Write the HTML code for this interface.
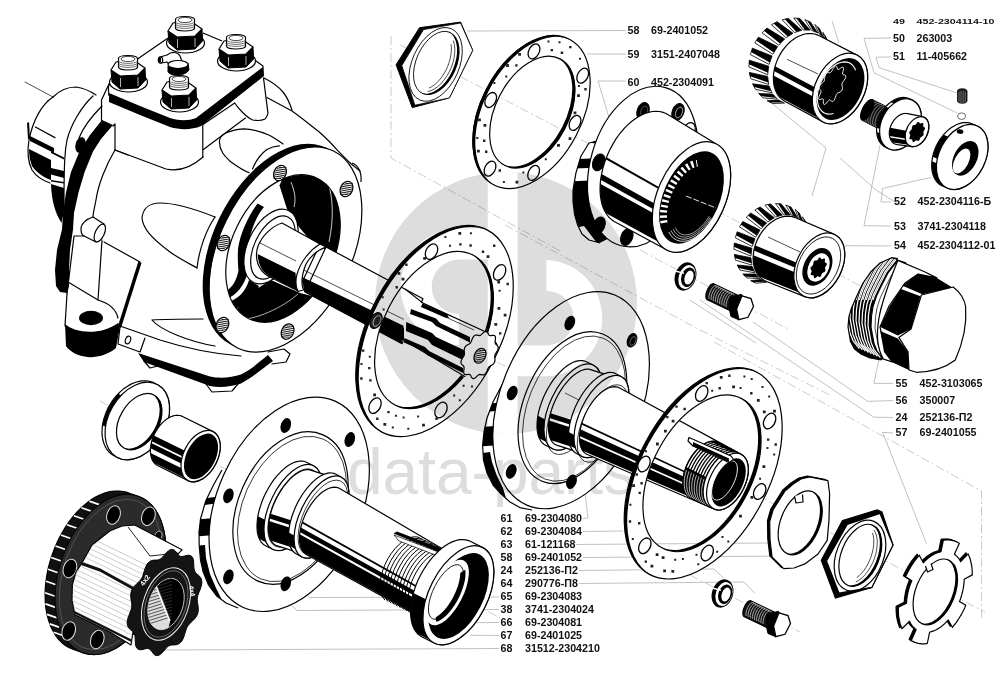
<!DOCTYPE html>
<html><head><meta charset="utf-8"><title>parts</title>
<style>
html,body{margin:0;padding:0;background:#fff;}
svg{display:block}
.lb text{font-family:"Liberation Sans",sans-serif;font-weight:bold;font-size:10.7px;fill:#111}
.k{fill:#000} .w{fill:#fff}
.o{fill:#fff;stroke:#000;stroke-width:1.2}
.l{fill:none;stroke:#000;stroke-width:1.2}
.t{fill:none;stroke:#000;stroke-width:0.7}
.g{fill:none;stroke:#999;stroke-width:0.6}
.d{fill:none;stroke:#aaa;stroke-width:0.6;stroke-dasharray:9 3 2 3}
</style></head>
<body>
<svg width="1007" height="682" viewBox="0 0 1007 682">
<rect width="1007" height="682" fill="#fff"/>
<g id="lines" fill="none"><path class="d" d="M400.0,45.0 L960.0,338.0"/><path class="d" d="M497.0,362.0 L985.0,612.0"/><path class="d" d="M100.0,401.0 L500.0,618.0"/><path class="d" d="M640.0,250.0 L790.0,330.0"/><path class="d" d="M690.0,575.0 L800.0,632.0"/><path class="d" d="M391.0,36.0 L391.0,158.0 L560.0,251.0"/><path class="d" d="M981.5,618.0 L981.5,491.0 L714.0,342.0"/><path class="d" d="M505.0,225.0 L700.0,330.0 L830.0,395.0"/><path class="g" d="M467.0,31.0 L626.0,30.5"/><path class="g" d="M587.0,54.0 L626.0,54.0"/><path class="g" d="M626.0,81.0 L598.0,81.0 L609.0,117.5"/><path class="g" d="M832.0,21.0 L839.0,43.0"/><path class="g" d="M891.0,38.0 L864.0,38.4 L874.0,72.7 L957.0,113.0"/><path class="g" d="M891.0,57.0 L876.0,57.2 L879.0,67.7 L956.6,92.8"/><path class="g" d="M891.0,202.0 L881.0,202.0 L882.6,188.5 L931.5,177.3"/><path class="g" d="M891.0,226.0 L864.0,225.7 L880.0,145.0"/><path class="g" d="M891.0,246.0 L842.5,245.7"/><path class="g" d="M893.0,383.4 L873.9,383.4 L878.9,359.6"/><path class="g" d="M893.0,400.5 L867.6,401.4 L753.0,322.0"/><path class="g" d="M893.0,417.5 L873.9,417.2 L700.0,300.0"/><path class="g" d="M893.0,433.0 L882.6,432.3 L926.5,543.6"/><path class="g" d="M583.0,518.5 L588.0,518.0 L584.0,485.0"/><path class="g" d="M583.0,531.5 L623.0,531.0"/><path class="g" d="M576.0,544.5 L770.0,543.0"/><path class="g" d="M583.0,557.5 L793.0,556.0"/><path class="g" d="M579.0,570.5 L714.0,569.0 L724.0,578.5"/><path class="g" d="M579.0,583.5 L744.0,582.0 L755.0,593.5"/><path class="g" d="M499.0,597.0 L309.5,597.5 L262.0,551.0"/><path class="g" d="M499.0,609.5 L297.0,610.5 L255.0,572.0"/><path class="g" d="M499.0,622.5 L442.0,622.8 L428.0,609.0"/><path class="g" d="M499.0,635.5 L470.0,635.3"/><path class="g" d="M160.0,650.0 L499.0,648.5"/><path class="g" d="M756.0,90.0 L826.0,148.0 L812.0,196.0"/><path class="g" d="M840.0,158.0 L876.0,190.0 L900.0,205.0"/><path class="g" d="M756.0,343.0 L690.0,300.0"/></g>
<g id="housing" stroke-linejoin="round" stroke-linecap="round">
<!-- input flange (left cylinder) -->
<path class="t" d="M25,82 L53,97"/>
<path class="l" d="M53,97 C42,104 33,120 29,140 C27,152 28,162 32,170 C36,176 44,181 50,183"/>
<path class="l" d="M53,97 C60,90 68,87 76,87 C84,88 90,91 96,95"/>
<path class="l" d="M93,96 C82,106 71,124 67,140 C65,150 64,160 64,206"/>
<path class="l" d="M102,106 C92,116 83,128 79,138"/>
<path class="k" d="M27,123 L29,122 L30,139 L28,139Z"/>
<path class="l" d="M35.4,127 L55,137.6"/>
<path class="k" d="M30,136 L54,148 L54,153 L30,141Z"/>
<path class="k" d="M29,149 L51,160 L51,180 C44,178 36,172 32,166 C30,161 29,155 29,149Z"/>
<path class="k" d="M51,151 L64,157.5 L64,159.5 L51,153Z M51,168 L64,171 L64,178 L51,174.5Z M51,180 L64,182 L64,183.5 L51,181.5Z"/>
<path class="k" d="M51,184 L64,188 L64,210 C63,216 62,220 61.5,223 C55,213 51.5,200 51,184Z"/>
<!-- collar thick band -->
<path class="k" d="M102,120 L90,135 L79.5,151.5 L71,172 L66,192.6 L63,213 L62,229.5 L57,250 L55,270 L56,286 L60,292 L67,293 L69,286 L69,270 L70,250 L73,229.5 L74,213 L78.5,192.6 L84.6,172 L93,151.5 L101,139 L113,125Z"/>
<ellipse class="k" cx="80.5" cy="145" rx="5" ry="8" transform="rotate(15 80.5 145)"/>
<!-- box body under cover -->
<path class="l" d="M101.5,100 L101.5,121 M109,84 L101.5,100 M115,124 L115,150 L128,155 M113,126 L115,124"/>
<path class="l" d="M115,150 L166,169 C180,172 193,166 203,157"/>
<path class="l" d="M115,150 C106,165 98,185 96,200 C94,210 93,214 93,217"/>
<!-- boss -->
<path class="l" d="M93,217 C86,219 81,224 81,229 C81,233 82,235 84,236 L96,242 M93,217 L104,224"/>
<ellipse class="l" cx="99.8" cy="233" rx="4.5" ry="9.5" transform="rotate(25 99.8 233)"/>
<!-- bracket -->
<path class="l" d="M84,236 L74,236 M104,242 L140,262 M102,240 L98,300 M74,236 L67,294"/>
<path class="k" d="M138.5,261 L141.5,263 L121,328 L118,326Z"/>
<path class="l" d="M68,282 L98,300 C108,303 116,309 118,318"/>
<path class="l" d="M67,294 L65,326"/>
<ellipse class="k" cx="91" cy="318" rx="12" ry="7.2"/>
<path class="k" d="M65,324 C75,333 100,336 118,323 L120,326 L116,348 C108,355 95,358 88,357 C78,356 70,352 66,346Z"/>
<!-- oval recess -->
<path class="l" d="M142,218 C143,208 150,203 160,203 C175,203 190,207 215,217 M142,218 C143,228 150,237 170,252 C180,259 190,264 197,268"/>
<path class="l" d="M215,217 C206,230 199,250 197,268"/>
<!-- bottom edge of housing -->
<path class="l" d="M120,326 L160,340 C185,348 215,354 241,356"/>
<path class="l" d="M120,327 L118,344 L140,352 L145,338"/>
<ellipse class="l" cx="128" cy="340" rx="2.5" ry="4" transform="rotate(20 128 340)"/>
<path class="l" d="M152,320 C165,319 185,319 203,319 M152,320 C160,330 190,342 215,346"/>
<path class="k" d="M138,353 L210,376.5 C222,379 232,377 241,374.5 C252,369 260,361 268,355 L273,361 C262,369 250,379 241,383.5 C230,387 220,388 210,386 L144,362Z"/>
<path class="l" d="M144,361 L150,368 L158,366 M206,384 L212,392 L232,391 L238,384"/>
<path class="l" d="M268,352 L284,349 L290,354 L286,362 L272,364"/>
<!-- neck / box right side lines -->
<path class="l" d="M202.8,124 L202.8,157 M203,124.4 L234.7,103 C238,108 246,117 252.6,120 C258,121 263,120 265,119 C268,116 268,112 267.8,111.8 L263.5,78"/>
<path class="l" d="M203.4,149.4 L245.4,118"/>
<path class="l" d="M219.5,140.4 C220,135 228,130 243.6,128.8 C255,129 262,132 268.7,135 C275,138 280,142 283,144 M219.5,140.4 C219,150 224,156 231,162 C238,167 244,171 249,172.6"/>
<path class="l" d="M252.6,169 C256,160 262,153 266.9,149.4 C271,147 276,146 279.4,145.8"/>
<path class="l" d="M264,78 C272,82 278,86 283,92 C288,98 290,104 292,110"/>
<path class="l" d="M266.9,97.5 L292,111 C302,118 310,125 318.7,131.5 C326,138 332,144 336.6,149.4 C342,155 348,161 351,163.7 L360,171"/>
</g>

<g id="cover" stroke-linejoin="round"><path class="l" d="M109,96 C108,88 108,84 112,80 L139,58 L168,38 M203,33 L222,41 M252,58 L263,66 L263,76"/><path class="k" d="M109,93 L140,106 L170,118 C180,121 188,121 196,118 L263,67 L264,76 L201,126 C192,130 180,130 170,127 L140,115 L109,102Z"/><g transform="translate(185,37)"><ellipse class="o" cx="0.5" cy="6" rx="19" ry="10"/><path class="k" d="M-17,-6 L-16,6 L-8,13 L10,12 L17.6,4 L17,-8 L10,-1 L-8,0Z" stroke="#000" stroke-width="1"/><path class="o" d="M-17,-6 L-12,-14 L4,-17 L17,-8 L10,-1 L-8,0Z"/><path class="o" d="M-9.5,-9 L-9.5,-17.5 C-9.5,-21.5 9.5,-21.5 9.5,-17.5 L9.5,-9 C9.5,-5 -9.5,-5 -9.5,-9Z"/><ellipse class="l" cx="0" cy="-17" rx="7" ry="2.6" style="stroke-width:.7"/><path class="l" style="stroke-width:.7;stroke:#333" d="M-9.5,-14.5 C-6,-12 6,-12 9.5,-14.5 M-9.5,-12.5 C-6,-10 6,-10 9.5,-12.5 M-9.5,-10.5 C-6,-8 6,-8 9.5,-10.5"/><path d="M-7.5,2 L-7.5,11 M10,1 L10,10" stroke="#fff" stroke-width="0.7" fill="none"/></g><g transform="translate(236,55)"><ellipse class="o" cx="0.5" cy="6" rx="19" ry="10"/><path class="k" d="M-17,-6 L-16,6 L-8,13 L10,12 L17.6,4 L17,-8 L10,-1 L-8,0Z" stroke="#000" stroke-width="1"/><path class="o" d="M-17,-6 L-12,-14 L4,-17 L17,-8 L10,-1 L-8,0Z"/><path class="o" d="M-9.5,-9 L-9.5,-17.5 C-9.5,-21.5 9.5,-21.5 9.5,-17.5 L9.5,-9 C9.5,-5 -9.5,-5 -9.5,-9Z"/><ellipse class="l" cx="0" cy="-17" rx="7" ry="2.6" style="stroke-width:.7"/><path class="l" style="stroke-width:.7;stroke:#333" d="M-9.5,-14.5 C-6,-12 6,-12 9.5,-14.5 M-9.5,-12.5 C-6,-10 6,-10 9.5,-12.5 M-9.5,-10.5 C-6,-8 6,-8 9.5,-10.5"/><path d="M-7.5,2 L-7.5,11 M10,1 L10,10" stroke="#fff" stroke-width="0.7" fill="none"/></g><g transform="translate(128,76)"><ellipse class="o" cx="0.5" cy="6" rx="19" ry="10"/><path class="k" d="M-17,-6 L-16,6 L-8,13 L10,12 L17.6,4 L17,-8 L10,-1 L-8,0Z" stroke="#000" stroke-width="1"/><path class="o" d="M-17,-6 L-12,-14 L4,-17 L17,-8 L10,-1 L-8,0Z"/><path class="o" d="M-9.5,-9 L-9.5,-17.5 C-9.5,-21.5 9.5,-21.5 9.5,-17.5 L9.5,-9 C9.5,-5 -9.5,-5 -9.5,-9Z"/><ellipse class="l" cx="0" cy="-17" rx="7" ry="2.6" style="stroke-width:.7"/><path class="l" style="stroke-width:.7;stroke:#333" d="M-9.5,-14.5 C-6,-12 6,-12 9.5,-14.5 M-9.5,-12.5 C-6,-10 6,-10 9.5,-12.5 M-9.5,-10.5 C-6,-8 6,-8 9.5,-10.5"/><path d="M-7.5,2 L-7.5,11 M10,1 L10,10" stroke="#fff" stroke-width="0.7" fill="none"/></g><path class="o" d="M160,57 L167,55 C172,51 178,52 180,56 L183,64 L170,66 L167,62 L161,63Z"/><ellipse class="o" cx="160.5" cy="60" rx="2.2" ry="3.2"/><path class="k" d="M159,58 L161,57.5 L161,62.5 L159,62Z"/><path class="k" d="M168,66 C172,69 184,68 188,63 L189,70 C185,76 172,77 168,72Z" stroke="#000"/><ellipse class="o" cx="178" cy="64.5" rx="10" ry="4"/><g transform="translate(179,96)"><ellipse class="o" cx="0.5" cy="6" rx="19" ry="10"/><path class="k" d="M-17,-6 L-16,6 L-8,13 L10,12 L17.6,4 L17,-8 L10,-1 L-8,0Z" stroke="#000" stroke-width="1"/><path class="o" d="M-17,-6 L-12,-14 L4,-17 L17,-8 L10,-1 L-8,0Z"/><path class="o" d="M-9.5,-9 L-9.5,-17.5 C-9.5,-21.5 9.5,-21.5 9.5,-17.5 L9.5,-9 C9.5,-5 -9.5,-5 -9.5,-9Z"/><ellipse class="l" cx="0" cy="-17" rx="7" ry="2.6" style="stroke-width:.7"/><path class="l" style="stroke-width:.7;stroke:#333" d="M-9.5,-14.5 C-6,-12 6,-12 9.5,-14.5 M-9.5,-12.5 C-6,-10 6,-10 9.5,-12.5 M-9.5,-10.5 C-6,-8 6,-8 9.5,-10.5"/><path d="M-7.5,2 L-7.5,11 M10,1 L10,10" stroke="#fff" stroke-width="0.7" fill="none"/></g></g>
<g id="oflange" stroke-linejoin="round"><ellipse class="k" cx="279" cy="246.3" rx="66" ry="109.5" transform="rotate(26 279 246.3)" /><ellipse class="o" cx="285.5" cy="249.5" rx="66" ry="109.5" transform="rotate(26 285.5 249.5)" /><path class="l" d="M352,163 C358,165 362,172 361,182"/><clipPath id="borec"><path d="M248.81,318.61 A51,78 26 1 0 317.19,178.39 A51,78 26 1 0 248.81,318.61Z"/></clipPath><ellipse class="o" cx="283" cy="248.5" rx="51" ry="78" transform="rotate(26 283 248.5)" /><g clip-path="url(#borec)"><path class="k" d="M279.5,185.6 L287,209 L299,227 L310,240 L345,262 L370,230 L340,160 L290,160Z"/><path class="k" d="M257.6,203.5 C248,216 240,234 238,249 C237.5,258 238,266 238.5,270 C237,280 232,288 226,291 L226,299 C236,296 246,284 248,270 C248,262 248,256 249.5,240 C252,226 258,214 264,207Z"/><path class="k" d="M249,280 C246,291 238,300 227,302 L229,310 C243,308 255,298 259,286Z"/><path class="k" d="M271,280 L300,293 L312,296 L290,335 L240,335 L231,314 L249,298 L258,288Z"/><path d="M236,320 C256,320 282,308 298,294" stroke="#fff" stroke-width="0.7" fill="none"/><path d="M328,182 C333,198 334,218 329,242" stroke="#fff" stroke-width="0.8" fill="none"/><path d="M291,182 C295,192 296,200 294,207" stroke="#fff" stroke-width="0.8" fill="none"/></g><ellipse class="o" cx="271" cy="246.5" rx="23" ry="40" transform="rotate(26 271 246.5)" /><ellipse class="o" cx="273" cy="247.5" rx="18.5" ry="34" transform="rotate(26 273 247.5)" /><ellipse class="o" cx="280" cy="173" rx="6" ry="8" transform="rotate(26 280 173)" /><g transform="rotate(26 280 173)"><path d="M276.4,168.5 L283.6,165.5 M275.3,170.5 L284.7,167.5 M274.8,172.5 L285.2,169.5 M274.6,174.5 L285.4,171.5 M274.8,176.5 L285.2,173.5 M275.3,178.5 L284.7,175.5 M276.4,180.5 L283.6,177.5 " stroke="#000" stroke-width="0.8" fill="none"/></g><ellipse class="o" cx="346.5" cy="189" rx="6" ry="8" transform="rotate(26 346.5 189)" /><g transform="rotate(26 346.5 189)"><path d="M342.9,184.5 L350.1,181.5 M341.8,186.5 L351.2,183.5 M341.3,188.5 L351.7,185.5 M341.1,190.5 L351.9,187.5 M341.3,192.5 L351.7,189.5 M341.8,194.5 L351.2,191.5 M342.9,196.5 L350.1,193.5 " stroke="#000" stroke-width="0.8" fill="none"/></g><ellipse class="o" cx="223.5" cy="243" rx="6" ry="8" transform="rotate(26 223.5 243)" /><g transform="rotate(26 223.5 243)"><path d="M219.9,238.5 L227.1,235.5 M218.8,240.5 L228.2,237.5 M218.3,242.5 L228.7,239.5 M218.1,244.5 L228.9,241.5 M218.3,246.5 L228.7,243.5 M218.8,248.5 L228.2,245.5 M219.9,250.5 L227.1,247.5 " stroke="#000" stroke-width="0.8" fill="none"/></g><ellipse class="o" cx="222.4" cy="325" rx="6" ry="8" transform="rotate(26 222.4 325)" /><g transform="rotate(26 222.4 325)"><path d="M218.8,320.5 L226.0,317.5 M217.7,322.5 L227.1,319.5 M217.2,324.5 L227.6,321.5 M217.0,326.5 L227.8,323.5 M217.2,328.5 L227.6,325.5 M217.7,330.5 L227.1,327.5 M218.8,332.5 L226.0,329.5 " stroke="#000" stroke-width="0.8" fill="none"/></g><ellipse class="o" cx="287.6" cy="331.6" rx="6" ry="8" transform="rotate(26 287.6 331.6)" /><g transform="rotate(26 287.6 331.6)"><path d="M284.0,327.1 L291.2,324.1 M282.9,329.1 L292.3,326.1 M282.4,331.1 L292.8,328.1 M282.2,333.1 L293.0,330.1 M282.4,335.1 L292.8,332.1 M282.9,337.1 L292.3,334.1 M284.0,339.1 L291.2,336.1 " stroke="#000" stroke-width="0.8" fill="none"/></g></g>
<g id="shaft" stroke-linejoin="round"><path class="o" d="M282,223 L320,244 L298,291 L268,276 C258,270 254,258 258,246 C262,236 272,226 282,223Z"/><path class="k" d="M257.6,254 L295.5,272.7 L297,290.5 L271,277 C264,274 258,266 257.6,254Z"/><path class="t" d="M260,243 L296,261"/><path class="o" d="M326,247 L423,298.7 L402,343.7 L305,292Z"/><path class="k" d="M302,277 L404,326 L402,343.7 L304,291.5Z"/><path class="t" d="M302.7,269.5 L404,319.5"/><path class="o" d="M320,244 C310,250 300,262 296.5,276 C295.5,282 296,288 298,291.5 L303.5,290 C301,284 302,274 306,264 C311,255 318,250 326,247Z"/></g>
<g id="ring2"><path fill="#fff" fill-rule="evenodd" d="M381.86,432.12 A66,114 27.5 1 0 487.14,229.88 A66,114 27.5 1 0 381.86,432.12Z M394.98,404.95 A50.5,84.5 27.5 1 0 473.02,255.05 A50.5,84.5 27.5 1 0 394.98,404.95Z"/><clipPath id="c5d0b3"><path clip-rule="evenodd" d="M-100,-100 H1200 V900 H-100Z M384.86,433.62 A66,114 27.5 1 0 490.14,231.38 A66,114 27.5 1 0 384.86,433.62Z"/></clipPath><path d="M381.86,432.12 A66,114 27.5 1 0 487.14,229.88 A66,114 27.5 1 0 381.86,432.12Z" fill="#000" clip-path="url(#c5d0b3)"/><clipPath id="c5d0b4"><path clip-rule="evenodd" d="M-100,-100 H1200 V900 H-100Z M391.98,403.45 A50.5,84.5 27.5 1 0 470.02,253.55 A50.5,84.5 27.5 1 0 391.98,403.45Z"/></clipPath><path d="M394.98,404.95 A50.5,84.5 27.5 1 0 473.02,255.05 A50.5,84.5 27.5 1 0 394.98,404.95Z" fill="#000" clip-path="url(#c5d0b4)"/><ellipse class="l" cx="434.5" cy="331" rx="66" ry="114" transform="rotate(27.5 434.5 331)" /><ellipse class="l" cx="434" cy="330" rx="50.5" ry="84.5" transform="rotate(27.5 434 330)" /><ellipse class="o" cx="431.5" cy="251.6" rx="5.5" ry="8.3" transform="rotate(27.5 431.5 251.6)" style="stroke-width:1.3"/><ellipse class="o" cx="499.6" cy="272.4" rx="5.5" ry="8.3" transform="rotate(27.5 499.6 272.4)" style="stroke-width:1.3"/><ellipse class="o" cx="491.0" cy="349.2" rx="5.5" ry="8.3" transform="rotate(27.5 491.0 349.2)" style="stroke-width:1.3"/><ellipse class="o" cx="441.0" cy="410" rx="5.5" ry="8.3" transform="rotate(27.5 441.0 410)" style="stroke-width:1.3"/><ellipse class="o" cx="375.0" cy="405.6" rx="5.5" ry="8.3" transform="rotate(27.5 375.0 405.6)" style="stroke-width:1.3"/><ellipse class="o" cx="376.0" cy="320.5" rx="5.5" ry="8.3" transform="rotate(27.5 376.0 320.5)" style="fill:#222"/><ellipse class="l" cx="377.0" cy="321.0" rx="3.3" ry="5.800000000000001" transform="rotate(27.5 377.0 321.0)" style="stroke:#ddd;stroke-width:.7"/><path d="M481.5,356.1h2.8v2.8h-2.8Z M481.7,368.9h2.8v2.8h-2.8Z M472.6,371.3h2.4v2.4h-2.4Z M471.0,385.4h2.0v2.0h-2.0Z M462.6,384.7h2.0v2.0h-2.0Z M458.8,399.3h2.0v2.0h-2.0Z M453.2,394.5h2.0v2.0h-2.0Z M435.3,417.6h2.4v2.4h-2.4Z M422.1,423.7h2.8v2.8h-2.8Z M417.1,415.4h2.0v2.0h-2.0Z M407.3,427.8h2.0v2.0h-2.0Z M402.6,416.4h2.0v2.0h-2.0Z M391.8,426.6h2.0v2.0h-2.0Z M394.9,414.7h2.0v2.0h-2.0Z M383.4,422.9h2.8v2.8h-2.8Z M387.3,410.9h2.4v2.4h-2.4Z M376.1,417.6h2.4v2.4h-2.4Z M373.2,393.4h2.8v2.8h-2.8Z M369.2,379.2h2.4v2.4h-2.4Z M360.2,377.3h2.4v2.4h-2.4Z M368.1,366.9h2.4v2.4h-2.4Z M360.5,362.9h2.0v2.0h-2.0Z M368.8,355.8h2.0v2.0h-2.0Z M362.0,349.4h2.4v2.4h-2.4Z M382.6,308.5h2.0v2.0h-2.0Z M381.7,296.2h2.0v2.0h-2.0Z M395.5,286.1h2.4v2.4h-2.4Z M397.5,271.9h2.8v2.8h-2.8Z M401.6,277.7h2.8v2.8h-2.8Z M405.2,263.5h2.4v2.4h-2.4Z M423.2,257.0h2.8v2.8h-2.8Z M444.4,235.9h2.0v2.0h-2.0Z M449.0,244.8h2.0v2.0h-2.0Z M458.4,231.9h2.8v2.8h-2.8Z M459.2,243.2h2.4v2.4h-2.4Z M469.9,232.3h2.0v2.0h-2.0Z M469.4,244.3h2.4v2.4h-2.4Z M481.8,250.6h2.4v2.4h-2.4Z M493.0,244.6h2.4v2.4h-2.4Z M486.6,255.2h2.8v2.8h-2.8Z M497.3,280.6h2.8v2.8h-2.8Z M506.5,282.8h2.4v2.4h-2.4Z M498.6,289.8h2.0v2.0h-2.0Z M497.5,307.0h2.8v2.8h-2.8Z M503.7,313.7h2.8v2.8h-2.8Z M494.4,323.0h2.8v2.8h-2.8Z M499.0,332.2h2.4v2.4h-2.4Z M490.2,337.9h2.0v2.0h-2.0Z " fill="#222"/></g>
<g id="spline" stroke-linejoin="round"><path class="o" d="M421,303 L488,333 L466,378 L403,341 L405,289Z" style="stroke:none"/><path class="l" d="M405,289 L423.4,303.4 L488.2,333 M404.3,340.6 L465.3,376.8"/><path class="k" d="M384,318 L404,328 L404,341 L384,331Z"/><path class="k" d="M422.4,303.5 L447,314 L449,318 L445,317.5 L421,307Z"/><path class="k" d="M411,309 L436,318.5 L440,323 L470,337 L470,342.5 L436,326 L432,322 L410,314Z"/><path class="k" d="M406.2,322 L432,333 L436,337 L466,351 L466,361.5 L432,345 L428,340 L406,331Z"/><path class="k" d="M404.3,338 L425,347 L429,351 L463,368 L463,373 L427,355 L423,351 L404,342.5Z"/><path class="t" d="M428,309 L474,330 M420,329 L430,334 M436,345 L464,359"/><path class="o" d="M494.4,362.5 L493.6,363.6 L492.7,364.5 L491.6,365.2 L490.5,365.8 L489.5,366.5 L488.7,367.2 L488.1,368.2 L487.6,369.4 L487.1,370.8 L486.5,372.1 L485.7,373.4 L484.8,374.3 L483.9,374.8 L482.8,374.9 L481.8,374.8 L480.9,374.6 L480.0,374.4 L479.1,374.6 L478.3,375.1 L477.3,375.9 L476.4,376.9 L475.3,377.8 L474.3,378.4 L473.3,378.6 L472.5,378.4 L471.8,377.7 L471.2,376.8 L470.8,375.8 L470.3,375.0 L469.7,374.5 L468.9,374.3 L468.0,374.4 L466.9,374.6 L465.8,374.7 L464.9,374.5 L464.2,374.0 L463.8,373.1 L463.7,371.8 L463.8,370.5 L464.0,369.1 L464.1,367.9 L464.0,366.9 L463.6,366.1 L463.0,365.5 L462.3,364.8 L461.6,364.1 L461.1,363.2 L460.9,362.1 L461.2,360.8 L461.7,359.5 L462.5,358.2 L463.2,357.0 L463.9,355.9 L464.3,354.8 L464.5,353.7 L464.4,352.6 L464.3,351.3 L464.2,350.0 L464.4,348.7 L464.8,347.5 L465.6,346.4 L466.5,345.5 L467.6,344.8 L468.7,344.2 L469.7,343.5 L470.5,342.8 L471.1,341.8 L471.6,340.6 L472.1,339.2 L472.7,337.9 L473.5,336.6 L474.4,335.7 L475.3,335.2 L476.4,335.1 L477.4,335.2 L478.3,335.4 L479.2,335.6 L480.1,335.4 L480.9,334.9 L481.9,334.1 L482.8,333.1 L483.9,332.2 L484.9,331.6 L485.9,331.4 L486.7,331.6 L487.4,332.3 L488.0,333.2 L488.4,334.2 L488.9,335.0 L489.5,335.5 L490.3,335.7 L491.2,335.6 L492.3,335.4 L493.4,335.3 L494.3,335.5 L495.0,336.0 L495.4,336.9 L495.5,338.2 L495.4,339.5 L495.2,340.9 L495.1,342.1 L495.2,343.1 L495.6,343.9 L496.2,344.5 L496.9,345.2 L497.6,345.9 L498.1,346.8 L498.3,347.9 L498.0,349.2 L497.5,350.5 L496.7,351.8 L496.0,353.0 L495.3,354.1 L494.9,355.2 L494.7,356.3 L494.8,357.4 L494.9,358.7 L495.0,360.0 L494.8,361.3Z"/><ellipse class="o" cx="480" cy="355.8" rx="5.5" ry="7.8" transform="rotate(27 480 355.8)" /><g transform="rotate(27 480 355.8)"><path d="M476.8,351.3 L483.2,348.3 M475.8,353.3 L484.2,350.3 M475.2,355.3 L484.8,352.3 M475.1,357.3 L484.9,354.3 M475.2,359.3 L484.8,356.3 M475.8,361.3 L484.2,358.3 M476.8,363.3 L483.2,360.3 " stroke="#000" stroke-width="0.8" fill="none"/></g></g>
<g id="race" stroke-linejoin="round"><clipPath id="hb46f1"><path d="M102.0,431.7 L102.2,428.5 L102.5,425.2 L103.1,421.8 L104.0,418.4 L105.1,415.1 L106.4,411.7 L107.9,408.4 L109.6,405.2 L111.5,402.2 L113.6,399.2 L115.8,396.4 L118.2,393.8 L120.7,391.4 L123.3,389.1 L126.0,387.2 L128.8,385.4 L131.6,383.9 L134.4,382.7 L137.2,381.8 L140.0,381.2 L142.7,380.8 L145.4,380.8 L148.0,381.0 L150.5,381.6 L152.9,382.4 L155.1,383.5 L158.1,385.0 L160.2,386.4 L162.1,388.0 L163.8,389.9 L165.3,392.0 L166.6,394.4 L167.7,396.9 L168.5,399.7 L169.1,402.6 L169.5,405.6 L169.6,408.8 L169.4,412.0 L169.1,415.3 L168.5,418.7 L167.6,422.1 L166.5,425.4 L165.2,428.8 L163.7,432.1 L162.0,435.2 L160.1,438.3 L158.0,441.3 L155.8,444.1 L153.4,446.7 L150.9,449.1 L148.3,451.4 L145.6,453.3 L142.8,455.1 L140.0,456.6 L137.2,457.8 L134.4,458.7 L131.6,459.3 L128.9,459.7 L126.2,459.7 L123.6,459.5 L121.1,458.9 L118.7,458.1 L116.5,457.0 L113.5,455.5 L111.4,454.1 L109.5,452.5 L107.8,450.6 L106.3,448.5 L105.0,446.1 L104.0,443.6 L103.1,440.8 L102.5,437.9 L102.1,434.9Z"/></clipPath><path d="M102.0,431.7 L102.2,428.5 L102.5,425.2 L103.1,421.8 L104.0,418.4 L105.1,415.1 L106.4,411.7 L107.9,408.4 L109.6,405.2 L111.5,402.2 L113.6,399.2 L115.8,396.4 L118.2,393.8 L120.7,391.4 L123.3,389.1 L126.0,387.2 L128.8,385.4 L131.6,383.9 L134.4,382.7 L137.2,381.8 L140.0,381.2 L142.7,380.8 L145.4,380.8 L148.0,381.0 L150.5,381.6 L152.9,382.4 L155.1,383.5 L158.1,385.0 L160.2,386.4 L162.1,388.0 L163.8,389.9 L165.3,392.0 L166.6,394.4 L167.7,396.9 L168.5,399.7 L169.1,402.6 L169.5,405.6 L169.6,408.8 L169.4,412.0 L169.1,415.3 L168.5,418.7 L167.6,422.1 L166.5,425.4 L165.2,428.8 L163.7,432.1 L162.0,435.2 L160.1,438.3 L158.0,441.3 L155.8,444.1 L153.4,446.7 L150.9,449.1 L148.3,451.4 L145.6,453.3 L142.8,455.1 L140.0,456.6 L137.2,457.8 L134.4,458.7 L131.6,459.3 L128.9,459.7 L126.2,459.7 L123.6,459.5 L121.1,458.9 L118.7,458.1 L116.5,457.0 L113.5,455.5 L111.4,454.1 L109.5,452.5 L107.8,450.6 L106.3,448.5 L105.0,446.1 L104.0,443.6 L103.1,440.8 L102.5,437.9 L102.1,434.9Z" fill="#fff"/><g clip-path="url(#hb46f1)"><path class="k" d="M102.5,425.2 L103.1,421.8 L104.0,418.4 L105.1,415.1 L106.4,411.7 L107.9,408.4 L109.6,405.2 L111.5,402.2 L113.6,399.2 L115.8,396.4 L118.2,393.8 L121.2,395.3 L118.8,397.9 L116.6,400.7 L114.5,403.7 L112.6,406.8 L110.9,409.9 L109.4,413.2 L108.1,416.6 L107.0,419.9 L106.1,423.3 L105.5,426.7Z"/></g><path class="l" d="M102.0,431.7 L102.2,428.5 L102.5,425.2 L103.1,421.8 L104.0,418.4 L105.1,415.1 L106.4,411.7 L107.9,408.4 L109.6,405.2 L111.5,402.2 L113.6,399.2 L115.8,396.4 L118.2,393.8 L120.7,391.4 L123.3,389.1 L126.0,387.2 L128.8,385.4 L131.6,383.9 L134.4,382.7 L137.2,381.8 L140.0,381.2 L142.7,380.8 L145.4,380.8 L148.0,381.0 L150.5,381.6 L152.9,382.4 L155.1,383.5 L158.1,385.0 L160.2,386.4 L162.1,388.0 L163.8,389.9 L165.3,392.0 L166.6,394.4 L167.7,396.9 L168.5,399.7 L169.1,402.6 L169.5,405.6 L169.6,408.8 L169.4,412.0 L169.1,415.3 L168.5,418.7 L167.6,422.1 L166.5,425.4 L165.2,428.8 L163.7,432.1 L162.0,435.2 L160.1,438.3 L158.0,441.3 L155.8,444.1 L153.4,446.7 L150.9,449.1 L148.3,451.4 L145.6,453.3 L142.8,455.1 L140.0,456.6 L137.2,457.8 L134.4,458.7 L131.6,459.3 L128.9,459.7 L126.2,459.7 L123.6,459.5 L121.1,458.9 L118.7,458.1 L116.5,457.0 L113.5,455.5 L111.4,454.1 L109.5,452.5 L107.8,450.6 L106.3,448.5 L105.0,446.1 L104.0,443.6 L103.1,440.8 L102.5,437.9 L102.1,434.9Z"/><ellipse class="o" cx="137.3" cy="421" rx="28.5" ry="41.6" transform="rotate(30 137.3 421)" /><clipPath id="cb46f1"><path clip-rule="evenodd" d="M-100,-100 H1200 V900 H-100Z M121.35,446.81 A19.5,30.5 30 1 0 151.85,393.99 A19.5,30.5 30 1 0 121.35,446.81Z"/></clipPath><path d="M123.95,448.01 A19.5,30.5 30 1 0 154.45,395.19 A19.5,30.5 30 1 0 123.95,448.01Z" fill="#000" clip-path="url(#cb46f1)"/><ellipse class="l" cx="139.2" cy="421.6" rx="19.5" ry="30.5" transform="rotate(30 139.2 421.6)" /></g><g id="bush" stroke-linejoin="round"><clipPath id="hb46f2"><path d="M150.4,450.8 L150.4,448.7 L150.6,446.6 L151.0,444.4 L151.5,442.1 L152.1,439.9 L152.9,437.6 L153.8,435.4 L154.8,433.3 L156.0,431.2 L157.2,429.1 L158.6,427.2 L160.0,425.4 L161.6,423.6 L163.1,422.1 L164.8,420.6 L166.4,419.3 L168.1,418.2 L169.8,417.3 L171.5,416.5 L173.2,415.9 L174.9,415.5 L176.6,415.3 L178.1,415.3 L179.7,415.5 L181.1,415.9 L182.5,416.5 L213.1,431.6 L214.4,432.4 L215.5,433.3 L216.6,434.4 L217.5,435.7 L218.3,437.1 L219.0,438.7 L219.5,440.5 L219.9,442.3 L220.1,444.2 L220.2,446.3 L220.2,448.4 L220.0,450.5 L219.6,452.7 L219.1,455.0 L218.5,457.2 L217.7,459.4 L216.8,461.6 L215.8,463.8 L214.6,465.9 L213.3,468.0 L212.0,469.9 L210.6,471.7 L209.1,473.4 L207.5,475.0 L205.8,476.5 L204.2,477.8 L202.5,478.9 L200.8,479.8 L199.1,480.6 L197.4,481.2 L195.7,481.6 L194.1,481.8 L192.5,481.8 L190.9,481.6 L189.5,481.2 L188.1,480.6 L157.5,465.5 L156.2,464.7 L155.1,463.8 L154.0,462.7 L153.1,461.4 L152.3,459.9 L151.6,458.4 L151.1,456.6 L150.7,454.8 L150.5,452.9Z"/></clipPath><path d="M150.4,450.8 L150.4,448.7 L150.6,446.6 L151.0,444.4 L151.5,442.1 L152.1,439.9 L152.9,437.6 L153.8,435.4 L154.8,433.3 L156.0,431.2 L157.2,429.1 L158.6,427.2 L160.0,425.4 L161.6,423.6 L163.1,422.1 L164.8,420.6 L166.4,419.3 L168.1,418.2 L169.8,417.3 L171.5,416.5 L173.2,415.9 L174.9,415.5 L176.6,415.3 L178.1,415.3 L179.7,415.5 L181.1,415.9 L182.5,416.5 L213.1,431.6 L214.4,432.4 L215.5,433.3 L216.6,434.4 L217.5,435.7 L218.3,437.1 L219.0,438.7 L219.5,440.5 L219.9,442.3 L220.1,444.2 L220.2,446.3 L220.2,448.4 L220.0,450.5 L219.6,452.7 L219.1,455.0 L218.5,457.2 L217.7,459.4 L216.8,461.6 L215.8,463.8 L214.6,465.9 L213.3,468.0 L212.0,469.9 L210.6,471.7 L209.1,473.4 L207.5,475.0 L205.8,476.5 L204.2,477.8 L202.5,478.9 L200.8,479.8 L199.1,480.6 L197.4,481.2 L195.7,481.6 L194.1,481.8 L192.5,481.8 L190.9,481.6 L189.5,481.2 L188.1,480.6 L157.5,465.5 L156.2,464.7 L155.1,463.8 L154.0,462.7 L153.1,461.4 L152.3,459.9 L151.6,458.4 L151.1,456.6 L150.7,454.8 L150.5,452.9Z" fill="#fff"/><g clip-path="url(#hb46f2)"><path class="k" d="M154.2,462.9 L153.6,462.2 L153.1,461.3 L152.5,460.5 L152.1,459.5 L151.7,458.5 L151.3,457.5 L151.0,456.4 L150.8,455.3 L150.6,454.1 L150.5,452.9 L181.1,468.0 L181.2,469.2 L181.4,470.4 L181.6,471.5 L181.9,472.6 L182.3,473.6 L182.7,474.6 L183.1,475.6 L183.7,476.4 L184.2,477.3 L184.8,478.0Z"/><path class="k" d="M150.5,448.3 L150.6,447.0 L150.8,445.8 L151.0,444.5 L151.2,443.2 L151.6,441.9 L151.9,440.6 L152.3,439.3 L152.8,438.0 L153.3,436.7 L153.8,435.4 L184.4,450.5 L183.9,451.8 L183.4,453.1 L182.9,454.4 L182.5,455.7 L182.2,457.0 L181.8,458.3 L181.6,459.6 L181.4,460.9 L181.2,462.1 L181.1,463.4Z"/><path class="w" d="M151.3,443.0 L151.3,442.8 L151.4,442.7 L151.4,442.5 L151.5,442.3 L151.5,442.1 L151.5,441.9 L151.6,441.8 L151.6,441.6 L151.7,441.4 L151.7,441.2 L182.3,456.3 L182.3,456.5 L182.2,456.7 L182.2,456.9 L182.1,457.0 L182.1,457.2 L182.1,457.4 L182.0,457.6 L182.0,457.8 L181.9,457.9 L181.9,458.1Z"/></g><path class="l" d="M150.4,450.8 L150.4,448.7 L150.6,446.6 L151.0,444.4 L151.5,442.1 L152.1,439.9 L152.9,437.6 L153.8,435.4 L154.8,433.3 L156.0,431.2 L157.2,429.1 L158.6,427.2 L160.0,425.4 L161.6,423.6 L163.1,422.1 L164.8,420.6 L166.4,419.3 L168.1,418.2 L169.8,417.3 L171.5,416.5 L173.2,415.9 L174.9,415.5 L176.6,415.3 L178.1,415.3 L179.7,415.5 L181.1,415.9 L182.5,416.5 L213.1,431.6 L214.4,432.4 L215.5,433.3 L216.6,434.4 L217.5,435.7 L218.3,437.1 L219.0,438.7 L219.5,440.5 L219.9,442.3 L220.1,444.2 L220.2,446.3 L220.2,448.4 L220.0,450.5 L219.6,452.7 L219.1,455.0 L218.5,457.2 L217.7,459.4 L216.8,461.6 L215.8,463.8 L214.6,465.9 L213.3,468.0 L212.0,469.9 L210.6,471.7 L209.1,473.4 L207.5,475.0 L205.8,476.5 L204.2,477.8 L202.5,478.9 L200.8,479.8 L199.1,480.6 L197.4,481.2 L195.7,481.6 L194.1,481.8 L192.5,481.8 L190.9,481.6 L189.5,481.2 L188.1,480.6 L157.5,465.5 L156.2,464.7 L155.1,463.8 L154.0,462.7 L153.1,461.4 L152.3,459.9 L151.6,458.4 L151.1,456.6 L150.7,454.8 L150.5,452.9Z"/><ellipse class="o" cx="200.6" cy="456.1" rx="17" ry="27.5" transform="rotate(27 200.6 456.1)" /><ellipse class="k" cx="201" cy="456.4" rx="14.5" ry="24.5" transform="rotate(27 201 456.4)" /></g>
<g id="p65" stroke-linejoin="round"><clipPath id="rim65"><path d="M222.0,470.0 L214.0,484.0 L205.8,500.7 L200.5,519.0 L199.0,532.0 L199.2,545.5 L200.5,560.0 L203.2,572.0 L208.5,585.0 L216.4,595.7 L226.0,603.0 L238.0,608.0 L256.0,604.0 L236.0,575.0 L228.0,535.0 L238.0,480.0Z"/></clipPath><g clip-path="url(#rim65)"><path class="w" d="M222.0,470.0 L214.0,484.0 L205.8,500.7 L200.5,519.0 L199.0,532.0 L199.2,545.5 L200.5,560.0 L203.2,572.0 L208.5,585.0 L216.4,595.7 L226.0,603.0 L238.0,608.0 L256.0,604.0 L236.0,575.0 L228.0,535.0 L238.0,480.0Z"/><path class="k" d="M190,500 L240,494 L240,500 L190,507Z M190,520 L240,516 L240,533 L190,537Z"/><path class="k" d="M199.2,545.5 L200.5,560.0 L203.2,572.0 L208.5,585.0 L216.4,595.7 L222.0,600.0 L216.0,588.0 L210.0,574.0 L206.0,558.0 L205.0,545.0Z"/></g><path class="l" d="M222.0,470.0 L214.0,484.0 L205.8,500.7 L200.5,519.0 L199.0,532.0 L199.2,545.5 L200.5,560.0 L203.2,572.0 L208.5,585.0 L216.4,595.7 L226.0,603.0 L238.0,608.0"/><ellipse class="o" cx="289.2" cy="504.3" rx="71.8" ry="112.9" transform="rotate(24 289.2 504.3)" /><ellipse class="l" cx="290.5" cy="508" rx="52" ry="80" transform="rotate(24 290.5 508)" /><ellipse class="t" cx="292" cy="509" rx="49" ry="76.5" transform="rotate(24 292 509)" /><ellipse class="k" cx="285.8" cy="425.5" rx="5" ry="7.6" transform="rotate(19 285.8 425.5)" /><ellipse class="k" cx="349.8" cy="439.5" rx="5" ry="7.6" transform="rotate(19 349.8 439.5)" /><ellipse class="k" cx="228.4" cy="495.8" rx="5" ry="7.6" transform="rotate(19 228.4 495.8)" /><ellipse class="k" cx="228.4" cy="576.8" rx="5" ry="7.6" transform="rotate(19 228.4 576.8)" /><ellipse class="k" cx="285.8" cy="583.8" rx="5" ry="7.6" transform="rotate(19 285.8 583.8)" /><clipPath id="h0ae51"><path d="M257.0,526.4 L257.1,523.1 L257.4,519.7 L257.9,516.2 L258.6,512.5 L259.6,508.8 L260.8,505.1 L262.1,501.3 L263.6,497.6 L265.3,493.9 L267.2,490.3 L269.2,486.8 L271.3,483.4 L273.6,480.2 L275.9,477.2 L278.3,474.4 L280.8,471.8 L283.3,469.4 L285.8,467.3 L288.3,465.5 L290.8,464.0 L293.3,462.8 L295.7,461.9 L298.1,461.3 L300.3,461.0 L302.5,461.1 L304.5,461.5 L306.4,462.2 L313.4,465.7 L315.1,466.7 L316.7,468.1 L318.0,469.7 L319.2,471.7 L320.2,473.9 L321.0,476.4 L321.6,479.1 L321.9,482.0 L322.0,485.1 L321.9,488.4 L321.6,491.8 L321.1,495.3 L320.4,499.0 L319.4,502.7 L318.2,506.4 L316.9,510.2 L315.4,513.9 L313.7,517.6 L311.8,521.2 L309.8,524.7 L307.7,528.1 L305.4,531.3 L303.1,534.3 L300.7,537.1 L298.2,539.7 L295.7,542.1 L293.2,544.2 L290.7,546.0 L288.2,547.5 L285.7,548.7 L283.3,549.6 L280.9,550.2 L278.7,550.5 L276.5,550.4 L274.5,550.0 L272.6,549.3 L265.6,545.8 L263.9,544.8 L262.3,543.4 L261.0,541.8 L259.8,539.8 L258.8,537.6 L258.0,535.1 L257.4,532.5 L257.1,529.5Z"/></clipPath><path d="M257.0,526.4 L257.1,523.1 L257.4,519.7 L257.9,516.2 L258.6,512.5 L259.6,508.8 L260.8,505.1 L262.1,501.3 L263.6,497.6 L265.3,493.9 L267.2,490.3 L269.2,486.8 L271.3,483.4 L273.6,480.2 L275.9,477.2 L278.3,474.4 L280.8,471.8 L283.3,469.4 L285.8,467.3 L288.3,465.5 L290.8,464.0 L293.3,462.8 L295.7,461.9 L298.1,461.3 L300.3,461.0 L302.5,461.1 L304.5,461.5 L306.4,462.2 L313.4,465.7 L315.1,466.7 L316.7,468.1 L318.0,469.7 L319.2,471.7 L320.2,473.9 L321.0,476.4 L321.6,479.1 L321.9,482.0 L322.0,485.1 L321.9,488.4 L321.6,491.8 L321.1,495.3 L320.4,499.0 L319.4,502.7 L318.2,506.4 L316.9,510.2 L315.4,513.9 L313.7,517.6 L311.8,521.2 L309.8,524.7 L307.7,528.1 L305.4,531.3 L303.1,534.3 L300.7,537.1 L298.2,539.7 L295.7,542.1 L293.2,544.2 L290.7,546.0 L288.2,547.5 L285.7,548.7 L283.3,549.6 L280.9,550.2 L278.7,550.5 L276.5,550.4 L274.5,550.0 L272.6,549.3 L265.6,545.8 L263.9,544.8 L262.3,543.4 L261.0,541.8 L259.8,539.8 L258.8,537.6 L258.0,535.1 L257.4,532.5 L257.1,529.5Z" fill="#fff"/><g clip-path="url(#h0ae51)"><path class="k" d="M259.4,539.0 L258.7,537.2 L258.1,535.4 L257.6,533.3 L257.3,531.2 L257.1,528.9 L257.0,526.6 L257.0,524.1 L257.2,521.5 L257.5,518.9 L257.9,516.2 L264.9,519.7 L264.5,522.4 L264.2,525.0 L264.0,527.6 L264.0,530.1 L264.1,532.4 L264.3,534.7 L264.6,536.8 L265.1,538.9 L265.7,540.7 L266.4,542.5Z"/></g><path class="l" d="M257.0,526.4 L257.1,523.1 L257.4,519.7 L257.9,516.2 L258.6,512.5 L259.6,508.8 L260.8,505.1 L262.1,501.3 L263.6,497.6 L265.3,493.9 L267.2,490.3 L269.2,486.8 L271.3,483.4 L273.6,480.2 L275.9,477.2 L278.3,474.4 L280.8,471.8 L283.3,469.4 L285.8,467.3 L288.3,465.5 L290.8,464.0 L293.3,462.8 L295.7,461.9 L298.1,461.3 L300.3,461.0 L302.5,461.1 L304.5,461.5 L306.4,462.2 L313.4,465.7 L315.1,466.7 L316.7,468.1 L318.0,469.7 L319.2,471.7 L320.2,473.9 L321.0,476.4 L321.6,479.1 L321.9,482.0 L322.0,485.1 L321.9,488.4 L321.6,491.8 L321.1,495.3 L320.4,499.0 L319.4,502.7 L318.2,506.4 L316.9,510.2 L315.4,513.9 L313.7,517.6 L311.8,521.2 L309.8,524.7 L307.7,528.1 L305.4,531.3 L303.1,534.3 L300.7,537.1 L298.2,539.7 L295.7,542.1 L293.2,544.2 L290.7,546.0 L288.2,547.5 L285.7,548.7 L283.3,549.6 L280.9,550.2 L278.7,550.5 L276.5,550.4 L274.5,550.0 L272.6,549.3 L265.6,545.8 L263.9,544.8 L262.3,543.4 L261.0,541.8 L259.8,539.8 L258.8,537.6 L258.0,535.1 L257.4,532.5 L257.1,529.5Z"/><ellipse class="o" cx="293" cy="507.5" rx="23" ry="46.5" transform="rotate(26 293 507.5)" /><ellipse class="t" cx="294" cy="508.0" rx="20.5" ry="42.5" transform="rotate(26 294 508.0)" /><clipPath id="h0ae52"><path d="M268.4,528.2 L268.5,525.3 L268.8,522.2 L269.3,519.1 L270.0,515.8 L270.9,512.5 L271.9,509.2 L273.1,505.8 L274.5,502.5 L276.0,499.2 L277.7,496.0 L279.5,492.9 L281.4,489.9 L283.3,487.0 L285.4,484.3 L287.5,481.8 L289.7,479.4 L291.9,477.3 L294.1,475.4 L296.4,473.8 L298.6,472.4 L300.8,471.3 L302.9,470.5 L304.9,469.9 L306.9,469.7 L308.8,469.7 L310.6,470.1 L332.6,477.1 L334.2,477.7 L335.7,478.6 L337.0,479.8 L338.2,481.2 L339.2,482.9 L340.1,484.9 L340.7,487.1 L341.2,489.5 L341.5,492.1 L341.6,494.8 L341.5,497.7 L341.2,500.8 L340.7,503.9 L340.0,507.2 L339.1,510.5 L338.1,513.8 L336.9,517.2 L335.5,520.5 L334.0,523.8 L332.3,527.0 L330.5,530.1 L328.6,533.1 L326.7,536.0 L324.6,538.7 L322.5,541.2 L320.3,543.6 L318.1,545.7 L315.9,547.6 L313.6,549.2 L311.4,550.6 L309.2,551.7 L307.1,552.5 L305.1,553.0 L303.1,553.3 L301.2,553.3 L299.4,552.9 L277.4,545.9 L275.8,545.3 L274.3,544.4 L273.0,543.2 L271.8,541.8 L270.8,540.0 L269.9,538.1 L269.3,535.9 L268.8,533.5 L268.5,530.9Z"/></clipPath><path d="M268.4,528.2 L268.5,525.3 L268.8,522.2 L269.3,519.1 L270.0,515.8 L270.9,512.5 L271.9,509.2 L273.1,505.8 L274.5,502.5 L276.0,499.2 L277.7,496.0 L279.5,492.9 L281.4,489.9 L283.3,487.0 L285.4,484.3 L287.5,481.8 L289.7,479.4 L291.9,477.3 L294.1,475.4 L296.4,473.8 L298.6,472.4 L300.8,471.3 L302.9,470.5 L304.9,469.9 L306.9,469.7 L308.8,469.7 L310.6,470.1 L332.6,477.1 L334.2,477.7 L335.7,478.6 L337.0,479.8 L338.2,481.2 L339.2,482.9 L340.1,484.9 L340.7,487.1 L341.2,489.5 L341.5,492.1 L341.6,494.8 L341.5,497.7 L341.2,500.8 L340.7,503.9 L340.0,507.2 L339.1,510.5 L338.1,513.8 L336.9,517.2 L335.5,520.5 L334.0,523.8 L332.3,527.0 L330.5,530.1 L328.6,533.1 L326.7,536.0 L324.6,538.7 L322.5,541.2 L320.3,543.6 L318.1,545.7 L315.9,547.6 L313.6,549.2 L311.4,550.6 L309.2,551.7 L307.1,552.5 L305.1,553.0 L303.1,553.3 L301.2,553.3 L299.4,552.9 L277.4,545.9 L275.8,545.3 L274.3,544.4 L273.0,543.2 L271.8,541.8 L270.8,540.0 L269.9,538.1 L269.3,535.9 L268.8,533.5 L268.5,530.9Z" fill="#fff"/><g clip-path="url(#h0ae52)"><path class="k" d="M271.1,540.8 L270.2,538.9 L269.5,536.8 L269.0,534.5 L268.6,532.0 L268.4,529.3 L268.5,526.4 L268.7,523.4 L269.1,520.3 L269.7,517.1 L270.5,513.8 L292.5,520.8 L291.7,524.1 L291.1,527.3 L290.7,530.4 L290.5,533.4 L290.4,536.3 L290.6,539.0 L291.0,541.5 L291.5,543.8 L292.2,545.9 L293.1,547.8Z"/><path class="w" d="M269.0,521.0 L269.1,520.7 L269.1,520.5 L269.1,520.2 L269.2,520.0 L269.2,519.7 L269.3,519.4 L269.3,519.2 L269.4,518.9 L269.4,518.7 L269.5,518.4 L291.5,525.4 L291.4,525.7 L291.4,525.9 L291.3,526.2 L291.3,526.4 L291.2,526.7 L291.2,527.0 L291.1,527.2 L291.1,527.5 L291.1,527.7 L291.0,528.0Z"/></g><path class="l" d="M268.4,528.2 L268.5,525.3 L268.8,522.2 L269.3,519.1 L270.0,515.8 L270.9,512.5 L271.9,509.2 L273.1,505.8 L274.5,502.5 L276.0,499.2 L277.7,496.0 L279.5,492.9 L281.4,489.9 L283.3,487.0 L285.4,484.3 L287.5,481.8 L289.7,479.4 L291.9,477.3 L294.1,475.4 L296.4,473.8 L298.6,472.4 L300.8,471.3 L302.9,470.5 L304.9,469.9 L306.9,469.7 L308.8,469.7 L310.6,470.1 L332.6,477.1 L334.2,477.7 L335.7,478.6 L337.0,479.8 L338.2,481.2 L339.2,482.9 L340.1,484.9 L340.7,487.1 L341.2,489.5 L341.5,492.1 L341.6,494.8 L341.5,497.7 L341.2,500.8 L340.7,503.9 L340.0,507.2 L339.1,510.5 L338.1,513.8 L336.9,517.2 L335.5,520.5 L334.0,523.8 L332.3,527.0 L330.5,530.1 L328.6,533.1 L326.7,536.0 L324.6,538.7 L322.5,541.2 L320.3,543.6 L318.1,545.7 L315.9,547.6 L313.6,549.2 L311.4,550.6 L309.2,551.7 L307.1,552.5 L305.1,553.0 L303.1,553.3 L301.2,553.3 L299.4,552.9 L277.4,545.9 L275.8,545.3 L274.3,544.4 L273.0,543.2 L271.8,541.8 L270.8,540.0 L269.9,538.1 L269.3,535.9 L268.8,533.5 L268.5,530.9Z"/><clipPath id="h0ae53"><path d="M288.5,535.6 L288.7,532.5 L289.0,529.2 L289.5,525.8 L290.2,522.4 L291.2,518.8 L292.3,515.2 L293.6,511.7 L295.1,508.1 L296.7,504.6 L298.4,501.1 L300.4,497.8 L302.4,494.5 L304.5,491.5 L306.7,488.6 L309.0,485.8 L311.4,483.3 L313.7,481.1 L316.1,479.1 L318.5,477.3 L320.9,475.8 L323.2,474.6 L325.5,473.8 L327.7,473.2 L329.8,472.9 L331.9,473.0 L333.8,473.3 L335.5,474.0 L341.0,477.0 L342.6,478.0 L344.1,479.2 L345.3,480.8 L346.4,482.6 L347.4,484.7 L348.1,487.1 L348.6,489.6 L348.9,492.4 L349.0,495.4 L348.8,498.5 L348.5,501.8 L348.0,505.2 L347.3,508.6 L346.3,512.2 L345.2,515.8 L343.9,519.3 L342.4,522.9 L340.8,526.4 L339.1,529.9 L337.1,533.2 L335.1,536.5 L333.0,539.5 L330.8,542.5 L328.5,545.2 L326.1,547.7 L323.8,549.9 L321.4,552.0 L319.0,553.7 L316.6,555.2 L314.3,556.4 L312.0,557.2 L309.8,557.8 L307.7,558.1 L305.6,558.0 L303.8,557.7 L302.0,557.0 L296.5,554.0 L294.9,553.0 L293.4,551.8 L292.2,550.2 L291.1,548.4 L290.1,546.3 L289.4,543.9 L288.9,541.4 L288.6,538.6Z"/></clipPath><path d="M288.5,535.6 L288.7,532.5 L289.0,529.2 L289.5,525.8 L290.2,522.4 L291.2,518.8 L292.3,515.2 L293.6,511.7 L295.1,508.1 L296.7,504.6 L298.4,501.1 L300.4,497.8 L302.4,494.5 L304.5,491.5 L306.7,488.6 L309.0,485.8 L311.4,483.3 L313.7,481.1 L316.1,479.1 L318.5,477.3 L320.9,475.8 L323.2,474.6 L325.5,473.8 L327.7,473.2 L329.8,472.9 L331.9,473.0 L333.8,473.3 L335.5,474.0 L341.0,477.0 L342.6,478.0 L344.1,479.2 L345.3,480.8 L346.4,482.6 L347.4,484.7 L348.1,487.1 L348.6,489.6 L348.9,492.4 L349.0,495.4 L348.8,498.5 L348.5,501.8 L348.0,505.2 L347.3,508.6 L346.3,512.2 L345.2,515.8 L343.9,519.3 L342.4,522.9 L340.8,526.4 L339.1,529.9 L337.1,533.2 L335.1,536.5 L333.0,539.5 L330.8,542.5 L328.5,545.2 L326.1,547.7 L323.8,549.9 L321.4,552.0 L319.0,553.7 L316.6,555.2 L314.3,556.4 L312.0,557.2 L309.8,557.8 L307.7,558.1 L305.6,558.0 L303.8,557.7 L302.0,557.0 L296.5,554.0 L294.9,553.0 L293.4,551.8 L292.2,550.2 L291.1,548.4 L290.1,546.3 L289.4,543.9 L288.9,541.4 L288.6,538.6Z" fill="#fff"/><g clip-path="url(#h0ae53)"><path class="k" d="M290.2,546.3 L289.8,545.1 L289.4,543.9 L289.2,542.7 L288.9,541.4 L288.8,540.0 L288.6,538.6 L288.6,537.1 L288.5,535.6 L288.6,534.1 L288.7,532.5 L294.2,535.5 L294.1,537.1 L294.0,538.6 L294.1,540.1 L294.1,541.6 L294.3,543.0 L294.4,544.4 L294.7,545.7 L294.9,546.9 L295.3,548.1 L295.7,549.3Z"/></g><path class="l" d="M288.5,535.6 L288.7,532.5 L289.0,529.2 L289.5,525.8 L290.2,522.4 L291.2,518.8 L292.3,515.2 L293.6,511.7 L295.1,508.1 L296.7,504.6 L298.4,501.1 L300.4,497.8 L302.4,494.5 L304.5,491.5 L306.7,488.6 L309.0,485.8 L311.4,483.3 L313.7,481.1 L316.1,479.1 L318.5,477.3 L320.9,475.8 L323.2,474.6 L325.5,473.8 L327.7,473.2 L329.8,472.9 L331.9,473.0 L333.8,473.3 L335.5,474.0 L341.0,477.0 L342.6,478.0 L344.1,479.2 L345.3,480.8 L346.4,482.6 L347.4,484.7 L348.1,487.1 L348.6,489.6 L348.9,492.4 L349.0,495.4 L348.8,498.5 L348.5,501.8 L348.0,505.2 L347.3,508.6 L346.3,512.2 L345.2,515.8 L343.9,519.3 L342.4,522.9 L340.8,526.4 L339.1,529.9 L337.1,533.2 L335.1,536.5 L333.0,539.5 L330.8,542.5 L328.5,545.2 L326.1,547.7 L323.8,549.9 L321.4,552.0 L319.0,553.7 L316.6,555.2 L314.3,556.4 L312.0,557.2 L309.8,557.8 L307.7,558.1 L305.6,558.0 L303.8,557.7 L302.0,557.0 L296.5,554.0 L294.9,553.0 L293.4,551.8 L292.2,550.2 L291.1,548.4 L290.1,546.3 L289.4,543.9 L288.9,541.4 L288.6,538.6Z"/><ellipse class="o" cx="321.5" cy="517.0" rx="21.5" ry="44.5" transform="rotate(26 321.5 517.0)" /><ellipse class="t" cx="323" cy="517.5" rx="19.5" ry="40.5" transform="rotate(26 323 517.5)" /><clipPath id="h0ae54"><path d="M299.5,539.1 L299.5,536.5 L299.7,533.8 L300.1,530.9 L300.7,528.0 L301.4,525.0 L302.3,522.1 L303.4,519.1 L304.6,516.1 L305.9,513.2 L307.4,510.3 L309.0,507.5 L310.7,504.9 L312.5,502.3 L314.4,499.9 L316.3,497.7 L318.3,495.6 L320.3,493.7 L322.4,492.1 L324.4,490.7 L326.5,489.5 L328.5,488.5 L330.5,487.8 L332.4,487.4 L334.2,487.2 L336.0,487.3 L337.7,487.6 L339.2,488.2 L455.9,556.8 L457.3,557.7 L458.6,558.8 L459.7,560.1 L460.7,561.6 L461.6,563.4 L462.2,565.3 L462.7,567.4 L463.1,569.7 L463.2,572.0 L463.2,574.6 L463.0,577.2 L462.6,579.9 L462.1,582.6 L461.3,585.4 L460.5,588.3 L459.4,591.1 L458.2,593.9 L456.9,596.6 L455.5,599.3 L453.9,601.9 L452.2,604.4 L450.5,606.8 L448.6,609.0 L446.7,611.1 L444.8,613.0 L442.8,614.6 L440.7,616.1 L438.7,617.4 L436.7,618.5 L434.7,619.3 L432.8,619.9 L430.9,620.2 L429.0,620.4 L427.3,620.2 L425.6,619.8 L424.1,619.2 L306.8,554.8 L305.4,553.9 L304.1,552.8 L302.9,551.5 L301.9,549.9 L301.1,548.1 L300.4,546.1 L299.9,544.0 L299.6,541.6Z"/></clipPath><path d="M299.5,539.1 L299.5,536.5 L299.7,533.8 L300.1,530.9 L300.7,528.0 L301.4,525.0 L302.3,522.1 L303.4,519.1 L304.6,516.1 L305.9,513.2 L307.4,510.3 L309.0,507.5 L310.7,504.9 L312.5,502.3 L314.4,499.9 L316.3,497.7 L318.3,495.6 L320.3,493.7 L322.4,492.1 L324.4,490.7 L326.5,489.5 L328.5,488.5 L330.5,487.8 L332.4,487.4 L334.2,487.2 L336.0,487.3 L337.7,487.6 L339.2,488.2 L455.9,556.8 L457.3,557.7 L458.6,558.8 L459.7,560.1 L460.7,561.6 L461.6,563.4 L462.2,565.3 L462.7,567.4 L463.1,569.7 L463.2,572.0 L463.2,574.6 L463.0,577.2 L462.6,579.9 L462.1,582.6 L461.3,585.4 L460.5,588.3 L459.4,591.1 L458.2,593.9 L456.9,596.6 L455.5,599.3 L453.9,601.9 L452.2,604.4 L450.5,606.8 L448.6,609.0 L446.7,611.1 L444.8,613.0 L442.8,614.6 L440.7,616.1 L438.7,617.4 L436.7,618.5 L434.7,619.3 L432.8,619.9 L430.9,620.2 L429.0,620.4 L427.3,620.2 L425.6,619.8 L424.1,619.2 L306.8,554.8 L305.4,553.9 L304.1,552.8 L302.9,551.5 L301.9,549.9 L301.1,548.1 L300.4,546.1 L299.9,544.0 L299.6,541.6Z" fill="#fff"/><g clip-path="url(#h0ae54)"><path class="k" d="M304.1,552.8 L302.8,551.3 L301.7,549.5 L300.8,547.4 L300.2,545.1 L299.7,542.6 L299.5,539.8 L299.5,536.9 L299.7,533.9 L300.1,530.7 L300.8,527.4 L418.1,592.8 L417.4,595.9 L417.0,598.9 L416.8,601.8 L416.8,604.6 L417.1,607.3 L417.5,609.7 L418.2,611.9 L419.1,614.0 L420.1,615.7 L421.4,617.2Z"/><path class="k" d="M301.9,523.3 L302.0,523.1 L302.0,522.9 L302.1,522.7 L302.2,522.5 L302.2,522.4 L302.3,522.2 L302.3,522.0 L302.4,521.8 L302.4,521.6 L302.5,521.5 L419.7,587.2 L419.7,587.3 L419.6,587.5 L419.6,587.7 L419.5,587.9 L419.4,588.0 L419.4,588.2 L419.3,588.4 L419.3,588.5 L419.2,588.7 L419.2,588.9Z"/><path class="w" d="M299.7,534.3 L299.7,534.1 L299.7,533.9 L299.7,533.6 L299.7,533.4 L299.8,533.2 L299.8,533.0 L299.8,532.7 L299.9,532.5 L299.9,532.3 L299.9,532.1 L417.2,597.2 L417.2,597.4 L417.2,597.6 L417.1,597.9 L417.1,598.1 L417.1,598.3 L417.1,598.5 L417.0,598.7 L417.0,598.9 L417.0,599.1 L417.0,599.4Z"/></g><path class="l" d="M299.5,539.1 L299.5,536.5 L299.7,533.8 L300.1,530.9 L300.7,528.0 L301.4,525.0 L302.3,522.1 L303.4,519.1 L304.6,516.1 L305.9,513.2 L307.4,510.3 L309.0,507.5 L310.7,504.9 L312.5,502.3 L314.4,499.9 L316.3,497.7 L318.3,495.6 L320.3,493.7 L322.4,492.1 L324.4,490.7 L326.5,489.5 L328.5,488.5 L330.5,487.8 L332.4,487.4 L334.2,487.2 L336.0,487.3 L337.7,487.6 L339.2,488.2 L455.9,556.8 L457.3,557.7 L458.6,558.8 L459.7,560.1 L460.7,561.6 L461.6,563.4 L462.2,565.3 L462.7,567.4 L463.1,569.7 L463.2,572.0 L463.2,574.6 L463.0,577.2 L462.6,579.9 L462.1,582.6 L461.3,585.4 L460.5,588.3 L459.4,591.1 L458.2,593.9 L456.9,596.6 L455.5,599.3 L453.9,601.9 L452.2,604.4 L450.5,606.8 L448.6,609.0 L446.7,611.1 L444.8,613.0 L442.8,614.6 L440.7,616.1 L438.7,617.4 L436.7,618.5 L434.7,619.3 L432.8,619.9 L430.9,620.2 L429.0,620.4 L427.3,620.2 L425.6,619.8 L424.1,619.2 L306.8,554.8 L305.4,553.9 L304.1,552.8 L302.9,551.5 L301.9,549.9 L301.1,548.1 L300.4,546.1 L299.9,544.0 L299.6,541.6Z"/><path d="M384.9,600.1 L382.6,596.9 L381.0,592.9 L380.2,588.2 L380.2,582.8 L381.0,577.0 L382.6,570.9 L384.9,564.8 L387.8,558.9 L391.3,553.4 L395.2,548.4 L399.3,544.2 L403.7,540.8 L408.0,538.4 L412.3,537.0 L416.2,536.8 L419.7,537.6 M388.0,601.6 L385.7,598.5 L384.2,594.5 L383.4,589.7 L383.4,584.3 L384.2,578.5 L385.7,572.5 L388.0,566.4 L390.9,560.5 L394.4,555.0 L398.3,550.0 L402.5,545.7 L406.8,542.3 L411.2,539.9 L415.4,538.6 L419.3,538.3 L422.8,539.2 M391.1,603.2 L388.8,600.1 L387.3,596.0 L386.5,591.3 L386.5,585.9 L387.3,580.1 L388.8,574.0 L391.1,567.9 L394.0,562.0 L397.5,556.5 L401.4,551.5 L405.6,547.3 L409.9,543.9 L414.3,541.5 L418.5,540.1 L422.4,539.9 L425.9,540.7 M394.2,604.7 L391.9,601.6 L390.4,597.6 L389.6,592.8 L389.6,587.4 L390.4,581.6 L391.9,575.6 L394.2,569.5 L397.1,563.6 L400.6,558.1 L404.5,553.1 L408.7,548.8 L413.0,545.4 L417.4,543.0 L421.6,541.7 L425.5,541.4 L429.1,542.3 M397.3,606.3 L395.1,603.2 L393.5,599.2 L392.7,594.4 L392.7,589.0 L393.5,583.2 L395.1,577.1 L397.3,571.1 L400.3,565.2 L403.7,559.6 L407.6,554.6 L411.8,550.4 L416.1,547.0 L420.5,544.6 L424.7,543.2 L428.6,543.0 L432.2,543.9 M400.4,607.8 L398.2,604.7 L396.6,600.7 L395.8,595.9 L395.8,590.5 L396.6,584.7 L398.2,578.7 L400.4,572.6 L403.4,566.7 L406.8,561.2 L410.7,556.2 L414.9,551.9 L419.2,548.6 L423.6,546.1 L427.8,544.8 L431.8,544.5 L435.3,545.4 M403.6,609.4 L401.3,606.3 L399.7,602.3 L398.9,597.5 L398.9,592.1 L399.7,586.3 L401.3,580.2 L403.6,574.2 L406.5,568.3 L409.9,562.7 L413.8,557.8 L418.0,553.5 L422.4,550.1 L426.7,547.7 L430.9,546.3 L434.9,546.1 L438.4,547.0 M406.7,610.9 L404.4,607.8 L402.8,603.8 L402.0,599.0 L402.0,593.7 L402.8,587.8 L404.4,581.8 L406.7,575.7 L409.6,569.8 L413.0,564.3 L416.9,559.3 L421.1,555.1 L425.5,551.7 L429.8,549.3 L434.0,547.9 L438.0,547.7 L441.5,548.5 M409.8,612.5 L407.5,609.4 L405.9,605.4 L405.1,600.6 L405.1,595.2 L405.9,589.4 L407.5,583.4 L409.8,577.3 L412.7,571.4 L416.2,565.8 L420.0,560.9 L424.2,556.6 L428.6,553.2 L432.9,550.8 L437.1,549.5 L441.1,549.2 L444.6,550.1 M412.9,614.1 L410.6,610.9 L409.0,606.9 L408.2,602.2 L408.2,596.8 L409.0,591.0 L410.6,584.9 L412.9,578.8 L415.8,572.9 L419.3,567.4 L423.2,562.4 L427.3,558.2 L431.7,554.8 L436.0,552.4 L440.3,551.0 L444.2,550.8 L447.7,551.6 " stroke="#000" stroke-width="1.0" fill="none"/><path class="k" d="M393.6,533.6 L397,531.5 L441,548.5 L439.7,552.5Z"/><path class="o" d="M394,535 L439.7,552.5 L438,556 L399,541Z" style="stroke-width:.7"/><clipPath id="h0ae55"><path d="M410.6,613.4 L410.6,609.6 L410.9,605.6 L411.5,601.4 L412.3,597.2 L413.4,592.9 L414.8,588.6 L416.3,584.3 L418.1,580.0 L420.2,575.8 L422.4,571.7 L424.8,567.8 L427.3,564.0 L430.0,560.3 L432.9,556.9 L435.8,553.8 L438.8,550.9 L441.8,548.3 L444.9,546.0 L448.0,544.0 L451.1,542.4 L454.1,541.1 L457.1,540.2 L460.0,539.7 L462.8,539.5 L465.4,539.8 L467.9,540.4 L470.3,541.3 L482.7,547.6 L484.9,549.0 L486.8,550.6 L488.6,552.7 L490.1,555.0 L491.3,557.7 L492.4,560.6 L493.1,563.8 L493.6,567.2 L493.9,570.9 L493.8,574.7 L493.5,578.7 L492.9,582.9 L492.1,587.1 L491.0,591.4 L489.6,595.7 L488.1,600.0 L486.3,604.3 L484.2,608.5 L482.0,612.6 L479.6,616.5 L477.1,620.4 L474.4,624.0 L471.6,627.4 L468.6,630.5 L465.6,633.4 L462.6,636.0 L459.5,638.3 L456.4,640.3 L453.3,641.9 L450.3,643.2 L447.3,644.1 L444.4,644.6 L441.6,644.8 L439.0,644.5 L436.5,643.9 L434.1,643.0 L421.7,636.7 L419.6,635.3 L417.6,633.7 L415.9,631.6 L414.3,629.3 L413.1,626.6 L412.1,623.7 L411.3,620.5 L410.8,617.0Z"/></clipPath><path d="M410.6,613.4 L410.6,609.6 L410.9,605.6 L411.5,601.4 L412.3,597.2 L413.4,592.9 L414.8,588.6 L416.3,584.3 L418.1,580.0 L420.2,575.8 L422.4,571.7 L424.8,567.8 L427.3,564.0 L430.0,560.3 L432.9,556.9 L435.8,553.8 L438.8,550.9 L441.8,548.3 L444.9,546.0 L448.0,544.0 L451.1,542.4 L454.1,541.1 L457.1,540.2 L460.0,539.7 L462.8,539.5 L465.4,539.8 L467.9,540.4 L470.3,541.3 L482.7,547.6 L484.9,549.0 L486.8,550.6 L488.6,552.7 L490.1,555.0 L491.3,557.7 L492.4,560.6 L493.1,563.8 L493.6,567.2 L493.9,570.9 L493.8,574.7 L493.5,578.7 L492.9,582.9 L492.1,587.1 L491.0,591.4 L489.6,595.7 L488.1,600.0 L486.3,604.3 L484.2,608.5 L482.0,612.6 L479.6,616.5 L477.1,620.4 L474.4,624.0 L471.6,627.4 L468.6,630.5 L465.6,633.4 L462.6,636.0 L459.5,638.3 L456.4,640.3 L453.3,641.9 L450.3,643.2 L447.3,644.1 L444.4,644.6 L441.6,644.8 L439.0,644.5 L436.5,643.9 L434.1,643.0 L421.7,636.7 L419.6,635.3 L417.6,633.7 L415.9,631.6 L414.3,629.3 L413.1,626.6 L412.1,623.7 L411.3,620.5 L410.8,617.0Z" fill="#fff"/><g clip-path="url(#h0ae55)"><path class="k" d="M417.6,633.7 L415.5,631.2 L413.8,628.3 L412.4,624.9 L411.4,621.2 L410.8,617.1 L410.5,612.6 L410.7,608.0 L411.2,603.1 L412.1,598.1 L413.4,592.9 L425.8,599.2 L424.5,604.4 L423.6,609.4 L423.1,614.3 L422.9,618.9 L423.2,623.4 L423.8,627.5 L424.8,631.2 L426.2,634.6 L427.9,637.5 L430.0,640.0Z"/></g><path class="l" d="M410.6,613.4 L410.6,609.6 L410.9,605.6 L411.5,601.4 L412.3,597.2 L413.4,592.9 L414.8,588.6 L416.3,584.3 L418.1,580.0 L420.2,575.8 L422.4,571.7 L424.8,567.8 L427.3,564.0 L430.0,560.3 L432.9,556.9 L435.8,553.8 L438.8,550.9 L441.8,548.3 L444.9,546.0 L448.0,544.0 L451.1,542.4 L454.1,541.1 L457.1,540.2 L460.0,539.7 L462.8,539.5 L465.4,539.8 L467.9,540.4 L470.3,541.3 L482.7,547.6 L484.9,549.0 L486.8,550.6 L488.6,552.7 L490.1,555.0 L491.3,557.7 L492.4,560.6 L493.1,563.8 L493.6,567.2 L493.9,570.9 L493.8,574.7 L493.5,578.7 L492.9,582.9 L492.1,587.1 L491.0,591.4 L489.6,595.7 L488.1,600.0 L486.3,604.3 L484.2,608.5 L482.0,612.6 L479.6,616.5 L477.1,620.4 L474.4,624.0 L471.6,627.4 L468.6,630.5 L465.6,633.4 L462.6,636.0 L459.5,638.3 L456.4,640.3 L453.3,641.9 L450.3,643.2 L447.3,644.1 L444.4,644.6 L441.6,644.8 L439.0,644.5 L436.5,643.9 L434.1,643.0 L421.7,636.7 L419.6,635.3 L417.6,633.7 L415.9,631.6 L414.3,629.3 L413.1,626.6 L412.1,623.7 L411.3,620.5 L410.8,617.0Z"/><ellipse class="o" cx="458.4" cy="595.3" rx="29" ry="53.5" transform="rotate(27 458.4 595.3)" /><ellipse class="k" cx="458.5" cy="596" rx="24.5" ry="46.5" transform="rotate(27 458.5 596)" /><ellipse class="w" cx="447.5" cy="592.5" rx="15.5" ry="36" transform="rotate(27 447.5 592.5)" /><ellipse class="l" cx="446" cy="592" rx="12.5" ry="30" transform="rotate(27 446 592)" style="stroke-width:.8"/><path class="k" d="M465.2,569.7 L465.5,572.8 L465.4,576.3 L464.9,580.0 L464.0,584.1 L462.7,588.2 L461.2,592.5 L459.3,596.7 L457.1,600.9 L454.7,604.9 L452.2,608.6 L449.5,612.0 L446.8,614.9 L444.0,617.5 L441.3,619.5 L438.7,620.9 L436.2,621.8 L435.6,617.4 L437.7,616.1 L439.8,614.5 L442.0,612.6 L444.2,610.3 L446.4,607.8 L448.4,605.0 L450.4,602.0 L452.3,598.8 L454.0,595.5 L455.6,592.1 L456.9,588.7 L458.1,585.4 L459.0,582.1 L459.7,578.9 L460.1,575.9 L460.2,573.1Z"/></g>
<g id="hublock" stroke-linejoin="round"><clipPath id="ha4921"><path d="M45.1,595.5 L45.2,588.7 L45.9,581.9 L46.9,574.9 L48.3,567.9 L50.2,561.0 L52.4,554.1 L55.0,547.3 L57.9,540.7 L61.2,534.4 L64.7,528.3 L68.5,522.6 L72.6,517.2 L76.9,512.2 L81.4,507.7 L86.0,503.7 L90.7,500.1 L95.5,497.1 L100.3,494.7 L105.2,492.9 L110.0,491.6 L114.7,491.0 L119.3,491.0 L123.8,491.5 L128.1,492.7 L138.1,496.2 L142.2,498.0 L146.0,500.3 L149.6,503.3 L152.9,506.7 L155.8,510.7 L158.4,515.2 L160.7,520.1 L162.5,525.4 L164.0,531.1 L165.1,537.1 L165.7,543.5 L165.9,550.0 L165.8,556.8 L165.1,563.6 L164.1,570.6 L162.7,577.6 L160.8,584.5 L158.6,591.4 L156.0,598.2 L153.1,604.8 L149.8,611.1 L146.3,617.2 L142.4,622.9 L138.4,628.3 L134.1,633.3 L129.6,637.8 L125.0,641.8 L120.3,645.4 L115.5,648.4 L110.7,650.8 L105.8,652.6 L101.0,653.9 L96.3,654.5 L91.7,654.5 L87.2,654.0 L82.9,652.8 L72.9,649.3 L68.8,647.5 L65.0,645.2 L61.4,642.2 L58.1,638.8 L55.2,634.8 L52.6,630.3 L50.3,625.4 L48.5,620.1 L47.0,614.4 L45.9,608.4 L45.3,602.0Z"/></clipPath><path d="M45.1,595.5 L45.2,588.7 L45.9,581.9 L46.9,574.9 L48.3,567.9 L50.2,561.0 L52.4,554.1 L55.0,547.3 L57.9,540.7 L61.2,534.4 L64.7,528.3 L68.5,522.6 L72.6,517.2 L76.9,512.2 L81.4,507.7 L86.0,503.7 L90.7,500.1 L95.5,497.1 L100.3,494.7 L105.2,492.9 L110.0,491.6 L114.7,491.0 L119.3,491.0 L123.8,491.5 L128.1,492.7 L138.1,496.2 L142.2,498.0 L146.0,500.3 L149.6,503.3 L152.9,506.7 L155.8,510.7 L158.4,515.2 L160.7,520.1 L162.5,525.4 L164.0,531.1 L165.1,537.1 L165.7,543.5 L165.9,550.0 L165.8,556.8 L165.1,563.6 L164.1,570.6 L162.7,577.6 L160.8,584.5 L158.6,591.4 L156.0,598.2 L153.1,604.8 L149.8,611.1 L146.3,617.2 L142.4,622.9 L138.4,628.3 L134.1,633.3 L129.6,637.8 L125.0,641.8 L120.3,645.4 L115.5,648.4 L110.7,650.8 L105.8,652.6 L101.0,653.9 L96.3,654.5 L91.7,654.5 L87.2,654.0 L82.9,652.8 L72.9,649.3 L68.8,647.5 L65.0,645.2 L61.4,642.2 L58.1,638.8 L55.2,634.8 L52.6,630.3 L50.3,625.4 L48.5,620.1 L47.0,614.4 L45.9,608.4 L45.3,602.0Z" fill="#111"/><g clip-path="url(#ha4921)"></g><path class="l" d="M45.1,595.5 L45.2,588.7 L45.9,581.9 L46.9,574.9 L48.3,567.9 L50.2,561.0 L52.4,554.1 L55.0,547.3 L57.9,540.7 L61.2,534.4 L64.7,528.3 L68.5,522.6 L72.6,517.2 L76.9,512.2 L81.4,507.7 L86.0,503.7 L90.7,500.1 L95.5,497.1 L100.3,494.7 L105.2,492.9 L110.0,491.6 L114.7,491.0 L119.3,491.0 L123.8,491.5 L128.1,492.7 L138.1,496.2 L142.2,498.0 L146.0,500.3 L149.6,503.3 L152.9,506.7 L155.8,510.7 L158.4,515.2 L160.7,520.1 L162.5,525.4 L164.0,531.1 L165.1,537.1 L165.7,543.5 L165.9,550.0 L165.8,556.8 L165.1,563.6 L164.1,570.6 L162.7,577.6 L160.8,584.5 L158.6,591.4 L156.0,598.2 L153.1,604.8 L149.8,611.1 L146.3,617.2 L142.4,622.9 L138.4,628.3 L134.1,633.3 L129.6,637.8 L125.0,641.8 L120.3,645.4 L115.5,648.4 L110.7,650.8 L105.8,652.6 L101.0,653.9 L96.3,654.5 L91.7,654.5 L87.2,654.0 L82.9,652.8 L72.9,649.3 L68.8,647.5 L65.0,645.2 L61.4,642.2 L58.1,638.8 L55.2,634.8 L52.6,630.3 L50.3,625.4 L48.5,620.1 L47.0,614.4 L45.9,608.4 L45.3,602.0Z"/><path d="M53.6,632.2 L63.6,635.7 M49.7,623.9 L59.7,627.4 M47.0,614.4 L57.0,617.9 M45.4,603.9 L55.4,607.4 M45.1,592.8 L55.1,596.3 M46.0,581.2 L56.0,584.7 M48.0,569.3 L58.0,572.8 M51.2,557.5 L61.2,561.0 M55.5,546.0 L65.5,549.5 M60.8,535.0 L70.8,538.5 M67.0,524.8 L77.0,528.3 M73.9,515.7 L83.9,519.2 M81.4,507.7 L91.4,511.2 M89.3,501.1 L99.3,504.6 " stroke="#fff" stroke-width="1.7" fill="none"/><ellipse class="k" cx="110.5" cy="574.5" rx="51" ry="83" transform="rotate(19.4 110.5 574.5)" style="fill:#2b2b2b;stroke:#000;stroke-width:1"/><ellipse class="l" cx="110.5" cy="574.5" rx="47" ry="78" transform="rotate(19.4 110.5 574.5)" style="stroke:#666;stroke-width:.6"/><ellipse class="k" cx="113.5" cy="515" rx="6.5" ry="9.5" transform="rotate(19 113.5 515)" style="stroke:#ddd;stroke-width:1"/><ellipse class="k" cx="148.4" cy="516.2" rx="6.5" ry="9.5" transform="rotate(19 148.4 516.2)" style="stroke:#ddd;stroke-width:1"/><ellipse class="k" cx="69.9" cy="568.5" rx="6.5" ry="9.5" transform="rotate(19 69.9 568.5)" style="stroke:#ddd;stroke-width:1"/><ellipse class="k" cx="68.7" cy="630.9" rx="6.5" ry="9.5" transform="rotate(19 68.7 630.9)" style="stroke:#ddd;stroke-width:1"/><ellipse class="k" cx="97.3" cy="639.6" rx="6.5" ry="9.5" transform="rotate(19 97.3 639.6)" style="stroke:#ddd;stroke-width:1"/><ellipse class="k" cx="158.4" cy="536" rx="3.5" ry="5" transform="rotate(19 158.4 536)" style="stroke:#ccc;stroke-width:.8"/><clipPath id="hlb"><path d="M82.4,562.3 L92.0,545.0 L109.8,531.0 L122.0,526.0 L134.7,525.0 L182.0,549.8 L172.0,560.0 L158.0,570.0 L148.0,585.0 L140.0,600.0 L134.0,625.0 L131.0,645.0 L109.8,632.0 L90.0,622.0 L74.9,614.7 L72.0,600.0 L72.4,584.7 L76.0,572.0Z"/></clipPath><path class="o" d="M82.4,562.3 L92.0,545.0 L109.8,531.0 L122.0,526.0 L134.7,525.0 L182.0,549.8 L172.0,560.0 L158.0,570.0 L148.0,585.0 L140.0,600.0 L134.0,625.0 L131.0,645.0 L109.8,632.0 L90.0,622.0 L74.9,614.7 L72.0,600.0 L72.4,584.7 L76.0,572.0Z"/><g clip-path="url(#hlb)"><path d="M70,528.0 L190,586.0 M70,533.5 L190,591.5 M70,539.0 L190,597.0 M70,544.5 L190,602.5 M70,550.0 L190,608.0 M70,555.5 L190,613.5 M70,561.0 L190,619.0 M70,566.5 L190,624.5 M70,572.0 L190,630.0 M70,577.5 L190,635.5 M70,583.0 L190,641.0 M70,588.5 L190,646.5 M70,594.0 L190,652.0 M70,599.5 L190,657.5 M70,605.0 L190,663.0 M70,610.5 L190,668.5 M70,616.0 L190,674.0 M70,621.5 L190,679.5 M70,627.0 L190,685.0 M70,632.5 L190,690.5 M70,638.0 L190,696.0 M70,643.5 L190,701.5 " stroke="#999" stroke-width=".5" fill="none"/><path d="M80,563 L100,570 L136,590" stroke="#111" stroke-width="3" fill="none"/><path d="M74,612 L110,630 L134,642" stroke="#111" stroke-width="2.5" fill="none"/><path d="M128,527 L150,556 L178,553" stroke="#222" stroke-width="1" fill="none"/></g><path d="M197.6,613.9 L196.7,615.9 L195.5,617.7 L194.2,619.3 L192.7,620.8 L191.2,622.2 L189.8,623.5 L188.5,624.9 L187.5,626.4 L186.6,628.1 L185.9,630.0 L185.3,632.1 L184.6,634.4 L183.9,636.7 L183.0,638.8 L182.0,640.8 L180.7,642.3 L179.3,643.5 L177.8,644.3 L176.2,644.7 L174.6,644.9 L173.0,644.9 L171.6,645.0 L170.2,645.3 L168.9,645.8 L167.6,646.8 L166.3,648.0 L165.0,649.5 L163.6,651.2 L162.1,652.8 L160.6,654.1 L159.1,655.1 L157.7,655.6 L156.2,655.5 L154.9,655.0 L153.7,654.0 L152.7,652.7 L151.7,651.4 L150.7,650.2 L149.7,649.3 L148.6,648.7 L147.4,648.5 L146.0,648.6 L144.5,649.0 L142.9,649.4 L141.3,649.7 L139.7,649.7 L138.4,649.4 L137.2,648.5 L136.3,647.3 L135.7,645.6 L135.4,643.6 L135.3,641.4 L135.2,639.3 L135.1,637.3 L134.8,635.5 L134.4,634.0 L133.7,632.7 L132.8,631.6 L131.7,630.7 L130.5,629.7 L129.3,628.6 L128.3,627.3 L127.6,625.7 L127.2,623.9 L127.2,621.9 L127.5,619.7 L128.2,617.5 L129.0,615.2 L129.9,613.1 L130.7,611.0 L131.3,609.1 L131.7,607.2 L131.8,605.3 L131.7,603.5 L131.4,601.6 L131.0,599.6 L130.8,597.5 L130.7,595.4 L130.9,593.2 L131.4,591.1 L132.3,589.1 L133.5,587.3 L134.8,585.7 L136.3,584.2 L137.8,582.8 L139.2,581.5 L140.5,580.1 L141.5,578.6 L142.4,576.9 L143.1,575.0 L143.7,572.9 L144.4,570.6 L145.1,568.3 L146.0,566.2 L147.0,564.2 L148.3,562.7 L149.7,561.5 L151.2,560.7 L152.8,560.3 L154.4,560.1 L156.0,560.1 L157.4,560.0 L158.8,559.7 L160.1,559.2 L161.4,558.2 L162.7,557.0 L164.0,555.5 L165.4,553.8 L166.9,552.2 L168.4,550.9 L169.9,549.9 L171.3,549.4 L172.8,549.5 L174.1,550.0 L175.3,551.0 L176.3,552.3 L177.3,553.6 L178.3,554.8 L179.3,555.7 L180.4,556.3 L181.6,556.5 L183.0,556.4 L184.5,556.0 L186.1,555.6 L187.7,555.3 L189.3,555.3 L190.6,555.6 L191.8,556.5 L192.7,557.7 L193.3,559.4 L193.6,561.4 L193.7,563.6 L193.8,565.7 L193.9,567.7 L194.2,569.5 L194.6,571.0 L195.3,572.3 L196.2,573.4 L197.3,574.3 L198.5,575.3 L199.7,576.4 L200.7,577.7 L201.4,579.3 L201.8,581.1 L201.8,583.1 L201.5,585.3 L200.8,587.5 L200.0,589.8 L199.1,591.9 L198.3,594.0 L197.7,595.9 L197.3,597.8 L197.2,599.7 L197.3,601.5 L197.6,603.4 L198.0,605.4 L198.2,607.5 L198.3,609.6 L198.1,611.8Z" fill="#141414" stroke="#000" stroke-width="1"/><ellipse class="l" cx="166" cy="604" rx="22.5" ry="37.5" transform="rotate(19 166 604)" style="stroke:#eee;stroke-width:1"/><ellipse class="l" cx="166" cy="604" rx="20" ry="34.5" transform="rotate(19 166 604)" style="stroke:#999;stroke-width:.6"/><clipPath id="hld"><path d="M157.37,629.06 A17,26.5 19 1 0 174.63,578.94 A17,26.5 19 1 0 157.37,629.06Z"/></clipPath><ellipse class="k" cx="166" cy="604" rx="17" ry="26.5" transform="rotate(19 166 604)" style="stroke:#ddd;stroke-width:.8"/><g clip-path="url(#hld)"><path d="M140,570 L153,575 L170,622 L165,640 L140,640Z" fill="#ddd"/><path d="M140,585.0 L172,575.0 M140,588.2 L172,578.2 M140,591.4 L172,581.4 M140,594.6 L172,584.6 M140,597.8 L172,587.8 M140,601.0 L172,591.0 M140,604.2 L172,594.2 M140,607.4 L172,597.4 M140,610.6 L172,600.6 M140,613.8 L172,603.8 M140,617.0 L172,607.0 M140,620.2 L172,610.2 M140,623.4 L172,613.4 M140,626.6 L172,616.6 " stroke="#333" stroke-width=".8"/><path d="M152,575 L170,621" stroke="#fff" stroke-width="2.2"/><path d="M153,575 L171,621" stroke="#000" stroke-width=".7"/></g><text transform="translate(143.5,586.5) rotate(-54)" font-family="Liberation Sans, sans-serif" font-weight="bold" font-size="7" fill="#fff">4x2</text><text transform="translate(189,586) rotate(80)" font-family="Liberation Sans, sans-serif" font-weight="bold" font-size="6.5" fill="#fff">4x4</text></g>
<g id="ring1"><path fill="#fff" fill-rule="evenodd" d="M493.64,184.73 A50.5,82 27.5 1 0 569.36,39.27 A50.5,82 27.5 1 0 493.64,184.73Z M504.60,165.32 A36.5,60 27.5 1 0 560.00,58.88 A36.5,60 27.5 1 0 504.60,165.32Z"/><clipPath id="c5d0b1"><path clip-rule="evenodd" d="M-100,-100 H1200 V900 H-100Z M496.64,186.23 A50.5,82 27.5 1 0 572.36,40.77 A50.5,82 27.5 1 0 496.64,186.23Z"/></clipPath><path d="M493.64,184.73 A50.5,82 27.5 1 0 569.36,39.27 A50.5,82 27.5 1 0 493.64,184.73Z" fill="#000" clip-path="url(#c5d0b1)"/><clipPath id="c5d0b2"><path clip-rule="evenodd" d="M-100,-100 H1200 V900 H-100Z M501.60,163.82 A36.5,60 27.5 1 0 557.00,57.38 A36.5,60 27.5 1 0 501.60,163.82Z"/></clipPath><path d="M504.60,165.32 A36.5,60 27.5 1 0 560.00,58.88 A36.5,60 27.5 1 0 504.60,165.32Z" fill="#000" clip-path="url(#c5d0b2)"/><ellipse class="l" cx="531.5" cy="112" rx="50.5" ry="82" transform="rotate(27.5 531.5 112)" /><ellipse class="l" cx="532.3" cy="112.1" rx="36.5" ry="60" transform="rotate(27.5 532.3 112.1)" /><ellipse class="o" cx="534" cy="51.4" rx="5.2" ry="8" transform="rotate(27.5 534 51.4)" style="stroke-width:1.3"/><ellipse class="o" cx="582.7" cy="75.7" rx="5.2" ry="8" transform="rotate(27.5 582.7 75.7)" style="stroke-width:1.3"/><ellipse class="o" cx="575" cy="122.9" rx="5.2" ry="8" transform="rotate(27.5 575 122.9)" style="stroke-width:1.3"/><ellipse class="o" cx="533.6" cy="172.9" rx="5.2" ry="8" transform="rotate(27.5 533.6 172.9)" style="stroke-width:1.3"/><ellipse class="o" cx="490" cy="168.6" rx="5.2" ry="8" transform="rotate(27.5 490 168.6)" style="stroke-width:1.3"/><ellipse class="o" cx="490.7" cy="100" rx="5.2" ry="8" transform="rotate(27.5 490.7 100)" style="stroke-width:1.3"/><path d="M568.6,137.2h2.8v2.8h-2.8Z M557.1,143.9h2.8v2.8h-2.8Z M544.8,158.3h2.0v2.0h-2.0Z M522.4,171.4h2.0v2.0h-2.0Z M515.5,180.7h2.8v2.8h-2.8Z M502.9,180.9h2.0v2.0h-2.0Z M498.6,169.3h2.4v2.4h-2.4Z M485.0,150.5h2.4v2.4h-2.4Z M477.0,149.8h2.8v2.8h-2.8Z M483.0,139.6h2.4v2.4h-2.4Z M476.3,137.0h2.0v2.0h-2.0Z M483.5,123.9h2.8v2.8h-2.8Z M478.1,118.4h2.8v2.8h-2.8Z M493.4,82.1h2.0v2.0h-2.0Z M505.3,75.4h2.0v2.0h-2.0Z M506.1,64.1h2.8v2.8h-2.8Z M515.2,64.2h2.4v2.4h-2.4Z M518.2,52.9h2.8v2.8h-2.8Z M547.5,40.6h2.0v2.0h-2.0Z M550.6,48.9h2.4v2.4h-2.4Z M558.5,41.2h2.0v2.0h-2.0Z M560.7,51.6h2.4v2.4h-2.4Z M569.1,45.9h2.4v2.4h-2.4Z M579.0,57.7h2.0v2.0h-2.0Z M577.9,85.0h2.0v2.0h-2.0Z M584.3,88.1h2.4v2.4h-2.4Z M577.1,94.2h2.8v2.8h-2.8Z M573.6,111.5h2.8v2.8h-2.8Z " fill="#222"/></g>
<g id="p60" stroke-linejoin="round"><clipPath id="rimc"><path d="M597.0,141.0 L589.0,143.0 L581.0,156.0 L576.0,172.6 L573.0,190.0 L573.0,202.0 L574.5,214.0 L577.6,225.0 L582.0,234.0 L589.0,240.0 L600.0,243.0 L612.0,237.0 L604.0,200.0 L606.0,150.0Z"/></clipPath><g clip-path="url(#rimc)"><path class="k" d="M597.0,141.0 L589.0,143.0 L581.0,156.0 L576.0,172.6 L573.0,190.0 L573.0,202.0 L574.5,214.0 L577.6,225.0 L582.0,234.0 L589.0,240.0 L600.0,243.0 L612.0,237.0 L604.0,200.0 L606.0,150.0Z"/><path class="w" d="M560,138 L620,138 L620,157 L560,160Z M560,169 L620,167 L620,179 L560,182Z M560,231 L584,226 L600,247 L560,250Z"/><path class="k" d="M592,140 L600,141.5 L600,144 L592,143Z"/></g><path class="l" d="M597.0,141.0 L589.0,143.0 L581.0,156.0 L576.0,172.6 L573.0,190.0 L573.0,202.0 L574.5,214.0 L577.6,225.0 L582.0,234.0 L589.0,240.0 L600.0,243.0"/><ellipse class="o" cx="642.8" cy="166.6" rx="52.4" ry="82.1" transform="rotate(16 642.8 166.6)" /><ellipse class="k" cx="643" cy="111" rx="5.8" ry="8.8" transform="rotate(22 643 111)" stroke="#000" stroke-width="1"/><ellipse class="k" cx="678" cy="112" rx="5.8" ry="8.8" transform="rotate(22 678 112)" stroke="#000" stroke-width="1"/><ellipse class="k" cx="598.7" cy="162.4" rx="5.8" ry="8.8" transform="rotate(22 598.7 162.4)" stroke="#000" stroke-width="1"/><ellipse class="k" cx="599" cy="225.4" rx="5.8" ry="8.8" transform="rotate(22 599 225.4)" stroke="#000" stroke-width="1"/><ellipse class="k" cx="626.8" cy="237" rx="5.8" ry="8.8" transform="rotate(22 626.8 237)" stroke="#000" stroke-width="1"/><ellipse class="o" cx="689" cy="131" rx="5.8" ry="8.8" transform="rotate(22 689 131)" stroke="#000" stroke-width="1"/><ellipse class="l" cx="679" cy="112.5" rx="3.2" ry="5.6" transform="rotate(22 679 112.5)" style="stroke:#bbb;stroke-width:.8"/><ellipse class="l" cx="644" cy="111.5" rx="3.2" ry="5.6" transform="rotate(22 644 111.5)" style="stroke:#777;stroke-width:.6"/><clipPath id="h73e51"><path d="M600.1,187.4 L600.3,182.7 L600.9,177.9 L601.8,173.0 L602.9,168.0 L604.4,163.1 L606.1,158.2 L608.1,153.4 L610.4,148.6 L612.9,144.1 L615.5,139.7 L618.4,135.5 L621.5,131.6 L624.7,127.9 L628.1,124.6 L631.5,121.5 L635.0,118.9 L638.5,116.6 L642.1,114.7 L645.7,113.2 L649.2,112.1 L652.7,111.5 L656.1,111.3 L659.3,111.5 L662.4,112.1 L665.4,113.2 L668.2,114.7 L717.9,145.0 L720.3,146.8 L722.5,149.0 L724.5,151.5 L726.2,154.4 L727.6,157.6 L728.8,161.2 L729.7,164.9 L730.3,169.0 L730.6,173.2 L730.6,177.7 L730.3,182.3 L729.7,186.9 L728.8,191.7 L727.7,196.5 L726.2,201.3 L724.5,206.1 L722.6,210.8 L720.4,215.4 L718.0,219.9 L715.3,224.2 L712.5,228.3 L709.6,232.1 L706.5,235.7 L703.3,239.0 L700.0,241.9 L696.6,244.6 L693.2,246.8 L689.8,248.7 L686.4,250.2 L683.1,251.3 L679.8,251.9 L676.6,252.2 L673.5,252.0 L670.5,251.4 L667.7,250.4 L665.1,249.0 L613.8,221.3 L611.3,219.4 L608.9,217.2 L606.8,214.5 L605.0,211.5 L603.4,208.2 L602.1,204.5 L601.2,200.6 L600.5,196.4 L600.1,192.0Z"/></clipPath><path d="M600.1,187.4 L600.3,182.7 L600.9,177.9 L601.8,173.0 L602.9,168.0 L604.4,163.1 L606.1,158.2 L608.1,153.4 L610.4,148.6 L612.9,144.1 L615.5,139.7 L618.4,135.5 L621.5,131.6 L624.7,127.9 L628.1,124.6 L631.5,121.5 L635.0,118.9 L638.5,116.6 L642.1,114.7 L645.7,113.2 L649.2,112.1 L652.7,111.5 L656.1,111.3 L659.3,111.5 L662.4,112.1 L665.4,113.2 L668.2,114.7 L717.9,145.0 L720.3,146.8 L722.5,149.0 L724.5,151.5 L726.2,154.4 L727.6,157.6 L728.8,161.2 L729.7,164.9 L730.3,169.0 L730.6,173.2 L730.6,177.7 L730.3,182.3 L729.7,186.9 L728.8,191.7 L727.7,196.5 L726.2,201.3 L724.5,206.1 L722.6,210.8 L720.4,215.4 L718.0,219.9 L715.3,224.2 L712.5,228.3 L709.6,232.1 L706.5,235.7 L703.3,239.0 L700.0,241.9 L696.6,244.6 L693.2,246.8 L689.8,248.7 L686.4,250.2 L683.1,251.3 L679.8,251.9 L676.6,252.2 L673.5,252.0 L670.5,251.4 L667.7,250.4 L665.1,249.0 L613.8,221.3 L611.3,219.4 L608.9,217.2 L606.8,214.5 L605.0,211.5 L603.4,208.2 L602.1,204.5 L601.2,200.6 L600.5,196.4 L600.1,192.0Z" fill="#fff"/><g clip-path="url(#h73e51)"><path class="k" d="M606.1,213.3 L604.4,210.4 L603.0,207.2 L601.9,203.7 L601.0,199.9 L600.4,196.0 L600.1,191.8 L600.1,187.5 L600.3,183.1 L600.8,178.6 L601.6,174.0 L654.0,203.2 L653.2,207.7 L652.7,212.1 L652.4,216.4 L652.4,220.6 L652.7,224.6 L653.2,228.4 L654.0,232.0 L655.0,235.4 L656.3,238.5 L657.8,241.4Z"/><path class="k" d="M605.7,159.2 L605.8,159.0 L605.9,158.8 L606.0,158.6 L606.0,158.4 L606.1,158.2 L606.2,158.0 L606.3,157.8 L606.3,157.6 L606.4,157.4 L606.5,157.2 L658.9,186.9 L658.8,187.1 L658.7,187.3 L658.6,187.5 L658.6,187.7 L658.5,187.9 L658.4,188.1 L658.3,188.3 L658.3,188.5 L658.2,188.6 L658.1,188.8Z"/><path class="w" d="M600.2,183.7 L600.3,183.3 L600.3,182.9 L600.3,182.5 L600.4,182.2 L600.4,181.8 L600.4,181.4 L600.5,181.0 L600.5,180.6 L600.6,180.2 L600.6,179.8 L653.0,208.9 L653.0,209.3 L652.9,209.7 L652.9,210.1 L652.8,210.4 L652.8,210.8 L652.8,211.2 L652.7,211.6 L652.7,211.9 L652.7,212.3 L652.6,212.7Z"/></g><path class="l" d="M600.1,187.4 L600.3,182.7 L600.9,177.9 L601.8,173.0 L602.9,168.0 L604.4,163.1 L606.1,158.2 L608.1,153.4 L610.4,148.6 L612.9,144.1 L615.5,139.7 L618.4,135.5 L621.5,131.6 L624.7,127.9 L628.1,124.6 L631.5,121.5 L635.0,118.9 L638.5,116.6 L642.1,114.7 L645.7,113.2 L649.2,112.1 L652.7,111.5 L656.1,111.3 L659.3,111.5 L662.4,112.1 L665.4,113.2 L668.2,114.7 L717.9,145.0 L720.3,146.8 L722.5,149.0 L724.5,151.5 L726.2,154.4 L727.6,157.6 L728.8,161.2 L729.7,164.9 L730.3,169.0 L730.6,173.2 L730.6,177.7 L730.3,182.3 L729.7,186.9 L728.8,191.7 L727.7,196.5 L726.2,201.3 L724.5,206.1 L722.6,210.8 L720.4,215.4 L718.0,219.9 L715.3,224.2 L712.5,228.3 L709.6,232.1 L706.5,235.7 L703.3,239.0 L700.0,241.9 L696.6,244.6 L693.2,246.8 L689.8,248.7 L686.4,250.2 L683.1,251.3 L679.8,251.9 L676.6,252.2 L673.5,252.0 L670.5,251.4 L667.7,250.4 L665.1,249.0 L613.8,221.3 L611.3,219.4 L608.9,217.2 L606.8,214.5 L605.0,211.5 L603.4,208.2 L602.1,204.5 L601.2,200.6 L600.5,196.4 L600.1,192.0Z"/><ellipse class="o" cx="691.5" cy="197" rx="34" ry="58.5" transform="rotate(24 691.5 197)" /><ellipse class="k" cx="691.5" cy="197.5" rx="28" ry="49" transform="rotate(24 691.5 197.5)" /><path d="M664.1,222.9 L663.7,220.3 L663.5,217.5 L663.4,214.5 L663.6,211.4 L664.0,208.2 L664.6,205.0 L665.4,201.6 L666.4,198.3 L667.6,194.9 L669.0,191.6 L670.5,188.3 L672.1,185.2 L673.9,182.1 L675.8,179.2 L677.9,176.5 L680.0,174.0 L682.1,171.7 L684.3,169.7 L686.5,167.9 L688.8,166.4 L691.0,165.2 L693.1,164.3 L695.3,163.7 L697.3,163.4" stroke="#fff" stroke-width="7" stroke-dasharray="2.4 2.8" fill="none"/><path d="M686,196 L716,208" stroke="#fff" stroke-width=".9" fill="none" stroke-dasharray="6 2"/><path d="M712.3,219.5 L708.7,224.6 L704.8,229.2 L700.7,233.2 L696.5,236.5 L692.3,238.9 L688.1,240.6 L684.0,241.3 L680.2,241.1 L676.7,240.1 L673.6,238.2 L670.9,235.5 L668.8,232.0" stroke="#fff" stroke-width="0.8" fill="none"/><path d="M711.3,218.4 L707.9,223.3 L704.3,227.6 L700.5,231.4 L696.6,234.5 L692.6,236.9 L688.7,238.4 L685.0,239.2 L681.4,239.1 L678.2,238.1 L675.4,236.4 L672.9,233.8 L671.0,230.5" stroke="#fff" stroke-width="0.7" fill="none"/><path d="M710.3,217.3 L707.2,221.9 L703.8,226.1 L700.2,229.6 L696.6,232.6 L692.9,234.8 L689.4,236.3 L685.9,237.1 L682.7,237.0 L679.7,236.1 L677.1,234.5 L674.9,232.2 L673.1,229.1" stroke="#fff" stroke-width="0.6" fill="none"/><path d="M709.3,216.2 L706.4,220.6 L703.3,224.5 L700.0,227.8 L696.6,230.6 L693.3,232.8 L690.0,234.2 L686.9,234.9 L683.9,234.9 L681.2,234.2 L678.9,232.7 L676.9,230.5 L675.3,227.7" stroke="#fff" stroke-width="0.6" fill="none"/></g>
<g id="p61" stroke-linejoin="round"><clipPath id="rim61"><path d="M506.0,377.0 L500.9,386.9 L493.0,402.0 L487.0,418.0 L484.0,432.0 L482.6,445.5 L483.5,460.0 L487.0,473.0 L493.0,485.0 L500.9,493.8 L510.0,502.0 L519.8,507.6 L532.0,510.0 L540.0,500.0 L520.0,470.0 L512.0,430.0 L520.0,385.0Z"/></clipPath><g clip-path="url(#rim61)"><path class="w" d="M506.0,377.0 L500.9,386.9 L493.0,402.0 L487.0,418.0 L484.0,432.0 L482.6,445.5 L483.5,460.0 L487.0,473.0 L493.0,485.0 L500.9,493.8 L510.0,502.0 L519.8,507.6 L532.0,510.0 L540.0,500.0 L520.0,470.0 L512.0,430.0 L520.0,385.0Z"/><path class="k" d="M470,406 L520,400 L520,408 L470,414Z M470,428 L520,424 L520,444 L470,447Z"/><path class="k" d="M483.0,453.0 L483.5,460.0 L487.0,473.0 L493.0,485.0 L500.9,493.8 L506.0,498.0 L503.0,488.0 L497.0,476.0 L492.0,462.0 L490.0,452.0Z"/></g><path class="l" d="M506.0,377.0 L500.9,386.9 L493.0,402.0 L487.0,418.0 L484.0,432.0 L482.6,445.5 L483.5,460.0 L487.0,473.0 L493.0,485.0 L500.9,493.8 L510.0,502.0 L519.8,507.6 L532.0,510.0"/><ellipse class="o" cx="571.1" cy="400.2" rx="70.2" ry="113.9" transform="rotate(22.6 571.1 400.2)" /><ellipse class="l" cx="572.4" cy="407.6" rx="48.7" ry="79.6" transform="rotate(22.4 572.4 407.6)" /><ellipse class="t" cx="574" cy="408.6" rx="46" ry="76.2" transform="rotate(22.4 574 408.6)" /><ellipse class="k" cx="569.8" cy="323" rx="5" ry="7.6" transform="rotate(22 569.8 323)" /><ellipse class="k" cx="632" cy="340.3" rx="5" ry="7.6" transform="rotate(22 632 340.3)" /><ellipse class="k" cx="512.2" cy="393" rx="5" ry="7.6" transform="rotate(22 512.2 393)" /><ellipse class="k" cx="511.2" cy="471.4" rx="5" ry="7.6" transform="rotate(22 511.2 471.4)" /><ellipse class="k" cx="571.5" cy="481.7" rx="5" ry="7.6" transform="rotate(22 571.5 481.7)" /><ellipse class="l" cx="633" cy="341" rx="2.6" ry="4.6" transform="rotate(22 633 341)" style="stroke:#888;stroke-width:.7"/><clipPath id="h3aa71"><path d="M537.0,425.9 L537.1,422.6 L537.4,419.2 L537.9,415.7 L538.6,412.0 L539.6,408.3 L540.8,404.6 L542.1,400.8 L543.6,397.1 L545.3,393.4 L547.2,389.8 L549.2,386.3 L551.3,382.9 L553.5,379.7 L555.9,376.7 L558.3,373.9 L560.8,371.3 L563.3,368.9 L565.8,366.8 L568.3,365.0 L570.8,363.5 L573.3,362.3 L575.7,361.4 L578.1,360.8 L580.3,360.5 L582.5,360.6 L584.5,361.0 L586.4,361.7 L593.4,365.2 L595.1,366.2 L596.7,367.6 L598.0,369.2 L599.2,371.2 L600.2,373.4 L601.0,375.9 L601.5,378.6 L601.9,381.5 L602.0,384.6 L601.9,387.9 L601.6,391.3 L601.1,394.8 L600.4,398.5 L599.4,402.2 L598.2,405.9 L596.9,409.7 L595.4,413.4 L593.7,417.1 L591.8,420.7 L589.8,424.2 L587.7,427.6 L585.5,430.8 L583.1,433.8 L580.7,436.6 L578.2,439.2 L575.7,441.6 L573.2,443.7 L570.7,445.5 L568.2,447.0 L565.7,448.2 L563.3,449.1 L560.9,449.7 L558.7,450.0 L556.5,449.9 L554.5,449.5 L552.6,448.8 L545.6,445.3 L543.9,444.3 L542.3,442.9 L541.0,441.3 L539.8,439.3 L538.8,437.1 L538.0,434.6 L537.5,431.9 L537.1,429.0Z"/></clipPath><path d="M537.0,425.9 L537.1,422.6 L537.4,419.2 L537.9,415.7 L538.6,412.0 L539.6,408.3 L540.8,404.6 L542.1,400.8 L543.6,397.1 L545.3,393.4 L547.2,389.8 L549.2,386.3 L551.3,382.9 L553.5,379.7 L555.9,376.7 L558.3,373.9 L560.8,371.3 L563.3,368.9 L565.8,366.8 L568.3,365.0 L570.8,363.5 L573.3,362.3 L575.7,361.4 L578.1,360.8 L580.3,360.5 L582.5,360.6 L584.5,361.0 L586.4,361.7 L593.4,365.2 L595.1,366.2 L596.7,367.6 L598.0,369.2 L599.2,371.2 L600.2,373.4 L601.0,375.9 L601.5,378.6 L601.9,381.5 L602.0,384.6 L601.9,387.9 L601.6,391.3 L601.1,394.8 L600.4,398.5 L599.4,402.2 L598.2,405.9 L596.9,409.7 L595.4,413.4 L593.7,417.1 L591.8,420.7 L589.8,424.2 L587.7,427.6 L585.5,430.8 L583.1,433.8 L580.7,436.6 L578.2,439.2 L575.7,441.6 L573.2,443.7 L570.7,445.5 L568.2,447.0 L565.7,448.2 L563.3,449.1 L560.9,449.7 L558.7,450.0 L556.5,449.9 L554.5,449.5 L552.6,448.8 L545.6,445.3 L543.9,444.3 L542.3,442.9 L541.0,441.3 L539.8,439.3 L538.8,437.1 L538.0,434.6 L537.5,431.9 L537.1,429.0Z" fill="#fff"/><g clip-path="url(#h3aa71)"><path class="k" d="M539.4,438.5 L538.7,436.7 L538.1,434.9 L537.6,432.8 L537.3,430.7 L537.1,428.4 L537.0,426.1 L537.0,423.6 L537.2,421.0 L537.5,418.4 L537.9,415.7 L544.9,419.2 L544.5,421.9 L544.2,424.5 L544.0,427.1 L544.0,429.6 L544.1,431.9 L544.3,434.2 L544.6,436.3 L545.1,438.4 L545.7,440.2 L546.4,442.0Z"/></g><path class="l" d="M537.0,425.9 L537.1,422.6 L537.4,419.2 L537.9,415.7 L538.6,412.0 L539.6,408.3 L540.8,404.6 L542.1,400.8 L543.6,397.1 L545.3,393.4 L547.2,389.8 L549.2,386.3 L551.3,382.9 L553.5,379.7 L555.9,376.7 L558.3,373.9 L560.8,371.3 L563.3,368.9 L565.8,366.8 L568.3,365.0 L570.8,363.5 L573.3,362.3 L575.7,361.4 L578.1,360.8 L580.3,360.5 L582.5,360.6 L584.5,361.0 L586.4,361.7 L593.4,365.2 L595.1,366.2 L596.7,367.6 L598.0,369.2 L599.2,371.2 L600.2,373.4 L601.0,375.9 L601.5,378.6 L601.9,381.5 L602.0,384.6 L601.9,387.9 L601.6,391.3 L601.1,394.8 L600.4,398.5 L599.4,402.2 L598.2,405.9 L596.9,409.7 L595.4,413.4 L593.7,417.1 L591.8,420.7 L589.8,424.2 L587.7,427.6 L585.5,430.8 L583.1,433.8 L580.7,436.6 L578.2,439.2 L575.7,441.6 L573.2,443.7 L570.7,445.5 L568.2,447.0 L565.7,448.2 L563.3,449.1 L560.9,449.7 L558.7,450.0 L556.5,449.9 L554.5,449.5 L552.6,448.8 L545.6,445.3 L543.9,444.3 L542.3,442.9 L541.0,441.3 L539.8,439.3 L538.8,437.1 L538.0,434.6 L537.5,431.9 L537.1,429.0Z"/><ellipse class="o" cx="573" cy="407" rx="23" ry="46.5" transform="rotate(26 573 407)" /><ellipse class="t" cx="574" cy="413" rx="21.5" ry="45" transform="rotate(26 574 413)" /><clipPath id="h3aa72"><path d="M548.4,427.7 L548.5,424.8 L548.8,421.7 L549.3,418.6 L550.0,415.3 L550.9,412.0 L551.9,408.7 L553.1,405.3 L554.5,402.0 L556.0,398.7 L557.7,395.5 L559.5,392.4 L561.4,389.4 L563.3,386.5 L565.4,383.8 L567.5,381.3 L569.7,378.9 L571.9,376.8 L574.1,374.9 L576.4,373.3 L578.6,371.9 L580.8,370.8 L582.9,370.0 L585.0,369.4 L586.9,369.2 L588.8,369.2 L590.6,369.6 L612.6,376.6 L614.2,377.2 L615.7,378.1 L617.0,379.3 L618.2,380.7 L619.2,382.4 L620.1,384.4 L620.7,386.6 L621.2,389.0 L621.5,391.6 L621.6,394.3 L621.5,397.2 L621.2,400.3 L620.7,403.4 L620.0,406.7 L619.1,410.0 L618.1,413.3 L616.9,416.7 L615.5,420.0 L614.0,423.3 L612.3,426.5 L610.5,429.6 L608.6,432.6 L606.7,435.5 L604.6,438.2 L602.5,440.7 L600.3,443.1 L598.1,445.2 L595.9,447.1 L593.6,448.7 L591.4,450.1 L589.2,451.2 L587.1,452.0 L585.0,452.6 L583.1,452.8 L581.2,452.8 L579.4,452.4 L557.4,445.4 L555.8,444.8 L554.3,443.9 L553.0,442.7 L551.8,441.3 L550.8,439.6 L549.9,437.6 L549.3,435.4 L548.8,433.0 L548.5,430.4Z"/></clipPath><path d="M548.4,427.7 L548.5,424.8 L548.8,421.7 L549.3,418.6 L550.0,415.3 L550.9,412.0 L551.9,408.7 L553.1,405.3 L554.5,402.0 L556.0,398.7 L557.7,395.5 L559.5,392.4 L561.4,389.4 L563.3,386.5 L565.4,383.8 L567.5,381.3 L569.7,378.9 L571.9,376.8 L574.1,374.9 L576.4,373.3 L578.6,371.9 L580.8,370.8 L582.9,370.0 L585.0,369.4 L586.9,369.2 L588.8,369.2 L590.6,369.6 L612.6,376.6 L614.2,377.2 L615.7,378.1 L617.0,379.3 L618.2,380.7 L619.2,382.4 L620.1,384.4 L620.7,386.6 L621.2,389.0 L621.5,391.6 L621.6,394.3 L621.5,397.2 L621.2,400.3 L620.7,403.4 L620.0,406.7 L619.1,410.0 L618.1,413.3 L616.9,416.7 L615.5,420.0 L614.0,423.3 L612.3,426.5 L610.5,429.6 L608.6,432.6 L606.7,435.5 L604.6,438.2 L602.5,440.7 L600.3,443.1 L598.1,445.2 L595.9,447.1 L593.6,448.7 L591.4,450.1 L589.2,451.2 L587.1,452.0 L585.0,452.6 L583.1,452.8 L581.2,452.8 L579.4,452.4 L557.4,445.4 L555.8,444.8 L554.3,443.9 L553.0,442.7 L551.8,441.3 L550.8,439.6 L549.9,437.6 L549.3,435.4 L548.8,433.0 L548.5,430.4Z" fill="#fff"/><g clip-path="url(#h3aa72)"><path class="k" d="M551.1,440.3 L550.2,438.4 L549.5,436.3 L549.0,434.0 L548.6,431.5 L548.4,428.8 L548.5,425.9 L548.7,422.9 L549.1,419.8 L549.7,416.6 L550.5,413.3 L572.5,420.3 L571.7,423.6 L571.1,426.8 L570.7,429.9 L570.5,432.9 L570.4,435.8 L570.6,438.5 L571.0,441.0 L571.5,443.3 L572.2,445.4 L573.1,447.3Z"/><path class="w" d="M549.0,420.5 L549.1,420.2 L549.1,420.0 L549.1,419.7 L549.2,419.5 L549.2,419.2 L549.3,418.9 L549.3,418.7 L549.4,418.4 L549.4,418.2 L549.5,417.9 L571.5,424.9 L571.4,425.2 L571.4,425.4 L571.3,425.7 L571.3,425.9 L571.2,426.2 L571.2,426.5 L571.1,426.7 L571.1,427.0 L571.1,427.2 L571.0,427.5Z"/></g><path class="l" d="M548.4,427.7 L548.5,424.8 L548.8,421.7 L549.3,418.6 L550.0,415.3 L550.9,412.0 L551.9,408.7 L553.1,405.3 L554.5,402.0 L556.0,398.7 L557.7,395.5 L559.5,392.4 L561.4,389.4 L563.3,386.5 L565.4,383.8 L567.5,381.3 L569.7,378.9 L571.9,376.8 L574.1,374.9 L576.4,373.3 L578.6,371.9 L580.8,370.8 L582.9,370.0 L585.0,369.4 L586.9,369.2 L588.8,369.2 L590.6,369.6 L612.6,376.6 L614.2,377.2 L615.7,378.1 L617.0,379.3 L618.2,380.7 L619.2,382.4 L620.1,384.4 L620.7,386.6 L621.2,389.0 L621.5,391.6 L621.6,394.3 L621.5,397.2 L621.2,400.3 L620.7,403.4 L620.0,406.7 L619.1,410.0 L618.1,413.3 L616.9,416.7 L615.5,420.0 L614.0,423.3 L612.3,426.5 L610.5,429.6 L608.6,432.6 L606.7,435.5 L604.6,438.2 L602.5,440.7 L600.3,443.1 L598.1,445.2 L595.9,447.1 L593.6,448.7 L591.4,450.1 L589.2,451.2 L587.1,452.0 L585.0,452.6 L583.1,452.8 L581.2,452.8 L579.4,452.4 L557.4,445.4 L555.8,444.8 L554.3,443.9 L553.0,442.7 L551.8,441.3 L550.8,439.6 L549.9,437.6 L549.3,435.4 L548.8,433.0 L548.5,430.4Z"/><path class="t" d="M565,393 L585,403"/><clipPath id="h3aa73"><path d="M568.5,435.1 L568.7,432.0 L569.0,428.7 L569.5,425.3 L570.2,421.9 L571.2,418.3 L572.3,414.8 L573.6,411.2 L575.0,407.6 L576.7,404.1 L578.5,400.6 L580.4,397.3 L582.4,394.0 L584.5,391.0 L586.7,388.1 L589.0,385.3 L591.4,382.8 L593.7,380.6 L596.1,378.6 L598.5,376.8 L600.9,375.3 L603.2,374.1 L605.5,373.3 L607.7,372.7 L609.8,372.4 L611.9,372.5 L613.8,372.8 L615.5,373.5 L621.0,376.5 L622.6,377.5 L624.1,378.8 L625.3,380.3 L626.4,382.1 L627.4,384.2 L628.1,386.6 L628.6,389.1 L628.9,391.9 L629.0,394.9 L628.8,398.0 L628.5,401.3 L628.0,404.7 L627.3,408.1 L626.3,411.7 L625.2,415.2 L623.9,418.8 L622.5,422.4 L620.8,425.9 L619.0,429.4 L617.1,432.7 L615.1,436.0 L613.0,439.0 L610.8,441.9 L608.5,444.7 L606.1,447.2 L603.8,449.4 L601.4,451.4 L599.0,453.2 L596.6,454.7 L594.3,455.9 L592.0,456.7 L589.8,457.3 L587.7,457.6 L585.6,457.5 L583.8,457.2 L582.0,456.5 L576.5,453.5 L574.9,452.5 L573.4,451.2 L572.2,449.7 L571.1,447.9 L570.1,445.8 L569.4,443.4 L568.9,440.9 L568.6,438.1Z"/></clipPath><path d="M568.5,435.1 L568.7,432.0 L569.0,428.7 L569.5,425.3 L570.2,421.9 L571.2,418.3 L572.3,414.8 L573.6,411.2 L575.0,407.6 L576.7,404.1 L578.5,400.6 L580.4,397.3 L582.4,394.0 L584.5,391.0 L586.7,388.1 L589.0,385.3 L591.4,382.8 L593.7,380.6 L596.1,378.6 L598.5,376.8 L600.9,375.3 L603.2,374.1 L605.5,373.3 L607.7,372.7 L609.8,372.4 L611.9,372.5 L613.8,372.8 L615.5,373.5 L621.0,376.5 L622.6,377.5 L624.1,378.8 L625.3,380.3 L626.4,382.1 L627.4,384.2 L628.1,386.6 L628.6,389.1 L628.9,391.9 L629.0,394.9 L628.8,398.0 L628.5,401.3 L628.0,404.7 L627.3,408.1 L626.3,411.7 L625.2,415.2 L623.9,418.8 L622.5,422.4 L620.8,425.9 L619.0,429.4 L617.1,432.7 L615.1,436.0 L613.0,439.0 L610.8,441.9 L608.5,444.7 L606.1,447.2 L603.8,449.4 L601.4,451.4 L599.0,453.2 L596.6,454.7 L594.3,455.9 L592.0,456.7 L589.8,457.3 L587.7,457.6 L585.6,457.5 L583.8,457.2 L582.0,456.5 L576.5,453.5 L574.9,452.5 L573.4,451.2 L572.2,449.7 L571.1,447.9 L570.1,445.8 L569.4,443.4 L568.9,440.9 L568.6,438.1Z" fill="#fff"/><g clip-path="url(#h3aa73)"><path class="k" d="M570.2,445.8 L569.8,444.6 L569.4,443.4 L569.2,442.2 L568.9,440.9 L568.8,439.5 L568.6,438.1 L568.6,436.6 L568.5,435.1 L568.6,433.6 L568.7,432.0 L574.2,435.0 L574.1,436.6 L574.0,438.1 L574.1,439.6 L574.1,441.1 L574.3,442.5 L574.4,443.9 L574.7,445.2 L574.9,446.4 L575.3,447.6 L575.7,448.8Z"/></g><path class="l" d="M568.5,435.1 L568.7,432.0 L569.0,428.7 L569.5,425.3 L570.2,421.9 L571.2,418.3 L572.3,414.8 L573.6,411.2 L575.0,407.6 L576.7,404.1 L578.5,400.6 L580.4,397.3 L582.4,394.0 L584.5,391.0 L586.7,388.1 L589.0,385.3 L591.4,382.8 L593.7,380.6 L596.1,378.6 L598.5,376.8 L600.9,375.3 L603.2,374.1 L605.5,373.3 L607.7,372.7 L609.8,372.4 L611.9,372.5 L613.8,372.8 L615.5,373.5 L621.0,376.5 L622.6,377.5 L624.1,378.8 L625.3,380.3 L626.4,382.1 L627.4,384.2 L628.1,386.6 L628.6,389.1 L628.9,391.9 L629.0,394.9 L628.8,398.0 L628.5,401.3 L628.0,404.7 L627.3,408.1 L626.3,411.7 L625.2,415.2 L623.9,418.8 L622.5,422.4 L620.8,425.9 L619.0,429.4 L617.1,432.7 L615.1,436.0 L613.0,439.0 L610.8,441.9 L608.5,444.7 L606.1,447.2 L603.8,449.4 L601.4,451.4 L599.0,453.2 L596.6,454.7 L594.3,455.9 L592.0,456.7 L589.8,457.3 L587.7,457.6 L585.6,457.5 L583.8,457.2 L582.0,456.5 L576.5,453.5 L574.9,452.5 L573.4,451.2 L572.2,449.7 L571.1,447.9 L570.1,445.8 L569.4,443.4 L568.9,440.9 L568.6,438.1Z"/><ellipse class="o" cx="601.5" cy="416.5" rx="21.5" ry="44.5" transform="rotate(26 601.5 416.5)" /><ellipse class="t" cx="603" cy="423.5" rx="20" ry="42" transform="rotate(26 603 423.5)" /><clipPath id="h3aa74"><path d="M579.5,438.6 L579.5,436.0 L579.7,433.2 L580.1,430.4 L580.7,427.5 L581.4,424.6 L582.3,421.6 L583.4,418.6 L584.6,415.6 L585.9,412.7 L587.4,409.8 L589.0,407.0 L590.7,404.4 L592.5,401.8 L594.4,399.4 L596.3,397.2 L598.3,395.1 L600.3,393.2 L602.4,391.6 L604.5,390.2 L606.5,389.0 L608.5,388.0 L610.5,387.3 L612.4,386.9 L614.2,386.7 L616.0,386.8 L617.7,387.1 L619.2,387.7 L741.2,454.4 L742.5,455.2 L743.7,456.2 L744.8,457.4 L745.7,458.8 L746.5,460.3 L747.2,462.0 L747.7,463.9 L748.0,465.9 L748.2,468.0 L748.2,470.2 L748.1,472.5 L747.8,474.9 L747.4,477.3 L746.8,479.8 L746.0,482.2 L745.2,484.7 L744.1,487.1 L743.0,489.5 L741.7,491.9 L740.4,494.1 L738.9,496.3 L737.3,498.4 L735.7,500.3 L734.0,502.1 L732.2,503.7 L730.4,505.1 L728.6,506.4 L726.8,507.5 L725.0,508.4 L723.2,509.1 L721.4,509.6 L719.7,509.9 L718.1,509.9 L716.5,509.7 L715.0,509.4 L713.5,508.8 L586.8,454.3 L585.4,453.4 L584.1,452.3 L582.9,451.0 L581.9,449.4 L581.1,447.6 L580.4,445.6 L579.9,443.5 L579.6,441.1Z"/></clipPath><path d="M579.5,438.6 L579.5,436.0 L579.7,433.2 L580.1,430.4 L580.7,427.5 L581.4,424.6 L582.3,421.6 L583.4,418.6 L584.6,415.6 L585.9,412.7 L587.4,409.8 L589.0,407.0 L590.7,404.4 L592.5,401.8 L594.4,399.4 L596.3,397.2 L598.3,395.1 L600.3,393.2 L602.4,391.6 L604.5,390.2 L606.5,389.0 L608.5,388.0 L610.5,387.3 L612.4,386.9 L614.2,386.7 L616.0,386.8 L617.7,387.1 L619.2,387.7 L741.2,454.4 L742.5,455.2 L743.7,456.2 L744.8,457.4 L745.7,458.8 L746.5,460.3 L747.2,462.0 L747.7,463.9 L748.0,465.9 L748.2,468.0 L748.2,470.2 L748.1,472.5 L747.8,474.9 L747.4,477.3 L746.8,479.8 L746.0,482.2 L745.2,484.7 L744.1,487.1 L743.0,489.5 L741.7,491.9 L740.4,494.1 L738.9,496.3 L737.3,498.4 L735.7,500.3 L734.0,502.1 L732.2,503.7 L730.4,505.1 L728.6,506.4 L726.8,507.5 L725.0,508.4 L723.2,509.1 L721.4,509.6 L719.7,509.9 L718.1,509.9 L716.5,509.7 L715.0,509.4 L713.5,508.8 L586.8,454.3 L585.4,453.4 L584.1,452.3 L582.9,451.0 L581.9,449.4 L581.1,447.6 L580.4,445.6 L579.9,443.5 L579.6,441.1Z" fill="#fff"/><g clip-path="url(#h3aa74)"><path class="k" d="M582.7,450.7 L581.8,449.2 L581.1,447.5 L580.4,445.7 L580.0,443.7 L579.6,441.6 L579.5,439.3 L579.5,437.0 L579.6,434.5 L579.9,431.9 L580.3,429.3 L707.1,487.3 L706.8,489.5 L706.6,491.7 L706.5,493.8 L706.6,495.8 L706.8,497.7 L707.2,499.5 L707.6,501.2 L708.2,502.8 L709.0,504.2 L709.8,505.5Z"/><path class="k" d="M581.4,424.5 L581.5,424.4 L581.5,424.2 L581.6,424.0 L581.6,423.8 L581.7,423.7 L581.7,423.5 L581.8,423.3 L581.8,423.1 L581.9,422.9 L581.9,422.8 L708.4,481.9 L708.4,482.1 L708.4,482.2 L708.3,482.4 L708.3,482.5 L708.2,482.7 L708.2,482.8 L708.1,483.0 L708.1,483.1 L708.1,483.3 L708.0,483.4Z"/><path class="w" d="M579.4,438.1 L579.4,437.9 L579.4,437.7 L579.4,437.5 L579.5,437.3 L579.5,437.1 L579.5,436.9 L579.5,436.6 L579.5,436.4 L579.5,436.2 L579.5,436.0 L706.6,493.0 L706.6,493.2 L706.5,493.3 L706.5,493.5 L706.5,493.7 L706.5,493.9 L706.5,494.1 L706.6,494.2 L706.6,494.4 L706.6,494.6 L706.6,494.8Z"/></g><path class="l" d="M579.5,438.6 L579.5,436.0 L579.7,433.2 L580.1,430.4 L580.7,427.5 L581.4,424.6 L582.3,421.6 L583.4,418.6 L584.6,415.6 L585.9,412.7 L587.4,409.8 L589.0,407.0 L590.7,404.4 L592.5,401.8 L594.4,399.4 L596.3,397.2 L598.3,395.1 L600.3,393.2 L602.4,391.6 L604.5,390.2 L606.5,389.0 L608.5,388.0 L610.5,387.3 L612.4,386.9 L614.2,386.7 L616.0,386.8 L617.7,387.1 L619.2,387.7 L741.2,454.4 L742.5,455.2 L743.7,456.2 L744.8,457.4 L745.7,458.8 L746.5,460.3 L747.2,462.0 L747.7,463.9 L748.0,465.9 L748.2,468.0 L748.2,470.2 L748.1,472.5 L747.8,474.9 L747.4,477.3 L746.8,479.8 L746.0,482.2 L745.2,484.7 L744.1,487.1 L743.0,489.5 L741.7,491.9 L740.4,494.1 L738.9,496.3 L737.3,498.4 L735.7,500.3 L734.0,502.1 L732.2,503.7 L730.4,505.1 L728.6,506.4 L726.8,507.5 L725.0,508.4 L723.2,509.1 L721.4,509.6 L719.7,509.9 L718.1,509.9 L716.5,509.7 L715.0,509.4 L713.5,508.8 L586.8,454.3 L585.4,453.4 L584.1,452.3 L582.9,451.0 L581.9,449.4 L581.1,447.6 L580.4,445.6 L579.9,443.5 L579.6,441.1Z"/></g>
<g id="gear49" stroke-linejoin="round"><path class="o" style="stroke-width:.8" d="M784.5,103.1 L772.6,103.5 L767.2,100.8 L778.5,100.0Z"/><path class="k" d="M783.0,102.5 L770.3,102.5 L767.2,100.8 L778.5,100.0Z"/><path class="o" style="stroke-width:.8" d="M777.4,99.2 L763.0,97.8 L758.6,93.5 L772.8,94.1Z"/><path class="k" d="M776.2,98.1 L761.1,96.1 L758.6,93.5 L772.8,94.1Z"/><path class="o" style="stroke-width:.8" d="M772.0,92.8 L755.5,89.3 L752.5,83.8 L769.1,86.0Z"/><path class="k" d="M771.1,91.3 L754.2,87.1 L752.5,83.8 L769.1,86.0Z"/><path class="o" style="stroke-width:.8" d="M768.7,84.5 L750.7,78.7 L749.3,72.4 L767.7,76.5Z"/><path class="k" d="M768.3,82.6 L750.0,76.2 L749.3,72.4 L767.7,76.5Z"/><path class="o" style="stroke-width:.8" d="M767.7,74.8 L748.9,66.9 L749.3,60.2 L768.7,66.2Z"/><path class="k" d="M767.8,72.7 L749.0,64.2 L749.3,60.2 L768.7,66.2Z"/><path class="o" style="stroke-width:.8" d="M769.1,64.4 L750.3,54.6 L752.4,48.2 L772.1,56.0Z"/><path class="k" d="M769.7,62.4 L751.1,52.0 L752.4,48.2 L772.1,56.0Z"/><path class="o" style="stroke-width:.8" d="M772.9,54.3 L754.8,42.9 L758.4,37.2 L777.6,46.6Z"/><path class="k" d="M773.9,52.4 L756.2,40.5 L758.4,37.2 L777.6,46.6Z"/><path class="o" style="stroke-width:.8" d="M778.7,45.2 L762.0,32.8 L766.9,28.1 L784.7,38.9Z"/><path class="k" d="M780.1,43.5 L763.9,30.8 L766.9,28.1 L784.7,38.9Z"/><path class="o" style="stroke-width:.8" d="M786.1,37.7 L771.4,24.8 L777.1,21.7 L793.0,33.3Z"/><path class="k" d="M787.7,36.5 L773.7,23.4 L777.1,21.7 L793.0,33.3Z"/><path class="o" style="stroke-width:.8" d="M794.4,32.6 L782.2,19.8 L788.4,18.4 L801.7,30.3Z"/><path class="k" d="M796.2,31.8 L784.7,19.1 L788.4,18.4 L801.7,30.3Z"/><path class="o" style="stroke-width:.8" d="M803.2,30.0 L793.7,18.0 L799.8,18.4 L810.2,30.1Z"/><path class="k" d="M804.9,29.9 L796.2,18.1 L799.8,18.4 L810.2,30.1Z"/><path class="o" style="stroke-width:.8" d="M811.6,30.4 L804.8,19.6 L810.4,21.9 L817.8,32.9Z"/><path class="k" d="M813.1,30.8 L807.1,20.4 L810.4,21.9 L817.8,32.9Z"/><path class="o" style="stroke-width:.8" d="M819.0,33.6 L814.8,24.5 L819.4,28.4 L824.0,38.2Z"/><path class="k" d="M820.3,34.5 L816.7,26.0 L819.4,28.4 L824.0,38.2Z"/><path class="o" style="stroke-width:.8" d="M824.9,39.4 L822.9,32.3 L826.2,37.6 L828.2,45.8Z"/><path class="k" d="M825.8,40.8 L824.3,34.4 L826.2,37.6 L828.2,45.8Z"/><clipPath id="h9a4c1"><path d="M773.4,77.7 L773.5,74.8 L773.9,71.7 L774.5,68.7 L775.3,65.6 L776.3,62.6 L777.5,59.6 L778.8,56.7 L780.4,53.9 L782.1,51.1 L784.0,48.6 L786.0,46.1 L788.1,43.9 L790.3,41.8 L792.7,39.9 L795.0,38.3 L797.5,36.8 L800.0,35.7 L802.5,34.7 L805.0,34.0 L807.4,33.6 L809.9,33.5 L812.2,33.6 L814.5,34.0 L816.7,34.6 L818.8,35.5 L857.0,55.1 L858.9,56.2 L860.6,57.5 L862.1,59.1 L863.5,60.9 L864.7,62.9 L865.7,65.1 L866.5,67.5 L867.1,70.0 L867.5,72.7 L867.7,75.5 L867.6,78.5 L867.4,81.4 L867.0,84.5 L866.3,87.5 L865.5,90.6 L864.5,93.7 L863.2,96.7 L861.8,99.6 L860.3,102.5 L858.5,105.3 L856.7,107.9 L854.7,110.4 L852.6,112.7 L850.4,114.8 L848.1,116.8 L845.8,118.5 L843.4,120.0 L841.0,121.2 L838.6,122.2 L836.2,123.0 L833.8,123.5 L831.5,123.7 L829.2,123.7 L827.0,123.3 L824.9,122.8 L823.0,121.9 L785.2,101.5 L783.2,100.3 L781.4,98.9 L779.8,97.3 L778.3,95.4 L777.0,93.4 L775.9,91.2 L775.0,88.7 L774.2,86.2 L773.7,83.5 L773.5,80.7Z"/></clipPath><path d="M773.4,77.7 L773.5,74.8 L773.9,71.7 L774.5,68.7 L775.3,65.6 L776.3,62.6 L777.5,59.6 L778.8,56.7 L780.4,53.9 L782.1,51.1 L784.0,48.6 L786.0,46.1 L788.1,43.9 L790.3,41.8 L792.7,39.9 L795.0,38.3 L797.5,36.8 L800.0,35.7 L802.5,34.7 L805.0,34.0 L807.4,33.6 L809.9,33.5 L812.2,33.6 L814.5,34.0 L816.7,34.6 L818.8,35.5 L857.0,55.1 L858.9,56.2 L860.6,57.5 L862.1,59.1 L863.5,60.9 L864.7,62.9 L865.7,65.1 L866.5,67.5 L867.1,70.0 L867.5,72.7 L867.7,75.5 L867.6,78.5 L867.4,81.4 L867.0,84.5 L866.3,87.5 L865.5,90.6 L864.5,93.7 L863.2,96.7 L861.8,99.6 L860.3,102.5 L858.5,105.3 L856.7,107.9 L854.7,110.4 L852.6,112.7 L850.4,114.8 L848.1,116.8 L845.8,118.5 L843.4,120.0 L841.0,121.2 L838.6,122.2 L836.2,123.0 L833.8,123.5 L831.5,123.7 L829.2,123.7 L827.0,123.3 L824.9,122.8 L823.0,121.9 L785.2,101.5 L783.2,100.3 L781.4,98.9 L779.8,97.3 L778.3,95.4 L777.0,93.4 L775.9,91.2 L775.0,88.7 L774.2,86.2 L773.7,83.5 L773.5,80.7Z" fill="#fff"/><g clip-path="url(#h9a4c1)"><path class="k" d="M779.8,97.3 L778.5,95.7 L777.3,93.9 L776.2,92.0 L775.4,89.9 L774.6,87.7 L774.1,85.4 L773.7,83.0 L773.4,80.5 L773.4,78.0 L773.5,75.4 L812.5,96.2 L812.3,98.8 L812.3,101.3 L812.5,103.8 L812.8,106.2 L813.3,108.5 L813.9,110.7 L814.7,112.7 L815.6,114.6 L816.7,116.3 L817.9,117.9Z"/><path class="k" d="M774.0,71.1 L774.1,70.6 L774.2,70.1 L774.3,69.7 L774.4,69.2 L774.5,68.7 L774.6,68.2 L774.7,67.7 L774.8,67.2 L775.0,66.7 L775.1,66.2 L814.3,87.0 L814.2,87.5 L814.0,88.0 L813.9,88.5 L813.8,89.0 L813.7,89.5 L813.5,90.0 L813.4,90.5 L813.3,90.9 L813.2,91.4 L813.1,91.9Z"/></g><path class="l" d="M773.4,77.7 L773.5,74.8 L773.9,71.7 L774.5,68.7 L775.3,65.6 L776.3,62.6 L777.5,59.6 L778.8,56.7 L780.4,53.9 L782.1,51.1 L784.0,48.6 L786.0,46.1 L788.1,43.9 L790.3,41.8 L792.7,39.9 L795.0,38.3 L797.5,36.8 L800.0,35.7 L802.5,34.7 L805.0,34.0 L807.4,33.6 L809.9,33.5 L812.2,33.6 L814.5,34.0 L816.7,34.6 L818.8,35.5 L857.0,55.1 L858.9,56.2 L860.6,57.5 L862.1,59.1 L863.5,60.9 L864.7,62.9 L865.7,65.1 L866.5,67.5 L867.1,70.0 L867.5,72.7 L867.7,75.5 L867.6,78.5 L867.4,81.4 L867.0,84.5 L866.3,87.5 L865.5,90.6 L864.5,93.7 L863.2,96.7 L861.8,99.6 L860.3,102.5 L858.5,105.3 L856.7,107.9 L854.7,110.4 L852.6,112.7 L850.4,114.8 L848.1,116.8 L845.8,118.5 L843.4,120.0 L841.0,121.2 L838.6,122.2 L836.2,123.0 L833.8,123.5 L831.5,123.7 L829.2,123.7 L827.0,123.3 L824.9,122.8 L823.0,121.9 L785.2,101.5 L783.2,100.3 L781.4,98.9 L779.8,97.3 L778.3,95.4 L777.0,93.4 L775.9,91.2 L775.0,88.7 L774.2,86.2 L773.7,83.5 L773.5,80.7Z"/><path class="t" d="M787,59.3 L818,74"/><ellipse class="o" cx="840" cy="88.5" rx="24.5" ry="37.5" transform="rotate(27 840 88.5)" /><ellipse class="k" cx="840.5" cy="89" rx="21" ry="33" transform="rotate(27 840.5 89)" /><path d="M833.6,113.5 L830.9,114.0 L828.3,114.1 L825.9,113.6 L823.8,112.7 L821.9,111.2 L820.2,109.3 L818.9,107.0 L818.0,104.4 L817.4,101.4 L817.2,98.1 L817.4,94.7 L818.0,91.1 L818.9,87.5 L820.2,83.8 L821.9,80.3 L823.8,76.9 L825.9,73.7 L828.3,70.8 L830.9,68.2 L833.6,66.1 L836.3,64.3 L839.1,63.0 L841.8,62.2 L844.4,61.9 L846.9,62.1 L849.2,62.8 L851.2,64.0 L853.0,65.7 L854.5,67.8 L855.6,70.3" stroke="#fff" stroke-width="1.1" fill="none"/><path d="M842.0,90.1 L841.2,91.2 L840.1,92.0 L838.9,92.6 L837.8,93.0 L837.0,93.6 L836.4,94.5 L835.9,95.8 L835.4,97.4 L834.8,99.1 L834.0,100.4 L833.1,101.3 L832.2,101.5 L831.4,101.1 L830.6,100.5 L830.0,99.9 L829.3,99.9 L828.6,100.5 L827.6,101.6 L826.6,102.9 L825.5,104.0 L824.5,104.5 L823.8,104.3 L823.4,103.3 L823.4,101.9 L823.4,100.5 L823.4,99.4 L823.0,98.9 L822.3,98.9 L821.2,99.2 L820.1,99.5 L819.2,99.5 L818.6,98.9 L818.7,97.7 L819.2,96.2 L819.9,94.5 L820.7,93.0 L821.1,91.8 L821.0,91.0 L820.6,90.3 L820.0,89.5 L819.4,88.6 L819.2,87.5 L819.5,86.3 L820.2,85.0 L821.3,83.8 L822.5,82.8 L823.5,81.9 L824.2,81.0 L824.5,79.9 L824.6,78.6 L824.8,77.1 L825.1,75.5 L825.7,74.1 L826.5,73.1 L827.5,72.7 L828.6,72.6 L829.6,72.7 L830.4,72.6 L831.1,72.1 L831.8,71.1 L832.6,69.6 L833.5,68.1 L834.4,66.7 L835.4,66.0 L836.2,66.1 L836.8,66.8 L837.2,67.9 L837.5,69.0 L837.9,69.6 L838.6,69.5 L839.5,69.0 L840.6,68.1 L841.8,67.3 L842.8,67.0 L843.4,67.4 L843.5,68.5 L843.3,70.1 L842.9,71.7 L842.5,73.1 L842.5,74.1 L842.9,74.6 L843.7,74.8 L844.6,75.0 L845.5,75.5 L845.8,76.3 L845.7,77.6 L845.0,79.0 L844.0,80.5 L843.0,81.8 L842.3,83.0 L841.9,84.0 L841.9,85.0 L842.2,86.1 L842.4,87.4 L842.4,88.8Z" stroke="#fff" stroke-width=".9" fill="none"/></g>
<g id="gear54" stroke-linejoin="round"><path class="o" style="stroke-width:.8" d="M766.6,282.3 L755.7,283.2 L750.7,280.7 L761.0,279.5Z"/><path class="k" d="M765.2,281.8 L753.6,282.3 L750.7,280.7 L761.0,279.5Z"/><path class="o" style="stroke-width:.8" d="M760.0,278.7 L746.9,277.9 L742.8,274.0 L755.7,274.0Z"/><path class="k" d="M758.9,277.7 L745.1,276.4 L742.8,274.0 L755.7,274.0Z"/><path class="o" style="stroke-width:.8" d="M755.0,272.8 L739.9,270.1 L737.2,265.0 L752.2,266.5Z"/><path class="k" d="M754.2,271.4 L738.7,268.0 L737.2,265.0 L752.2,266.5Z"/><path class="o" style="stroke-width:.8" d="M751.9,265.1 L735.5,260.2 L734.3,254.4 L750.9,257.7Z"/><path class="k" d="M751.5,263.3 L734.9,257.9 L734.3,254.4 L750.9,257.7Z"/><path class="o" style="stroke-width:.8" d="M750.9,256.1 L733.9,249.2 L734.3,243.0 L751.9,248.2Z"/><path class="k" d="M751.0,254.2 L734.0,246.7 L734.3,243.0 L751.9,248.2Z"/><path class="o" style="stroke-width:.8" d="M752.2,246.5 L735.3,237.8 L737.2,231.8 L755.0,238.7Z"/><path class="k" d="M752.8,244.6 L736.0,235.3 L737.2,231.8 L755.0,238.7Z"/><path class="o" style="stroke-width:.8" d="M755.7,237.2 L739.5,226.9 L742.8,221.5 L760.0,230.1Z"/><path class="k" d="M756.6,235.4 L740.7,224.6 L742.8,221.5 L760.0,230.1Z"/><path class="o" style="stroke-width:.8" d="M761.1,228.8 L746.2,217.3 L750.7,213.0 L766.6,222.9Z"/><path class="k" d="M762.3,227.2 L748.0,215.5 L750.7,213.0 L766.6,222.9Z"/><path class="o" style="stroke-width:.8" d="M767.9,221.9 L754.9,209.9 L760.2,207.0 L774.3,217.8Z"/><path class="k" d="M769.4,220.8 L757.0,208.6 L760.2,207.0 L774.3,217.8Z"/><path class="o" style="stroke-width:.8" d="M775.6,217.1 L764.9,205.2 L770.6,203.9 L782.4,215.0Z"/><path class="k" d="M777.3,216.5 L767.3,204.5 L770.6,203.9 L782.4,215.0Z"/><path class="o" style="stroke-width:.8" d="M783.7,214.8 L775.5,203.5 L781.2,203.9 L790.3,214.9Z"/><path class="k" d="M785.3,214.7 L777.9,203.5 L781.2,203.9 L790.3,214.9Z"/><path class="o" style="stroke-width:.8" d="M791.5,215.2 L785.8,205.0 L791.0,207.1 L797.4,217.5Z"/><path class="k" d="M793.0,215.6 L788.0,205.7 L791.0,207.1 L797.4,217.5Z"/><path class="o" style="stroke-width:.8" d="M798.5,218.2 L795.1,209.5 L799.4,213.1 L803.1,222.5Z"/><path class="k" d="M799.7,219.1 L796.9,210.9 L799.4,213.1 L803.1,222.5Z"/><path class="o" style="stroke-width:.8" d="M803.9,223.5 L802.5,216.8 L805.6,221.6 L807.1,229.5Z"/><path class="k" d="M804.8,224.9 L803.9,218.7 L805.6,221.6 L807.1,229.5Z"/><clipPath id="h9a4c2"><path d="M753.1,258.0 L753.3,255.2 L753.6,252.3 L754.1,249.4 L754.9,246.5 L755.8,243.6 L756.9,240.8 L758.2,238.1 L759.7,235.4 L761.3,232.8 L763.1,230.4 L765.0,228.1 L767.0,225.9 L769.1,224.0 L771.4,222.2 L773.6,220.7 L776.0,219.3 L778.4,218.2 L780.7,217.3 L783.1,216.7 L785.5,216.3 L787.8,216.2 L790.1,216.3 L792.3,216.7 L794.4,217.3 L833.2,233.9 L835.0,234.7 L836.6,235.7 L838.2,236.9 L839.6,238.3 L840.9,240.0 L842.0,241.9 L842.9,243.9 L843.6,246.1 L844.2,248.4 L844.5,250.9 L844.7,253.5 L844.7,256.1 L844.5,258.9 L844.1,261.7 L843.5,264.5 L842.7,267.3 L841.8,270.1 L840.6,272.9 L839.4,275.6 L837.9,278.3 L836.3,280.8 L834.6,283.2 L832.8,285.5 L830.9,287.6 L828.8,289.6 L826.7,291.4 L824.6,293.0 L822.4,294.4 L820.2,295.5 L818.0,296.4 L815.8,297.1 L813.6,297.6 L811.4,297.8 L809.4,297.7 L807.4,297.4 L805.4,296.9 L766.6,281.5 L764.6,280.6 L762.7,279.5 L761.0,278.1 L759.4,276.6 L758.0,274.8 L756.7,272.9 L755.6,270.7 L754.7,268.4 L754.0,266.0 L753.5,263.4 L753.2,260.8Z"/></clipPath><path d="M753.1,258.0 L753.3,255.2 L753.6,252.3 L754.1,249.4 L754.9,246.5 L755.8,243.6 L756.9,240.8 L758.2,238.1 L759.7,235.4 L761.3,232.8 L763.1,230.4 L765.0,228.1 L767.0,225.9 L769.1,224.0 L771.4,222.2 L773.6,220.7 L776.0,219.3 L778.4,218.2 L780.7,217.3 L783.1,216.7 L785.5,216.3 L787.8,216.2 L790.1,216.3 L792.3,216.7 L794.4,217.3 L833.2,233.9 L835.0,234.7 L836.6,235.7 L838.2,236.9 L839.6,238.3 L840.9,240.0 L842.0,241.9 L842.9,243.9 L843.6,246.1 L844.2,248.4 L844.5,250.9 L844.7,253.5 L844.7,256.1 L844.5,258.9 L844.1,261.7 L843.5,264.5 L842.7,267.3 L841.8,270.1 L840.6,272.9 L839.4,275.6 L837.9,278.3 L836.3,280.8 L834.6,283.2 L832.8,285.5 L830.9,287.6 L828.8,289.6 L826.7,291.4 L824.6,293.0 L822.4,294.4 L820.2,295.5 L818.0,296.4 L815.8,297.1 L813.6,297.6 L811.4,297.8 L809.4,297.7 L807.4,297.4 L805.4,296.9 L766.6,281.5 L764.6,280.6 L762.7,279.5 L761.0,278.1 L759.4,276.6 L758.0,274.8 L756.7,272.9 L755.6,270.7 L754.7,268.4 L754.0,266.0 L753.5,263.4 L753.2,260.8Z" fill="#fff"/><g clip-path="url(#h9a4c2)"><path class="k" d="M759.4,276.6 L758.1,275.0 L756.9,273.3 L755.9,271.4 L755.0,269.4 L754.3,267.2 L753.8,265.0 L753.4,262.6 L753.2,260.2 L753.1,257.7 L753.3,255.2 L794.1,271.9 L793.9,274.4 L793.9,276.8 L794.0,279.2 L794.2,281.4 L794.7,283.6 L795.2,285.6 L796.0,287.5 L796.8,289.3 L797.8,291.0 L799.0,292.4Z"/><path class="k" d="M753.9,250.6 L754.0,250.0 L754.1,249.5 L754.2,249.0 L754.3,248.5 L754.5,248.0 L754.6,247.4 L754.8,246.9 L754.9,246.4 L755.1,245.9 L755.2,245.4 L796.2,262.4 L796.1,262.9 L795.9,263.4 L795.8,263.9 L795.6,264.4 L795.5,264.9 L795.3,265.4 L795.2,265.9 L795.1,266.4 L795.0,266.9 L794.8,267.4Z"/></g><path class="l" d="M753.1,258.0 L753.3,255.2 L753.6,252.3 L754.1,249.4 L754.9,246.5 L755.8,243.6 L756.9,240.8 L758.2,238.1 L759.7,235.4 L761.3,232.8 L763.1,230.4 L765.0,228.1 L767.0,225.9 L769.1,224.0 L771.4,222.2 L773.6,220.7 L776.0,219.3 L778.4,218.2 L780.7,217.3 L783.1,216.7 L785.5,216.3 L787.8,216.2 L790.1,216.3 L792.3,216.7 L794.4,217.3 L833.2,233.9 L835.0,234.7 L836.6,235.7 L838.2,236.9 L839.6,238.3 L840.9,240.0 L842.0,241.9 L842.9,243.9 L843.6,246.1 L844.2,248.4 L844.5,250.9 L844.7,253.5 L844.7,256.1 L844.5,258.9 L844.1,261.7 L843.5,264.5 L842.7,267.3 L841.8,270.1 L840.6,272.9 L839.4,275.6 L837.9,278.3 L836.3,280.8 L834.6,283.2 L832.8,285.5 L830.9,287.6 L828.8,289.6 L826.7,291.4 L824.6,293.0 L822.4,294.4 L820.2,295.5 L818.0,296.4 L815.8,297.1 L813.6,297.6 L811.4,297.8 L809.4,297.7 L807.4,297.4 L805.4,296.9 L766.6,281.5 L764.6,280.6 L762.7,279.5 L761.0,278.1 L759.4,276.6 L758.0,274.8 L756.7,272.9 L755.6,270.7 L754.7,268.4 L754.0,266.0 L753.5,263.4 L753.2,260.8Z"/><path class="t" d="M768,237 L800,252"/><ellipse class="o" cx="819.3" cy="265.4" rx="22.5" ry="34.5" transform="rotate(27 819.3 265.4)" /><ellipse class="l" cx="818.5" cy="265.5" rx="19.5" ry="30.5" transform="rotate(27 818.5 265.5)" style="stroke-width:.8"/><ellipse class="k" cx="817.4" cy="266.9" rx="13.5" ry="20" transform="rotate(27 817.4 266.9)" /><ellipse class="w" cx="818.5" cy="267.5" rx="10" ry="15" transform="rotate(27 818.5 267.5)" /><path class="k" d="M825.2,271.2 L824.7,271.8 L824.1,272.2 L823.4,272.5 L822.8,272.8 L822.3,273.1 L822.0,273.5 L821.7,274.2 L821.4,275.0 L821.1,275.8 L820.7,276.5 L820.1,276.9 L819.6,277.0 L819.0,276.8 L818.5,276.5 L818.1,276.3 L817.6,276.3 L817.1,276.5 L816.6,277.0 L816.0,277.6 L815.4,278.1 L814.8,278.2 L814.3,278.1 L814.0,277.6 L813.9,276.9 L813.8,276.2 L813.6,275.6 L813.3,275.3 L812.9,275.2 L812.3,275.3 L811.7,275.3 L811.1,275.1 L810.8,274.8 L810.7,274.1 L810.9,273.3 L811.2,272.5 L811.5,271.7 L811.6,271.1 L811.6,270.6 L811.3,270.1 L810.9,269.7 L810.6,269.1 L810.4,268.5 L810.6,267.8 L811.0,267.1 L811.5,266.5 L812.1,266.0 L812.7,265.5 L813.0,265.0 L813.2,264.4 L813.3,263.7 L813.4,262.9 L813.5,262.1 L813.8,261.4 L814.3,260.9 L814.9,260.6 L815.6,260.6 L816.2,260.6 L816.7,260.6 L817.1,260.3 L817.6,259.8 L818.0,259.1 L818.5,258.4 L819.0,257.8 L819.6,257.4 L820.1,257.5 L820.5,257.9 L820.9,258.4 L821.2,258.9 L821.5,259.2 L821.9,259.3 L822.5,259.0 L823.1,258.7 L823.8,258.4 L824.4,258.4 L824.8,258.7 L825.0,259.3 L825.0,260.0 L824.8,260.9 L824.8,261.6 L824.8,262.1 L825.1,262.4 L825.6,262.7 L826.1,262.9 L826.6,263.3 L826.9,263.8 L826.8,264.4 L826.5,265.2 L826.1,265.9 L825.6,266.6 L825.2,267.2 L825.0,267.8 L825.1,268.4 L825.2,269.0 L825.4,269.7 L825.4,270.5Z"/></g>
<g id="bolt53" stroke-linejoin="round"><clipPath id="hacc11"><path d="M860.6,116.4 L860.7,115.6 L860.7,114.8 L860.9,114.0 L861.0,113.2 L861.3,112.3 L861.5,111.4 L861.9,110.5 L862.2,109.5 L862.6,108.6 L863.0,107.7 L863.5,106.8 L864.0,106.0 L864.5,105.2 L865.1,104.4 L865.7,103.6 L866.2,102.9 L866.9,102.3 L867.4,101.7 L868.0,101.2 L868.6,100.7 L869.2,100.3 L869.8,100.0 L870.4,99.8 L870.9,99.6 L871.4,99.5 L871.9,99.5 L872.3,99.6 L872.7,99.8 L894.2,110.8 L894.6,111.0 L894.9,111.3 L895.2,111.7 L895.4,112.2 L895.6,112.7 L895.8,113.3 L895.8,113.9 L895.9,114.6 L895.8,115.4 L895.8,116.2 L895.6,117.0 L895.5,117.8 L895.2,118.7 L895.0,119.6 L894.6,120.5 L894.3,121.5 L893.9,122.4 L893.5,123.3 L893.0,124.2 L892.5,125.0 L892.0,125.8 L891.4,126.6 L890.8,127.4 L890.2,128.1 L889.6,128.7 L889.1,129.3 L888.5,129.8 L887.9,130.3 L887.3,130.7 L886.7,131.0 L886.1,131.2 L885.6,131.4 L885.1,131.5 L884.6,131.5 L884.2,131.4 L883.8,131.2 L862.3,120.2 L861.9,120.0 L861.6,119.7 L861.3,119.3 L861.1,118.8 L860.9,118.3 L860.8,117.7 L860.7,117.1Z"/></clipPath><path d="M860.6,116.4 L860.7,115.6 L860.7,114.8 L860.9,114.0 L861.0,113.2 L861.3,112.3 L861.5,111.4 L861.9,110.5 L862.2,109.5 L862.6,108.6 L863.0,107.7 L863.5,106.8 L864.0,106.0 L864.5,105.2 L865.1,104.4 L865.7,103.6 L866.2,102.9 L866.9,102.3 L867.4,101.7 L868.0,101.2 L868.6,100.7 L869.2,100.3 L869.8,100.0 L870.4,99.8 L870.9,99.6 L871.4,99.5 L871.9,99.5 L872.3,99.6 L872.7,99.8 L894.2,110.8 L894.6,111.0 L894.9,111.3 L895.2,111.7 L895.4,112.2 L895.6,112.7 L895.8,113.3 L895.8,113.9 L895.9,114.6 L895.8,115.4 L895.8,116.2 L895.6,117.0 L895.5,117.8 L895.2,118.7 L895.0,119.6 L894.6,120.5 L894.3,121.5 L893.9,122.4 L893.5,123.3 L893.0,124.2 L892.5,125.0 L892.0,125.8 L891.4,126.6 L890.8,127.4 L890.2,128.1 L889.6,128.7 L889.1,129.3 L888.5,129.8 L887.9,130.3 L887.3,130.7 L886.7,131.0 L886.1,131.2 L885.6,131.4 L885.1,131.5 L884.6,131.5 L884.2,131.4 L883.8,131.2 L862.3,120.2 L861.9,120.0 L861.6,119.7 L861.3,119.3 L861.1,118.8 L860.9,118.3 L860.8,117.7 L860.7,117.1Z" fill="#111"/><g clip-path="url(#hacc11)"></g><path class="l" d="M860.6,116.4 L860.7,115.6 L860.7,114.8 L860.9,114.0 L861.0,113.2 L861.3,112.3 L861.5,111.4 L861.9,110.5 L862.2,109.5 L862.6,108.6 L863.0,107.7 L863.5,106.8 L864.0,106.0 L864.5,105.2 L865.1,104.4 L865.7,103.6 L866.2,102.9 L866.9,102.3 L867.4,101.7 L868.0,101.2 L868.6,100.7 L869.2,100.3 L869.8,100.0 L870.4,99.8 L870.9,99.6 L871.4,99.5 L871.9,99.5 L872.3,99.6 L872.7,99.8 L894.2,110.8 L894.6,111.0 L894.9,111.3 L895.2,111.7 L895.4,112.2 L895.6,112.7 L895.8,113.3 L895.8,113.9 L895.9,114.6 L895.8,115.4 L895.8,116.2 L895.6,117.0 L895.5,117.8 L895.2,118.7 L895.0,119.6 L894.6,120.5 L894.3,121.5 L893.9,122.4 L893.5,123.3 L893.0,124.2 L892.5,125.0 L892.0,125.8 L891.4,126.6 L890.8,127.4 L890.2,128.1 L889.6,128.7 L889.1,129.3 L888.5,129.8 L887.9,130.3 L887.3,130.7 L886.7,131.0 L886.1,131.2 L885.6,131.4 L885.1,131.5 L884.6,131.5 L884.2,131.4 L883.8,131.2 L862.3,120.2 L861.9,120.0 L861.6,119.7 L861.3,119.3 L861.1,118.8 L860.9,118.3 L860.8,117.7 L860.7,117.1Z"/><path d="M864.3,121.2 L863.4,119.9 L863.0,117.8 L863.3,115.1 L864.1,112.0 L865.4,109.0 L867.2,106.1 L869.1,103.6 L871.1,101.8 L873.1,100.9 L874.7,100.8 M866.7,122.5 L865.8,121.1 L865.4,119.0 L865.7,116.3 L866.5,113.3 L867.8,110.2 L869.5,107.3 L871.5,104.8 L873.5,103.1 L875.4,102.1 L877.1,102.0 M869.1,123.7 L868.2,122.3 L867.8,120.2 L868.1,117.5 L868.9,114.5 L870.2,111.4 L871.9,108.5 L873.9,106.1 L875.9,104.3 L877.8,103.3 L879.5,103.3 M871.5,124.9 L870.5,123.5 L870.2,121.4 L870.4,118.7 L871.3,115.7 L872.6,112.6 L874.3,109.7 L876.3,107.3 L878.3,105.5 L880.2,104.5 L881.9,104.5 M873.9,126.1 L872.9,124.8 L872.6,122.6 L872.8,120.0 L873.7,116.9 L875.0,113.8 L876.7,110.9 L878.7,108.5 L880.7,106.7 L882.6,105.8 L884.3,105.7 M876.2,127.3 L875.3,126.0 L875.0,123.9 L875.2,121.2 L876.0,118.2 L877.4,115.1 L879.1,112.2 L881.1,109.7 L883.1,107.9 L885.0,107.0 L886.6,106.9 M878.6,128.6 L877.7,127.2 L877.4,125.1 L877.6,122.4 L878.4,119.4 L879.8,116.3 L881.5,113.4 L883.4,110.9 L885.5,109.2 L887.4,108.2 L889.0,108.2 M881.0,129.8 L880.1,128.4 L879.8,126.3 L880.0,123.6 L880.8,120.6 L882.2,117.5 L883.9,114.6 L885.8,112.2 L887.9,110.4 L889.8,109.4 L891.4,109.4 " stroke="#bbb" stroke-width=".6" fill="none"/><ellipse class="k" cx="867.5" cy="110" rx="5" ry="11.5" transform="rotate(27 867.5 110)" /><clipPath id="hacc12"><path d="M876.6,129.7 L876.7,127.6 L877.0,125.3 L877.4,123.1 L878.0,120.9 L878.7,118.7 L879.6,116.5 L880.6,114.4 L881.7,112.3 L883.0,110.3 L884.3,108.4 L885.8,106.7 L887.3,105.0 L889.0,103.5 L890.7,102.1 L892.4,100.9 L894.2,99.9 L896.0,99.0 L897.8,98.3 L899.6,97.8 L901.5,97.5 L903.2,97.4 L905.0,97.5 L906.6,97.8 L908.2,98.3 L909.8,98.9 L912.8,100.3 L914.2,101.2 L915.5,102.2 L916.7,103.4 L917.8,104.7 L918.8,106.2 L919.6,107.9 L920.2,109.6 L920.8,111.5 L921.1,113.5 L921.4,115.5 L921.4,117.7 L921.3,119.8 L921.0,122.0 L920.6,124.3 L920.0,126.5 L919.3,128.7 L918.4,130.9 L917.4,133.0 L916.3,135.1 L915.0,137.1 L913.7,139.0 L912.2,140.7 L910.7,142.4 L909.0,143.9 L907.3,145.3 L905.6,146.5 L903.8,147.5 L902.0,148.4 L900.2,149.1 L898.4,149.6 L896.5,149.8 L894.8,150.0 L893.0,149.9 L891.4,149.6 L889.8,149.1 L888.2,148.5 L885.2,147.1 L883.8,146.2 L882.5,145.2 L881.3,144.0 L880.2,142.7 L879.2,141.2 L878.4,139.5 L877.8,137.8 L877.2,135.9 L876.9,133.9 L876.6,131.9Z"/></clipPath><path d="M876.6,129.7 L876.7,127.6 L877.0,125.3 L877.4,123.1 L878.0,120.9 L878.7,118.7 L879.6,116.5 L880.6,114.4 L881.7,112.3 L883.0,110.3 L884.3,108.4 L885.8,106.7 L887.3,105.0 L889.0,103.5 L890.7,102.1 L892.4,100.9 L894.2,99.9 L896.0,99.0 L897.8,98.3 L899.6,97.8 L901.5,97.5 L903.2,97.4 L905.0,97.5 L906.6,97.8 L908.2,98.3 L909.8,98.9 L912.8,100.3 L914.2,101.2 L915.5,102.2 L916.7,103.4 L917.8,104.7 L918.8,106.2 L919.6,107.9 L920.2,109.6 L920.8,111.5 L921.1,113.5 L921.4,115.5 L921.4,117.7 L921.3,119.8 L921.0,122.0 L920.6,124.3 L920.0,126.5 L919.3,128.7 L918.4,130.9 L917.4,133.0 L916.3,135.1 L915.0,137.1 L913.7,139.0 L912.2,140.7 L910.7,142.4 L909.0,143.9 L907.3,145.3 L905.6,146.5 L903.8,147.5 L902.0,148.4 L900.2,149.1 L898.4,149.6 L896.5,149.8 L894.8,150.0 L893.0,149.9 L891.4,149.6 L889.8,149.1 L888.2,148.5 L885.2,147.1 L883.8,146.2 L882.5,145.2 L881.3,144.0 L880.2,142.7 L879.2,141.2 L878.4,139.5 L877.8,137.8 L877.2,135.9 L876.9,133.9 L876.6,131.9Z" fill="#fff"/><g clip-path="url(#hacc12)"><path class="k" d="M883.8,146.2 L879.8,142.1 L877.3,136.3 L876.6,129.3 L877.7,121.8 L880.6,114.4 L884.9,107.7 L890.3,102.4 L896.4,98.9 L902.5,97.5 L908.2,98.3 L911.2,99.7 L905.5,98.9 L899.4,100.3 L893.3,103.8 L887.9,109.1 L883.6,115.8 L880.7,123.2 L879.6,130.7 L880.3,137.7 L882.8,143.5 L886.8,147.6Z"/><path class="w" d="M876.7,131.9 L876.6,131.4 L876.6,131.0 L876.6,130.6 L876.6,130.2 L876.6,129.7 L876.6,129.3 L876.6,128.9 L876.6,128.4 L876.7,128.0 L876.7,127.6 L879.7,129.0 L879.7,129.4 L879.6,129.8 L879.6,130.3 L879.6,130.7 L879.6,131.1 L879.6,131.6 L879.6,132.0 L879.6,132.4 L879.6,132.8 L879.7,133.3Z"/><path class="w" d="M885.8,106.7 L886.2,106.2 L886.7,105.7 L887.2,105.2 L887.7,104.7 L888.1,104.2 L888.6,103.8 L889.1,103.4 L889.6,102.9 L890.1,102.5 L890.7,102.1 L893.7,103.5 L893.1,103.9 L892.6,104.3 L892.1,104.8 L891.6,105.2 L891.1,105.6 L890.7,106.1 L890.2,106.6 L889.7,107.1 L889.2,107.6 L888.8,108.1Z"/></g><path class="l" d="M876.6,129.7 L876.7,127.6 L877.0,125.3 L877.4,123.1 L878.0,120.9 L878.7,118.7 L879.6,116.5 L880.6,114.4 L881.7,112.3 L883.0,110.3 L884.3,108.4 L885.8,106.7 L887.3,105.0 L889.0,103.5 L890.7,102.1 L892.4,100.9 L894.2,99.9 L896.0,99.0 L897.8,98.3 L899.6,97.8 L901.5,97.5 L903.2,97.4 L905.0,97.5 L906.6,97.8 L908.2,98.3 L909.8,98.9 L912.8,100.3 L914.2,101.2 L915.5,102.2 L916.7,103.4 L917.8,104.7 L918.8,106.2 L919.6,107.9 L920.2,109.6 L920.8,111.5 L921.1,113.5 L921.4,115.5 L921.4,117.7 L921.3,119.8 L921.0,122.0 L920.6,124.3 L920.0,126.5 L919.3,128.7 L918.4,130.9 L917.4,133.0 L916.3,135.1 L915.0,137.1 L913.7,139.0 L912.2,140.7 L910.7,142.4 L909.0,143.9 L907.3,145.3 L905.6,146.5 L903.8,147.5 L902.0,148.4 L900.2,149.1 L898.4,149.6 L896.5,149.8 L894.8,150.0 L893.0,149.9 L891.4,149.6 L889.8,149.1 L888.2,148.5 L885.2,147.1 L883.8,146.2 L882.5,145.2 L881.3,144.0 L880.2,142.7 L879.2,141.2 L878.4,139.5 L877.8,137.8 L877.2,135.9 L876.9,133.9 L876.6,131.9Z"/><ellipse class="o" cx="900.5" cy="124.4" rx="19" ry="27" transform="rotate(27 900.5 124.4)" /><clipPath id="hacc13"><path d="M889.3,133.2 L889.4,131.8 L889.5,130.5 L889.8,129.1 L890.2,127.8 L890.6,126.4 L891.1,125.1 L891.8,123.8 L892.5,122.5 L893.2,121.3 L894.0,120.2 L894.9,119.1 L895.9,118.1 L896.9,117.1 L897.9,116.3 L899.0,115.5 L900.0,114.9 L901.1,114.4 L902.3,114.0 L903.4,113.7 L904.5,113.5 L905.5,113.4 L906.6,113.5 L907.6,113.6 L922.5,116.7 L923.4,117.0 L924.3,117.3 L925.0,117.8 L925.8,118.4 L926.4,119.1 L927.0,119.8 L927.5,120.7 L928.0,121.6 L928.3,122.7 L928.6,123.7 L928.8,124.9 L928.8,126.1 L928.8,127.3 L928.7,128.6 L928.5,129.9 L928.3,131.2 L927.9,132.5 L927.5,133.8 L927.0,135.1 L926.4,136.4 L925.7,137.6 L925.0,138.8 L924.2,139.9 L923.3,141.0 L922.4,141.9 L921.5,142.9 L920.5,143.7 L919.5,144.4 L918.5,145.1 L917.5,145.6 L916.4,146.0 L915.4,146.3 L914.4,146.5 L913.4,146.6 L912.4,146.6 L897.4,144.6 L896.4,144.4 L895.4,144.1 L894.5,143.7 L893.6,143.2 L892.8,142.6 L892.1,141.8 L891.5,141.0 L890.9,140.1 L890.4,139.1 L890.0,138.1 L889.7,136.9 L889.5,135.7 L889.3,134.4Z"/></clipPath><path d="M889.3,133.2 L889.4,131.8 L889.5,130.5 L889.8,129.1 L890.2,127.8 L890.6,126.4 L891.1,125.1 L891.8,123.8 L892.5,122.5 L893.2,121.3 L894.0,120.2 L894.9,119.1 L895.9,118.1 L896.9,117.1 L897.9,116.3 L899.0,115.5 L900.0,114.9 L901.1,114.4 L902.3,114.0 L903.4,113.7 L904.5,113.5 L905.5,113.4 L906.6,113.5 L907.6,113.6 L922.5,116.7 L923.4,117.0 L924.3,117.3 L925.0,117.8 L925.8,118.4 L926.4,119.1 L927.0,119.8 L927.5,120.7 L928.0,121.6 L928.3,122.7 L928.6,123.7 L928.8,124.9 L928.8,126.1 L928.8,127.3 L928.7,128.6 L928.5,129.9 L928.3,131.2 L927.9,132.5 L927.5,133.8 L927.0,135.1 L926.4,136.4 L925.7,137.6 L925.0,138.8 L924.2,139.9 L923.3,141.0 L922.4,141.9 L921.5,142.9 L920.5,143.7 L919.5,144.4 L918.5,145.1 L917.5,145.6 L916.4,146.0 L915.4,146.3 L914.4,146.5 L913.4,146.6 L912.4,146.6 L897.4,144.6 L896.4,144.4 L895.4,144.1 L894.5,143.7 L893.6,143.2 L892.8,142.6 L892.1,141.8 L891.5,141.0 L890.9,140.1 L890.4,139.1 L890.0,138.1 L889.7,136.9 L889.5,135.7 L889.3,134.4Z" fill="#fff"/><g clip-path="url(#hacc13)"><path class="k" d="M892.8,142.6 L891.9,141.6 L891.1,140.5 L890.4,139.2 L889.9,137.8 L889.6,136.3 L889.4,134.7 L889.3,133.0 L889.4,131.3 L889.7,129.5 L890.2,127.8 L906.1,130.7 L905.6,132.4 L905.3,134.1 L905.2,135.7 L905.2,137.4 L905.3,138.9 L905.6,140.3 L906.1,141.7 L906.7,142.9 L907.4,143.9 L908.2,144.8Z"/><path class="w" d="M889.8,137.4 L889.8,137.2 L889.7,137.1 L889.7,137.0 L889.7,136.8 L889.6,136.7 L889.6,136.5 L889.6,136.4 L889.5,136.2 L889.5,136.1 L889.5,135.9 L905.3,138.5 L905.3,138.7 L905.3,138.8 L905.3,139.0 L905.4,139.1 L905.4,139.2 L905.4,139.4 L905.4,139.5 L905.5,139.6 L905.5,139.8 L905.5,139.9Z"/></g><path class="l" d="M889.3,133.2 L889.4,131.8 L889.5,130.5 L889.8,129.1 L890.2,127.8 L890.6,126.4 L891.1,125.1 L891.8,123.8 L892.5,122.5 L893.2,121.3 L894.0,120.2 L894.9,119.1 L895.9,118.1 L896.9,117.1 L897.9,116.3 L899.0,115.5 L900.0,114.9 L901.1,114.4 L902.3,114.0 L903.4,113.7 L904.5,113.5 L905.5,113.4 L906.6,113.5 L907.6,113.6 L922.5,116.7 L923.4,117.0 L924.3,117.3 L925.0,117.8 L925.8,118.4 L926.4,119.1 L927.0,119.8 L927.5,120.7 L928.0,121.6 L928.3,122.7 L928.6,123.7 L928.8,124.9 L928.8,126.1 L928.8,127.3 L928.7,128.6 L928.5,129.9 L928.3,131.2 L927.9,132.5 L927.5,133.8 L927.0,135.1 L926.4,136.4 L925.7,137.6 L925.0,138.8 L924.2,139.9 L923.3,141.0 L922.4,141.9 L921.5,142.9 L920.5,143.7 L919.5,144.4 L918.5,145.1 L917.5,145.6 L916.4,146.0 L915.4,146.3 L914.4,146.5 L913.4,146.6 L912.4,146.6 L897.4,144.6 L896.4,144.4 L895.4,144.1 L894.5,143.7 L893.6,143.2 L892.8,142.6 L892.1,141.8 L891.5,141.0 L890.9,140.1 L890.4,139.1 L890.0,138.1 L889.7,136.9 L889.5,135.7 L889.3,134.4Z"/><ellipse class="o" cx="917" cy="131.6" rx="10.5" ry="16" transform="rotate(27 917 131.6)" /><path class="k" d="M923.4,135.3 L923.0,135.8 L922.4,136.3 L921.8,136.6 L921.2,136.9 L920.7,137.2 L920.4,137.7 L920.1,138.3 L919.8,139.0 L919.5,139.8 L919.1,140.4 L918.6,140.8 L918.0,141.0 L917.5,140.8 L917.0,140.6 L916.5,140.4 L916.1,140.4 L915.6,140.6 L915.1,141.1 L914.5,141.6 L914.0,142.0 L913.4,142.1 L913.0,142.0 L912.6,141.5 L912.5,140.9 L912.3,140.3 L912.2,139.7 L911.9,139.4 L911.5,139.3 L910.9,139.3 L910.3,139.3 L909.8,139.2 L909.5,138.8 L909.4,138.2 L909.6,137.4 L909.8,136.6 L910.1,135.9 L910.2,135.3 L910.2,134.8 L910.0,134.3 L909.6,133.9 L909.4,133.3 L909.2,132.7 L909.4,132.0 L909.7,131.4 L910.2,130.8 L910.8,130.3 L911.3,129.8 L911.6,129.3 L911.8,128.7 L911.9,128.0 L912.0,127.2 L912.2,126.5 L912.5,125.8 L913.0,125.3 L913.6,125.0 L914.2,125.0 L914.8,124.9 L915.3,124.8 L915.7,124.6 L916.1,124.1 L916.5,123.5 L917.0,122.8 L917.5,122.2 L918.1,122.0 L918.6,122.0 L919.0,122.3 L919.4,122.8 L919.7,123.2 L920.0,123.5 L920.4,123.5 L920.9,123.4 L921.5,123.1 L922.2,122.9 L922.7,122.9 L923.1,123.1 L923.3,123.7 L923.3,124.4 L923.2,125.2 L923.2,125.8 L923.3,126.3 L923.5,126.7 L923.9,126.9 L924.4,127.2 L924.8,127.6 L925.1,128.1 L925.0,128.7 L924.8,129.4 L924.4,130.1 L923.9,130.8 L923.6,131.4 L923.4,132.0 L923.4,132.6 L923.5,133.2 L923.6,133.9 L923.6,134.6Z"/></g><g id="ring52"><clipPath id="hacc14"><path d="M931.7,164.1 L931.9,161.3 L932.3,158.5 L932.9,155.7 L933.6,152.9 L934.6,150.1 L935.7,147.3 L937.0,144.6 L938.5,141.9 L940.0,139.4 L941.8,137.0 L943.6,134.7 L945.5,132.6 L947.6,130.6 L949.7,128.8 L951.9,127.2 L954.1,125.9 L956.3,124.7 L958.6,123.8 L960.8,123.2 L963.0,122.7 L965.2,122.5 L967.3,122.6 L969.4,122.9 L971.3,123.5 L976.0,125.5 L977.9,126.3 L979.6,127.3 L981.2,128.5 L982.6,130.0 L983.9,131.7 L985.1,133.6 L986.0,135.6 L986.8,137.8 L987.4,140.2 L987.8,142.7 L988.0,145.2 L988.0,147.9 L987.8,150.7 L987.4,153.5 L986.8,156.3 L986.0,159.1 L985.1,161.9 L984.0,164.7 L982.7,167.4 L981.2,170.1 L979.7,172.6 L977.9,175.0 L976.1,177.3 L974.1,179.4 L972.1,181.4 L970.0,183.2 L967.8,184.8 L965.6,186.1 L963.4,187.3 L961.1,188.2 L958.9,188.8 L956.7,189.3 L954.5,189.5 L952.4,189.4 L950.3,189.1 L948.4,188.5 L943.7,186.5 L941.8,185.7 L940.1,184.7 L938.5,183.5 L937.1,182.0 L935.8,180.3 L934.6,178.4 L933.7,176.4 L932.9,174.2 L932.3,171.8 L931.9,169.3 L931.7,166.8Z"/></clipPath><path d="M931.7,164.1 L931.9,161.3 L932.3,158.5 L932.9,155.7 L933.6,152.9 L934.6,150.1 L935.7,147.3 L937.0,144.6 L938.5,141.9 L940.0,139.4 L941.8,137.0 L943.6,134.7 L945.5,132.6 L947.6,130.6 L949.7,128.8 L951.9,127.2 L954.1,125.9 L956.3,124.7 L958.6,123.8 L960.8,123.2 L963.0,122.7 L965.2,122.5 L967.3,122.6 L969.4,122.9 L971.3,123.5 L976.0,125.5 L977.9,126.3 L979.6,127.3 L981.2,128.5 L982.6,130.0 L983.9,131.7 L985.1,133.6 L986.0,135.6 L986.8,137.8 L987.4,140.2 L987.8,142.7 L988.0,145.2 L988.0,147.9 L987.8,150.7 L987.4,153.5 L986.8,156.3 L986.0,159.1 L985.1,161.9 L984.0,164.7 L982.7,167.4 L981.2,170.1 L979.7,172.6 L977.9,175.0 L976.1,177.3 L974.1,179.4 L972.1,181.4 L970.0,183.2 L967.8,184.8 L965.6,186.1 L963.4,187.3 L961.1,188.2 L958.9,188.8 L956.7,189.3 L954.5,189.5 L952.4,189.4 L950.3,189.1 L948.4,188.5 L943.7,186.5 L941.8,185.7 L940.1,184.7 L938.5,183.5 L937.1,182.0 L935.8,180.3 L934.6,178.4 L933.7,176.4 L932.9,174.2 L932.3,171.8 L931.9,169.3 L931.7,166.8Z" fill="#fff"/><g clip-path="url(#hacc14)"><path class="k" d="M940.1,184.7 L936.9,181.8 L934.4,178.1 L932.7,173.5 L931.8,168.3 L931.8,162.7 L932.6,156.8 L934.3,150.9 L936.7,145.1 L939.9,139.6 L943.6,134.7 L948.3,136.7 L944.6,141.6 L941.4,147.1 L939.0,152.9 L937.3,158.8 L936.5,164.7 L936.5,170.3 L937.4,175.5 L939.1,180.1 L941.6,183.8 L944.8,186.7Z"/><path class="w" d="M931.9,161.3 L932.0,160.9 L932.0,160.4 L932.1,160.0 L932.1,159.5 L932.2,159.1 L932.3,158.6 L932.4,158.2 L932.5,157.7 L932.5,157.3 L932.6,156.8 L937.3,158.8 L937.2,159.3 L937.2,159.7 L937.1,160.2 L937.0,160.6 L936.9,161.1 L936.8,161.5 L936.8,162.0 L936.7,162.4 L936.7,162.9 L936.6,163.3Z"/></g><path class="l" d="M931.7,164.1 L931.9,161.3 L932.3,158.5 L932.9,155.7 L933.6,152.9 L934.6,150.1 L935.7,147.3 L937.0,144.6 L938.5,141.9 L940.0,139.4 L941.8,137.0 L943.6,134.7 L945.5,132.6 L947.6,130.6 L949.7,128.8 L951.9,127.2 L954.1,125.9 L956.3,124.7 L958.6,123.8 L960.8,123.2 L963.0,122.7 L965.2,122.5 L967.3,122.6 L969.4,122.9 L971.3,123.5 L976.0,125.5 L977.9,126.3 L979.6,127.3 L981.2,128.5 L982.6,130.0 L983.9,131.7 L985.1,133.6 L986.0,135.6 L986.8,137.8 L987.4,140.2 L987.8,142.7 L988.0,145.2 L988.0,147.9 L987.8,150.7 L987.4,153.5 L986.8,156.3 L986.0,159.1 L985.1,161.9 L984.0,164.7 L982.7,167.4 L981.2,170.1 L979.7,172.6 L977.9,175.0 L976.1,177.3 L974.1,179.4 L972.1,181.4 L970.0,183.2 L967.8,184.8 L965.6,186.1 L963.4,187.3 L961.1,188.2 L958.9,188.8 L956.7,189.3 L954.5,189.5 L952.4,189.4 L950.3,189.1 L948.4,188.5 L943.7,186.5 L941.8,185.7 L940.1,184.7 L938.5,183.5 L937.1,182.0 L935.8,180.3 L934.6,178.4 L933.7,176.4 L932.9,174.2 L932.3,171.8 L931.9,169.3 L931.7,166.8Z"/><ellipse class="o" cx="962.2" cy="157" rx="23" ry="34.5" transform="rotate(27 962.2 157)" /><ellipse class="k" cx="965.3" cy="158.3" rx="11.5" ry="18.5" transform="rotate(27 965.3 158.3)" /><ellipse class="w" cx="961.6" cy="161" rx="7" ry="13.5" transform="rotate(27 961.6 161)" /><ellipse class="k" cx="960" cy="131.6" rx="3.4" ry="2.3" transform="rotate(10 960 131.6)" /><ellipse class="o" cx="961.6" cy="116.2" rx="4" ry="3.3" transform="rotate(0 961.6 116.2)" style="stroke:#444;stroke-width:.8"/><path d="M957.5,91 C957.5,88 967,88 967,91 L967,101 C967,104 957.5,104 957.5,101Z" fill="#222" stroke="#000" stroke-width=".8"/><path d="M959,92 V102 M961,91 V103 M963.2,91 V103 M965.3,92 V102" stroke="#999" stroke-width=".6"/></g>
<g id="plug55" stroke-linejoin="round"><clipPath id="plugthr"><path d="M897.8,258.5 L891.6,257.7 L880.0,263.0 L871.0,271.7 L863.0,283.0 L856.7,296.3 L851.5,308.0 L848.9,316.9 L848.0,327.0 L850.5,341.5 L854.5,349.0 L860.8,353.9 L870.0,358.0 L881.3,360.0 L883.4,359.0 L877.0,351.0 L874.0,343.5 L871.0,327.0 L871.5,316.0 L873.0,306.6 L876.5,296.0 L881.3,286.0 L888.0,273.0 L897.8,260.4Z"/></clipPath><path class="k" d="M897.8,258.5 L891.6,257.7 L880.0,263.0 L871.0,271.7 L863.0,283.0 L856.7,296.3 L851.5,308.0 L848.9,316.9 L848.0,327.0 L850.5,341.5 L854.5,349.0 L860.8,353.9 L870.0,358.0 L881.3,360.0 L883.4,359.0 L877.0,351.0 L874.0,343.5 L871.0,327.0 L871.5,316.0 L873.0,306.6 L876.5,296.0 L881.3,286.0 L888.0,273.0 L897.8,260.4Z"/><path d="M880.4,357.7 L874.0,349.7 L871.0,342.2 L868.0,325.7 L868.5,314.7 L870.0,305.3 L873.5,294.7 L878.3,284.7 L885.0,271.7 L894.8,259.1 M877.4,356.4 L871.0,348.4 L868.0,340.9 L865.0,324.4 L865.5,313.4 L867.0,304.0 L870.5,293.4 L875.3,283.4 L882.0,270.4 L891.8,257.8 M874.4,355.1 L868.0,347.1 L865.0,339.6 L862.0,323.1 L862.5,312.1 L864.0,302.7 L867.5,292.1 L872.3,282.1 L879.0,269.1 L888.8,256.5 M871.4,353.8 L865.0,345.8 L862.0,338.3 L859.0,321.8 L859.5,310.8 L861.0,301.4 L864.5,290.8 L869.3,280.8 L876.0,267.8 L885.8,255.2 M868.4,352.5 L862.0,344.5 L859.0,337.0 L856.0,320.5 L856.5,309.5 L858.0,300.1 L861.5,289.5 L866.3,279.5 L873.0,266.5 L882.8,253.9 M865.4,351.2 L859.0,343.2 L856.0,335.7 L853.0,319.2 L853.5,308.2 L855.0,298.8 L858.5,288.2 L863.3,278.2 L870.0,265.2 L879.8,252.6 M862.4,349.9 L856.0,341.9 L853.0,334.4 L850.0,317.9 L850.5,306.9 L852.0,297.5 L855.5,286.9 L860.3,276.9 L867.0,263.9 L876.8,251.3 M859.4,348.6 L853.0,340.6 L850.0,333.1 L847.0,316.6 L847.5,305.6 L849.0,296.2 L852.5,285.6 L857.3,275.6 L864.0,262.6 L873.8,250.0 " stroke="#fff" stroke-width="1.25" fill="none" clip-path="url(#plugthr)"/><clipPath id="plugup"><path d="M840,250 H905 V300 H840Z"/></clipPath><g clip-path="url(#plugup)"><path d="M881.6,358.2 L875.2,350.2 L872.2,342.7 L869.2,326.2 L869.7,315.2 L871.2,305.8 L874.7,295.2 L879.5,285.2 L886.2,272.2 L896.0,259.6 M878.6,356.9 L872.2,348.9 L869.2,341.4 L866.2,324.9 L866.7,313.9 L868.2,304.5 L871.7,293.9 L876.5,283.9 L883.2,270.9 L893.0,258.3 M875.6,355.6 L869.2,347.6 L866.2,340.1 L863.2,323.6 L863.7,312.6 L865.2,303.2 L868.7,292.6 L873.5,282.6 L880.2,269.6 L890.0,257.0 M872.6,354.3 L866.2,346.3 L863.2,338.8 L860.2,322.3 L860.7,311.3 L862.2,301.9 L865.7,291.3 L870.5,281.3 L877.2,268.3 L887.0,255.7 M869.6,353.0 L863.2,345.0 L860.2,337.5 L857.2,321.0 L857.7,310.0 L859.2,300.6 L862.7,290.0 L867.5,280.0 L874.2,267.0 L884.0,254.4 M866.6,351.7 L860.2,343.7 L857.2,336.2 L854.2,319.7 L854.7,308.7 L856.2,299.3 L859.7,288.7 L864.5,278.7 L871.2,265.7 L881.0,253.1 M863.6,350.4 L857.2,342.4 L854.2,334.9 L851.2,318.4 L851.7,307.4 L853.2,298.0 L856.7,287.4 L861.5,277.4 L868.2,264.4 L878.0,251.8 M860.6,349.1 L854.2,341.1 L851.2,333.6 L848.2,317.1 L848.7,306.1 L850.2,296.7 L853.7,286.1 L858.5,276.1 L865.2,263.1 L875.0,250.5 " stroke="#fff" stroke-width="1.1" fill="none" clip-path="url(#plugthr)"/></g><path class="l" d="M897.8,258.5 L891.6,257.7 L880.0,263.0 L871.0,271.7 L863.0,283.0 L856.7,296.3 L851.5,308.0 L848.9,316.9 L848.0,327.0 L850.5,341.5 L854.5,349.0 L860.8,353.9 L870.0,358.0 L881.3,360.0"/><path class="o" d="M883.4,359.0 L877.0,351.0 L874.0,343.5 L871.0,327.0 L871.5,316.0 L873.0,306.6 L876.5,296.0 L881.3,286.0 L888.0,273.0 L897.8,260.4 L905.8,262.9 L896.0,275.5 L889.3,288.5 L884.5,298.5 L881.0,309.1 L879.5,318.5 L879.0,329.5 L882.0,346.0 L885.0,353.5 L891.4,361.5Z"/><path class="t" d="M887.4,360.2 L881.0,352.2 L878.0,344.7 L875.0,328.2 L875.5,317.2 L877.0,307.8 L880.5,297.2 L885.3,287.2 L892.0,274.2 L901.8,261.6"/><path class="o" d="M897.8,260.4 L924.5,271.7 L936.8,277.9 L918,274 L905,283 L889,306 L880,327 L884,345 L892,362 L891,361.5 L883.4,359 C878,350 876,335 879,318 C882,300 890,280 897.8,260.4Z"/><path class="k" d="M906,283 L918.3,273.8 L936.8,277.9 L953.2,288 L922.4,294.3 L902,285.5Z"/><path class="k" d="M900.9,289 L920.4,296.3 L911,329 L897.8,335.4 L880.3,327 L889.6,306.6Z"/><path class="k" d="M880.3,331 L897.8,338.4 L908,351.8 L909,370 L891.6,362 L884,352Z"/><path class="o" d="M921.4,295 L953.2,287 C960,292 965,300 965.6,306.6 C967,325 962,345 955.3,360 C945,368 930,372 916.3,372.3 L909,370 L908,351.8 L898.8,337.4 L911,329Z"/></g>
<g id="bolt56"><ellipse class="k" cx="685.5" cy="276.5" rx="10.5" ry="14.5" transform="rotate(18 685.5 276.5)" /><ellipse class="w" cx="687" cy="277" rx="8.2" ry="12.2" transform="rotate(18 687 277)" /><ellipse class="k" cx="688.2" cy="277.2" rx="6.8" ry="10" transform="rotate(18 688.2 277.2)" /><ellipse class="w" cx="689" cy="277.5" rx="4.3" ry="7.2" transform="rotate(18 689 277.5)" /><path class="w" d="M676,270.5 L684,272.5 L684,274 L676,272Z"/><clipPath id="h57501"><path d="M705.9,296.5 L705.9,295.9 L705.9,295.3 L706.0,294.6 L706.1,293.9 L706.3,293.3 L706.4,292.6 L706.6,291.9 L706.9,291.1 L707.2,290.4 L707.5,289.8 L707.8,289.1 L708.1,288.4 L708.5,287.8 L708.8,287.2 L709.2,286.6 L709.6,286.1 L710.0,285.6 L710.4,285.2 L710.8,284.8 L711.2,284.5 L711.6,284.2 L712.0,284.0 L712.4,283.9 L712.8,283.8 L713.1,283.7 L713.4,283.7 L713.7,283.8 L737.2,295.0 L737.5,295.2 L737.8,295.4 L738.0,295.6 L738.2,296.0 L738.3,296.3 L738.5,296.8 L738.5,297.2 L738.6,297.8 L738.6,298.3 L738.6,298.9 L738.6,299.5 L738.5,300.2 L738.4,300.9 L738.2,301.5 L738.1,302.2 L737.9,302.9 L737.6,303.6 L737.3,304.4 L737.0,305.0 L736.7,305.7 L736.4,306.4 L736.0,307.0 L735.7,307.6 L735.3,308.1 L734.9,308.7 L734.5,309.2 L734.1,309.6 L733.7,310.0 L733.3,310.3 L732.9,310.6 L732.5,310.8 L732.1,310.9 L731.8,311.1 L731.4,311.1 L731.1,311.1 L730.8,311.0 L707.3,299.8 L707.0,299.6 L706.8,299.4 L706.5,299.1 L706.3,298.8 L706.2,298.5 L706.0,298.0 L706.0,297.6 L705.9,297.0Z"/></clipPath><path d="M705.9,296.5 L705.9,295.9 L705.9,295.3 L706.0,294.6 L706.1,293.9 L706.3,293.3 L706.4,292.6 L706.6,291.9 L706.9,291.1 L707.2,290.4 L707.5,289.8 L707.8,289.1 L708.1,288.4 L708.5,287.8 L708.8,287.2 L709.2,286.6 L709.6,286.1 L710.0,285.6 L710.4,285.2 L710.8,284.8 L711.2,284.5 L711.6,284.2 L712.0,284.0 L712.4,283.9 L712.8,283.8 L713.1,283.7 L713.4,283.7 L713.7,283.8 L737.2,295.0 L737.5,295.2 L737.8,295.4 L738.0,295.6 L738.2,296.0 L738.3,296.3 L738.5,296.8 L738.5,297.2 L738.6,297.8 L738.6,298.3 L738.6,298.9 L738.6,299.5 L738.5,300.2 L738.4,300.9 L738.2,301.5 L738.1,302.2 L737.9,302.9 L737.6,303.6 L737.3,304.4 L737.0,305.0 L736.7,305.7 L736.4,306.4 L736.0,307.0 L735.7,307.6 L735.3,308.1 L734.9,308.7 L734.5,309.2 L734.1,309.6 L733.7,310.0 L733.3,310.3 L732.9,310.6 L732.5,310.8 L732.1,310.9 L731.8,311.1 L731.4,311.1 L731.1,311.1 L730.8,311.0 L707.3,299.8 L707.0,299.6 L706.8,299.4 L706.5,299.1 L706.3,298.8 L706.2,298.5 L706.0,298.0 L706.0,297.6 L705.9,297.0Z" fill="#111"/><g clip-path="url(#h57501)"></g><path class="l" d="M705.9,296.5 L705.9,295.9 L705.9,295.3 L706.0,294.6 L706.1,293.9 L706.3,293.3 L706.4,292.6 L706.6,291.9 L706.9,291.1 L707.2,290.4 L707.5,289.8 L707.8,289.1 L708.1,288.4 L708.5,287.8 L708.8,287.2 L709.2,286.6 L709.6,286.1 L710.0,285.6 L710.4,285.2 L710.8,284.8 L711.2,284.5 L711.6,284.2 L712.0,284.0 L712.4,283.9 L712.8,283.8 L713.1,283.7 L713.4,283.7 L713.7,283.8 L737.2,295.0 L737.5,295.2 L737.8,295.4 L738.0,295.6 L738.2,296.0 L738.3,296.3 L738.5,296.8 L738.5,297.2 L738.6,297.8 L738.6,298.3 L738.6,298.9 L738.6,299.5 L738.5,300.2 L738.4,300.9 L738.2,301.5 L738.1,302.2 L737.9,302.9 L737.6,303.6 L737.3,304.4 L737.0,305.0 L736.7,305.7 L736.4,306.4 L736.0,307.0 L735.7,307.6 L735.3,308.1 L734.9,308.7 L734.5,309.2 L734.1,309.6 L733.7,310.0 L733.3,310.3 L732.9,310.6 L732.5,310.8 L732.1,310.9 L731.8,311.1 L731.4,311.1 L731.1,311.1 L730.8,311.0 L707.3,299.8 L707.0,299.6 L706.8,299.4 L706.5,299.1 L706.3,298.8 L706.2,298.5 L706.0,298.0 L706.0,297.6 L705.9,297.0Z"/><path d="M709.0,298.9 L708.9,296.6 L709.5,293.8 L710.6,290.9 L712.0,288.3 L713.7,286.4 L715.2,285.6 L716.5,285.8 L717.2,287.2 M711.2,299.9 L711.1,297.6 L711.6,294.8 L712.7,291.9 L714.2,289.3 L715.8,287.4 L717.4,286.6 L718.6,286.9 L719.3,288.2 M713.3,300.9 L713.2,298.6 L713.7,295.8 L714.8,292.9 L716.3,290.3 L718.0,288.5 L719.5,287.6 L720.7,287.9 L721.5,289.3 M715.4,301.9 L715.3,299.7 L715.9,296.9 L717.0,293.9 L718.4,291.3 L720.1,289.5 L721.6,288.6 L722.9,288.9 L723.6,290.3 M717.6,302.9 L717.5,300.7 L718.0,297.9 L719.1,295.0 L720.6,292.4 L722.2,290.5 L723.8,289.6 L725.0,289.9 L725.7,291.3 M719.7,304.0 L719.6,301.7 L720.1,298.9 L721.2,296.0 L722.7,293.4 L724.4,291.5 L725.9,290.7 L727.1,290.9 L727.9,292.3 M721.8,305.0 L721.7,302.7 L722.3,299.9 L723.4,297.0 L724.9,294.4 L726.5,292.5 L728.1,291.7 L729.3,292.0 L730.0,293.3 M724.0,306.0 L723.9,303.7 L724.4,300.9 L725.5,298.0 L727.0,295.4 L728.6,293.6 L730.2,292.7 L731.4,293.0 L732.1,294.3 M726.1,307.0 L726.0,304.8 L726.6,301.9 L727.6,299.0 L729.1,296.4 L730.8,294.6 L732.3,293.7 L733.6,294.0 L734.3,295.4 " stroke="#ddd" stroke-width=".7" fill="none"/><path class="k" d="M729.8,297.4 L741.5,294.3 L742.5,296 L737,309 L739,319.8 L731,316.5 L729.5,310Z" stroke="#000" stroke-width="1"/><path class="o" style="stroke-width:1.3" d="M742,295.8 L751,298.6 L753.5,306.5 L748,317.3 L738.8,319.6 L736.6,309Z"/></g><g id="bolt64" transform="translate(37,317)"><ellipse class="k" cx="685.5" cy="276.5" rx="10.5" ry="14.5" transform="rotate(18 685.5 276.5)" /><ellipse class="w" cx="687" cy="277" rx="8.2" ry="12.2" transform="rotate(18 687 277)" /><ellipse class="k" cx="688.2" cy="277.2" rx="6.8" ry="10" transform="rotate(18 688.2 277.2)" /><ellipse class="w" cx="689" cy="277.5" rx="4.3" ry="7.2" transform="rotate(18 689 277.5)" /><path class="w" d="M676,270.5 L684,272.5 L684,274 L676,272Z"/><clipPath id="h57502"><path d="M705.9,296.5 L705.9,295.9 L705.9,295.3 L706.0,294.6 L706.1,293.9 L706.3,293.3 L706.4,292.6 L706.6,291.9 L706.9,291.1 L707.2,290.4 L707.5,289.8 L707.8,289.1 L708.1,288.4 L708.5,287.8 L708.8,287.2 L709.2,286.6 L709.6,286.1 L710.0,285.6 L710.4,285.2 L710.8,284.8 L711.2,284.5 L711.6,284.2 L712.0,284.0 L712.4,283.9 L712.8,283.8 L713.1,283.7 L713.4,283.7 L713.7,283.8 L737.2,295.0 L737.5,295.2 L737.8,295.4 L738.0,295.6 L738.2,296.0 L738.3,296.3 L738.5,296.8 L738.5,297.2 L738.6,297.8 L738.6,298.3 L738.6,298.9 L738.6,299.5 L738.5,300.2 L738.4,300.9 L738.2,301.5 L738.1,302.2 L737.9,302.9 L737.6,303.6 L737.3,304.4 L737.0,305.0 L736.7,305.7 L736.4,306.4 L736.0,307.0 L735.7,307.6 L735.3,308.1 L734.9,308.7 L734.5,309.2 L734.1,309.6 L733.7,310.0 L733.3,310.3 L732.9,310.6 L732.5,310.8 L732.1,310.9 L731.8,311.1 L731.4,311.1 L731.1,311.1 L730.8,311.0 L707.3,299.8 L707.0,299.6 L706.8,299.4 L706.5,299.1 L706.3,298.8 L706.2,298.5 L706.0,298.0 L706.0,297.6 L705.9,297.0Z"/></clipPath><path d="M705.9,296.5 L705.9,295.9 L705.9,295.3 L706.0,294.6 L706.1,293.9 L706.3,293.3 L706.4,292.6 L706.6,291.9 L706.9,291.1 L707.2,290.4 L707.5,289.8 L707.8,289.1 L708.1,288.4 L708.5,287.8 L708.8,287.2 L709.2,286.6 L709.6,286.1 L710.0,285.6 L710.4,285.2 L710.8,284.8 L711.2,284.5 L711.6,284.2 L712.0,284.0 L712.4,283.9 L712.8,283.8 L713.1,283.7 L713.4,283.7 L713.7,283.8 L737.2,295.0 L737.5,295.2 L737.8,295.4 L738.0,295.6 L738.2,296.0 L738.3,296.3 L738.5,296.8 L738.5,297.2 L738.6,297.8 L738.6,298.3 L738.6,298.9 L738.6,299.5 L738.5,300.2 L738.4,300.9 L738.2,301.5 L738.1,302.2 L737.9,302.9 L737.6,303.6 L737.3,304.4 L737.0,305.0 L736.7,305.7 L736.4,306.4 L736.0,307.0 L735.7,307.6 L735.3,308.1 L734.9,308.7 L734.5,309.2 L734.1,309.6 L733.7,310.0 L733.3,310.3 L732.9,310.6 L732.5,310.8 L732.1,310.9 L731.8,311.1 L731.4,311.1 L731.1,311.1 L730.8,311.0 L707.3,299.8 L707.0,299.6 L706.8,299.4 L706.5,299.1 L706.3,298.8 L706.2,298.5 L706.0,298.0 L706.0,297.6 L705.9,297.0Z" fill="#111"/><g clip-path="url(#h57502)"></g><path class="l" d="M705.9,296.5 L705.9,295.9 L705.9,295.3 L706.0,294.6 L706.1,293.9 L706.3,293.3 L706.4,292.6 L706.6,291.9 L706.9,291.1 L707.2,290.4 L707.5,289.8 L707.8,289.1 L708.1,288.4 L708.5,287.8 L708.8,287.2 L709.2,286.6 L709.6,286.1 L710.0,285.6 L710.4,285.2 L710.8,284.8 L711.2,284.5 L711.6,284.2 L712.0,284.0 L712.4,283.9 L712.8,283.8 L713.1,283.7 L713.4,283.7 L713.7,283.8 L737.2,295.0 L737.5,295.2 L737.8,295.4 L738.0,295.6 L738.2,296.0 L738.3,296.3 L738.5,296.8 L738.5,297.2 L738.6,297.8 L738.6,298.3 L738.6,298.9 L738.6,299.5 L738.5,300.2 L738.4,300.9 L738.2,301.5 L738.1,302.2 L737.9,302.9 L737.6,303.6 L737.3,304.4 L737.0,305.0 L736.7,305.7 L736.4,306.4 L736.0,307.0 L735.7,307.6 L735.3,308.1 L734.9,308.7 L734.5,309.2 L734.1,309.6 L733.7,310.0 L733.3,310.3 L732.9,310.6 L732.5,310.8 L732.1,310.9 L731.8,311.1 L731.4,311.1 L731.1,311.1 L730.8,311.0 L707.3,299.8 L707.0,299.6 L706.8,299.4 L706.5,299.1 L706.3,298.8 L706.2,298.5 L706.0,298.0 L706.0,297.6 L705.9,297.0Z"/><path d="M709.0,298.9 L708.9,296.6 L709.5,293.8 L710.6,290.9 L712.0,288.3 L713.7,286.4 L715.2,285.6 L716.5,285.8 L717.2,287.2 M711.2,299.9 L711.1,297.6 L711.6,294.8 L712.7,291.9 L714.2,289.3 L715.8,287.4 L717.4,286.6 L718.6,286.9 L719.3,288.2 M713.3,300.9 L713.2,298.6 L713.7,295.8 L714.8,292.9 L716.3,290.3 L718.0,288.5 L719.5,287.6 L720.7,287.9 L721.5,289.3 M715.4,301.9 L715.3,299.7 L715.9,296.9 L717.0,293.9 L718.4,291.3 L720.1,289.5 L721.6,288.6 L722.9,288.9 L723.6,290.3 M717.6,302.9 L717.5,300.7 L718.0,297.9 L719.1,295.0 L720.6,292.4 L722.2,290.5 L723.8,289.6 L725.0,289.9 L725.7,291.3 M719.7,304.0 L719.6,301.7 L720.1,298.9 L721.2,296.0 L722.7,293.4 L724.4,291.5 L725.9,290.7 L727.1,290.9 L727.9,292.3 M721.8,305.0 L721.7,302.7 L722.3,299.9 L723.4,297.0 L724.9,294.4 L726.5,292.5 L728.1,291.7 L729.3,292.0 L730.0,293.3 M724.0,306.0 L723.9,303.7 L724.4,300.9 L725.5,298.0 L727.0,295.4 L728.6,293.6 L730.2,292.7 L731.4,293.0 L732.1,294.3 M726.1,307.0 L726.0,304.8 L726.6,301.9 L727.6,299.0 L729.1,296.4 L730.8,294.6 L732.3,293.7 L733.6,294.0 L734.3,295.4 " stroke="#ddd" stroke-width=".7" fill="none"/><path class="k" d="M729.8,297.4 L741.5,294.3 L742.5,296 L737,309 L739,319.8 L731,316.5 L729.5,310Z" stroke="#000" stroke-width="1"/><path class="o" style="stroke-width:1.3" d="M742,295.8 L751,298.6 L753.5,306.5 L748,317.3 L738.8,319.6 L736.6,309Z"/></g>
<g id="ring3"><path fill="#fff" fill-rule="evenodd" d="M649.45,574.40 A65.5,114.5 28 1 0 756.95,372.20 A65.5,114.5 28 1 0 649.45,574.40Z M662.28,548.00 A49.5,84.6 28 1 0 741.72,398.60 A49.5,84.6 28 1 0 662.28,548.00Z"/><clipPath id="c5d0b5"><path clip-rule="evenodd" d="M-100,-100 H1200 V900 H-100Z M652.45,575.90 A65.5,114.5 28 1 0 759.95,373.70 A65.5,114.5 28 1 0 652.45,575.90Z"/></clipPath><path d="M649.45,574.40 A65.5,114.5 28 1 0 756.95,372.20 A65.5,114.5 28 1 0 649.45,574.40Z" fill="#000" clip-path="url(#c5d0b5)"/><clipPath id="c5d0b6"><path clip-rule="evenodd" d="M-100,-100 H1200 V900 H-100Z M659.28,546.50 A49.5,84.6 28 1 0 738.72,397.10 A49.5,84.6 28 1 0 659.28,546.50Z"/></clipPath><path d="M662.28,548.00 A49.5,84.6 28 1 0 741.72,398.60 A49.5,84.6 28 1 0 662.28,548.00Z" fill="#000" clip-path="url(#c5d0b6)"/><ellipse class="l" cx="703.2" cy="473.3" rx="65.5" ry="114.5" transform="rotate(28 703.2 473.3)" /><ellipse class="l" cx="702" cy="473.3" rx="49.5" ry="84.6" transform="rotate(28 702 473.3)" /><ellipse class="o" cx="701.7" cy="393.5" rx="5.5" ry="8.3" transform="rotate(28 701.7 393.5)" style="stroke-width:1.3"/><ellipse class="o" cx="769.6" cy="421" rx="5.5" ry="8.3" transform="rotate(28 769.6 421)" style="stroke-width:1.3"/><ellipse class="o" cx="759.7" cy="491.5" rx="5.5" ry="8.3" transform="rotate(28 759.7 491.5)" style="stroke-width:1.3"/><ellipse class="o" cx="707.2" cy="553" rx="5.5" ry="8.3" transform="rotate(28 707.2 553)" style="stroke-width:1.3"/><ellipse class="o" cx="644.8" cy="545.8" rx="5.5" ry="8.3" transform="rotate(28 644.8 545.8)" style="stroke-width:1.3"/><ellipse class="o" cx="644" cy="464" rx="5.5" ry="8.3" transform="rotate(28 644 464)" style="stroke-width:1.3"/><path d="M750.5,495.9h2.8v2.8h-2.8Z M739.1,514.7h2.8v2.8h-2.8Z M727.3,540.6h2.0v2.0h-2.0Z M721.5,535.9h2.0v2.0h-2.0Z M716.2,550.8h2.0v2.0h-2.0Z M697.3,563.2h2.0v2.0h-2.0Z M695.5,553.8h2.0v2.0h-2.0Z M681.9,558.1h2.0v2.0h-2.0Z M671.4,569.9h2.8v2.8h-2.8Z M674.2,558.8h2.0v2.0h-2.0Z M663.2,569.4h2.8v2.8h-2.8Z M661.7,556.2h2.8v2.8h-2.8Z M650.5,564.8h2.8v2.8h-2.8Z M655.7,553.2h2.8v2.8h-2.8Z M644.6,560.4h2.4v2.4h-2.4Z M631.8,537.9h2.0v2.0h-2.0Z M638.0,522.1h2.4v2.4h-2.4Z M628.8,520.3h2.4v2.4h-2.4Z M629.4,503.7h2.0v2.0h-2.0Z M638.5,491.7h2.4v2.4h-2.4Z M632.2,484.2h2.8v2.8h-2.8Z M640.4,482.0h2.4v2.4h-2.4Z M635.5,473.3h2.4v2.4h-2.4Z M645.0,450.3h2.0v2.0h-2.0Z M656.0,442.6h2.8v2.8h-2.8Z M664.0,429.8h2.8v2.8h-2.8Z M666.1,415.9h2.4v2.4h-2.4Z M671.7,419.8h2.8v2.8h-2.8Z M675.3,405.4h2.4v2.4h-2.4Z M683.4,407.8h2.4v2.4h-2.4Z M705.5,381.9h2.4v2.4h-2.4Z M711.2,389.8h2.0v2.0h-2.0Z M719.8,375.9h2.8v2.8h-2.8Z M718.5,387.1h2.4v2.4h-2.4Z M728.2,374.5h2.4v2.4h-2.4Z M732.2,385.5h2.8v2.8h-2.8Z M743.4,375.4h2.0v2.0h-2.0Z M739.6,387.1h2.0v2.0h-2.0Z M750.7,377.9h2.0v2.0h-2.0Z M750.1,392.1h2.4v2.4h-2.4Z M761.5,385.9h2.0v2.0h-2.0Z M756.9,399.0h2.8v2.8h-2.8Z M768.2,395.5h2.0v2.0h-2.0Z M762.9,410.5h2.8v2.8h-2.8Z M773.1,409.7h2.8v2.8h-2.8Z M767.0,438.4h2.4v2.4h-2.4Z M774.5,443.3h2.4v2.4h-2.4Z M766.5,447.0h2.0v2.0h-2.0Z M773.2,453.4h2.0v2.0h-2.0Z M762.5,465.3h2.8v2.8h-2.8Z M759.1,477.7h2.0v2.0h-2.0Z " fill="#222"/></g>
<g id="p61end" stroke-linejoin="round"><clipPath id="h3aa75"><path d="M682.9,481.6 L683.1,479.3 L683.4,476.9 L683.8,474.4 L684.5,471.9 L685.2,469.4 L686.1,466.9 L687.1,464.4 L688.3,462.0 L689.6,459.6 L691.0,457.3 L692.5,455.1 L694.1,453.0 L695.7,451.1 L697.5,449.3 L699.2,447.6 L701.0,446.1 L702.9,444.8 L704.7,443.7 L706.5,442.8 L708.4,442.1 L710.1,441.6 L711.9,441.3 L713.5,441.2 L715.1,441.4 L716.6,441.8 L718.1,442.4 L737.9,452.8 L739.1,453.6 L740.3,454.6 L741.4,455.8 L742.3,457.2 L743.1,458.7 L743.8,460.4 L744.3,462.3 L744.6,464.3 L744.8,466.4 L744.9,468.6 L744.7,470.9 L744.4,473.3 L744.0,475.7 L743.4,478.2 L742.6,480.6 L741.8,483.1 L740.7,485.6 L739.6,487.9 L738.3,490.3 L737.0,492.5 L735.5,494.7 L733.9,496.8 L732.3,498.7 L730.6,500.5 L728.8,502.1 L727.0,503.6 L725.2,504.8 L723.4,505.9 L721.6,506.8 L719.8,507.5 L718.0,508.0 L716.3,508.2 L714.7,508.3 L713.1,508.1 L711.6,507.8 L710.1,507.2 L689.9,497.6 L688.6,496.8 L687.4,495.8 L686.4,494.6 L685.4,493.2 L684.6,491.7 L684.0,489.9 L683.5,488.0 L683.1,486.0 L683.0,483.9Z"/></clipPath><path d="M682.9,481.6 L683.1,479.3 L683.4,476.9 L683.8,474.4 L684.5,471.9 L685.2,469.4 L686.1,466.9 L687.1,464.4 L688.3,462.0 L689.6,459.6 L691.0,457.3 L692.5,455.1 L694.1,453.0 L695.7,451.1 L697.5,449.3 L699.2,447.6 L701.0,446.1 L702.9,444.8 L704.7,443.7 L706.5,442.8 L708.4,442.1 L710.1,441.6 L711.9,441.3 L713.5,441.2 L715.1,441.4 L716.6,441.8 L718.1,442.4 L737.9,452.8 L739.1,453.6 L740.3,454.6 L741.4,455.8 L742.3,457.2 L743.1,458.7 L743.8,460.4 L744.3,462.3 L744.6,464.3 L744.8,466.4 L744.9,468.6 L744.7,470.9 L744.4,473.3 L744.0,475.7 L743.4,478.2 L742.6,480.6 L741.8,483.1 L740.7,485.6 L739.6,487.9 L738.3,490.3 L737.0,492.5 L735.5,494.7 L733.9,496.8 L732.3,498.7 L730.6,500.5 L728.8,502.1 L727.0,503.6 L725.2,504.8 L723.4,505.9 L721.6,506.8 L719.8,507.5 L718.0,508.0 L716.3,508.2 L714.7,508.3 L713.1,508.1 L711.6,507.8 L710.1,507.2 L689.9,497.6 L688.6,496.8 L687.4,495.8 L686.4,494.6 L685.4,493.2 L684.6,491.7 L684.0,489.9 L683.5,488.0 L683.1,486.0 L683.0,483.9Z" fill="#fff"/><g clip-path="url(#h3aa75)"><path class="k" d="M687.4,495.8 L686.0,494.1 L684.8,492.0 L683.9,489.6 L683.3,486.8 L683.0,483.9 L683.0,480.7 L683.3,477.4 L683.9,473.9 L684.9,470.4 L686.1,466.9 L706.2,476.9 L705.0,480.3 L704.1,483.8 L703.5,487.2 L703.2,490.5 L703.2,493.6 L703.5,496.5 L704.1,499.2 L705.0,501.6 L706.2,503.7 L707.7,505.4Z"/></g><path class="l" d="M682.9,481.6 L683.1,479.3 L683.4,476.9 L683.8,474.4 L684.5,471.9 L685.2,469.4 L686.1,466.9 L687.1,464.4 L688.3,462.0 L689.6,459.6 L691.0,457.3 L692.5,455.1 L694.1,453.0 L695.7,451.1 L697.5,449.3 L699.2,447.6 L701.0,446.1 L702.9,444.8 L704.7,443.7 L706.5,442.8 L708.4,442.1 L710.1,441.6 L711.9,441.3 L713.5,441.2 L715.1,441.4 L716.6,441.8 L718.1,442.4 L737.9,452.8 L739.1,453.6 L740.3,454.6 L741.4,455.8 L742.3,457.2 L743.1,458.7 L743.8,460.4 L744.3,462.3 L744.6,464.3 L744.8,466.4 L744.9,468.6 L744.7,470.9 L744.4,473.3 L744.0,475.7 L743.4,478.2 L742.6,480.6 L741.8,483.1 L740.7,485.6 L739.6,487.9 L738.3,490.3 L737.0,492.5 L735.5,494.7 L733.9,496.8 L732.3,498.7 L730.6,500.5 L728.8,502.1 L727.0,503.6 L725.2,504.8 L723.4,505.9 L721.6,506.8 L719.8,507.5 L718.0,508.0 L716.3,508.2 L714.7,508.3 L713.1,508.1 L711.6,507.8 L710.1,507.2 L689.9,497.6 L688.6,496.8 L687.4,495.8 L686.4,494.6 L685.4,493.2 L684.6,491.7 L684.0,489.9 L683.5,488.0 L683.1,486.0 L683.0,483.9Z"/><path d="M688.6,496.8 L686.2,494.4 L684.4,491.1 L683.3,487.1 L682.9,482.4 L683.3,477.3 L684.4,472.0 L686.2,466.6 L688.7,461.3 L691.7,456.3 L695.1,451.8 L698.8,448.0 L702.8,444.9 L706.7,442.7 L710.6,441.5 L714.2,441.3 L717.5,442.1 M691.1,498.1 L688.7,495.6 L686.9,492.4 L685.8,488.3 L685.4,483.7 L685.8,478.6 L686.9,473.3 L688.7,467.8 L691.2,462.5 L694.2,457.6 L697.6,453.1 L701.3,449.2 L705.3,446.1 L709.2,444.0 L713.1,442.7 L716.7,442.5 L720.0,443.4 M693.6,499.3 L691.2,496.9 L689.4,493.6 L688.3,489.6 L687.9,484.9 L688.3,479.8 L689.4,474.5 L691.2,469.1 L693.7,463.8 L696.7,458.8 L700.1,454.3 L703.8,450.5 L707.8,447.4 L711.7,445.2 L715.6,444.0 L719.2,443.8 L722.5,444.6 M696.1,500.6 L693.7,498.1 L691.9,494.9 L690.8,490.8 L690.4,486.2 L690.8,481.1 L691.9,475.8 L693.7,470.3 L696.2,465.0 L699.2,460.1 L702.6,455.6 L706.3,451.7 L710.3,448.6 L714.2,446.5 L718.1,445.2 L721.7,445.0 L725.0,445.9 M698.6,501.8 L696.2,499.4 L694.4,496.1 L693.3,492.1 L692.9,487.4 L693.3,482.3 L694.4,477.0 L696.2,471.6 L698.7,466.3 L701.7,461.3 L705.1,456.8 L708.8,453.0 L712.8,449.9 L716.7,447.7 L720.6,446.5 L724.2,446.3 L727.5,447.1 M701.1,503.1 L698.7,500.6 L696.9,497.4 L695.8,493.3 L695.4,488.7 L695.8,483.6 L696.9,478.3 L698.7,472.8 L701.2,467.5 L704.2,462.6 L707.6,458.1 L711.3,454.2 L715.3,451.1 L719.2,449.0 L723.1,447.7 L726.7,447.5 L730.0,448.4 M703.6,504.3 L701.2,501.9 L699.4,498.6 L698.3,494.6 L697.9,489.9 L698.3,484.8 L699.4,479.5 L701.2,474.1 L703.7,468.8 L706.7,463.8 L710.1,459.3 L713.8,455.5 L717.8,452.4 L721.7,450.2 L725.6,449.0 L729.2,448.8 L732.5,449.6 M706.1,505.6 L703.7,503.1 L701.9,499.9 L700.8,495.8 L700.4,491.2 L700.8,486.1 L701.9,480.8 L703.7,475.3 L706.2,470.0 L709.2,465.1 L712.6,460.6 L716.3,456.7 L720.3,453.6 L724.2,451.5 L728.1,450.2 L731.7,450.0 L735.0,450.9 M708.6,506.8 L706.2,504.4 L704.4,501.1 L703.3,497.1 L702.9,492.4 L703.3,487.3 L704.4,482.0 L706.2,476.6 L708.7,471.3 L711.7,466.3 L715.1,461.8 L718.8,458.0 L722.8,454.9 L726.7,452.7 L730.6,451.5 L734.2,451.3 L737.5,452.1 " stroke="#000" stroke-width="1.3" fill="none"/><path d="M688.7,496.4 L687.0,494.4 L685.7,491.9 L684.8,488.9 L684.3,485.6 L684.2,482.0 L684.5,478.1 L685.3,474.1 L686.5,470.1 M691.2,497.7 L689.5,495.6 L688.2,493.1 L687.3,490.2 L686.8,486.8 L686.7,483.2 L687.0,479.4 L687.8,475.4 L689.0,471.3 M693.7,498.9 L692.0,496.9 L690.7,494.4 L689.8,491.4 L689.3,488.1 L689.2,484.5 L689.5,480.6 L690.3,476.6 L691.5,472.6 M696.2,500.2 L694.5,498.1 L693.2,495.6 L692.3,492.7 L691.8,489.3 L691.7,485.7 L692.0,481.9 L692.8,477.9 L694.0,473.8 M698.7,501.4 L697.0,499.4 L695.7,496.9 L694.8,493.9 L694.3,490.6 L694.2,487.0 L694.5,483.1 L695.3,479.1 L696.5,475.1 M701.2,502.7 L699.5,500.6 L698.2,498.1 L697.3,495.2 L696.8,491.8 L696.7,488.2 L697.0,484.4 L697.8,480.4 L699.0,476.3 M703.7,503.9 L702.0,501.9 L700.7,499.4 L699.8,496.4 L699.3,493.1 L699.2,489.5 L699.5,485.6 L700.3,481.6 L701.5,477.6 M706.2,505.2 L704.5,503.1 L703.2,500.6 L702.3,497.7 L701.8,494.3 L701.7,490.7 L702.0,486.9 L702.8,482.9 L704.0,478.8 " stroke="#fff" stroke-width=".7" fill="none"/><clipPath id="h3aa76"><path d="M703.1,491.4 L703.3,489.1 L703.6,486.7 L704.0,484.3 L704.6,481.8 L705.4,479.4 L706.2,476.9 L707.3,474.4 L708.4,472.1 L709.7,469.7 L711.0,467.5 L712.5,465.3 L714.1,463.2 L715.7,461.3 L717.4,459.5 L719.2,457.9 L721.0,456.4 L722.8,455.2 L724.6,454.1 L726.4,453.2 L728.2,452.5 L730.0,452.0 L731.7,451.8 L733.3,451.7 L734.9,451.9 L736.4,452.2 L737.9,452.8 L741.2,454.4 L742.5,455.2 L743.7,456.2 L744.8,457.4 L745.7,458.8 L746.5,460.3 L747.2,462.0 L747.7,463.9 L748.0,465.9 L748.2,468.0 L748.2,470.2 L748.1,472.5 L747.8,474.9 L747.4,477.3 L746.8,479.8 L746.0,482.2 L745.2,484.7 L744.1,487.1 L743.0,489.5 L741.7,491.9 L740.4,494.1 L738.9,496.3 L737.3,498.4 L735.7,500.3 L734.0,502.1 L732.2,503.7 L730.4,505.1 L728.6,506.4 L726.8,507.5 L725.0,508.4 L723.2,509.1 L721.4,509.6 L719.7,509.9 L718.1,509.9 L716.5,509.7 L715.0,509.4 L713.5,508.8 L710.1,507.2 L708.9,506.4 L707.7,505.4 L706.6,504.2 L705.7,502.8 L704.9,501.3 L704.2,499.6 L703.7,497.7 L703.4,495.7 L703.2,493.6Z"/></clipPath><path d="M703.1,491.4 L703.3,489.1 L703.6,486.7 L704.0,484.3 L704.6,481.8 L705.4,479.4 L706.2,476.9 L707.3,474.4 L708.4,472.1 L709.7,469.7 L711.0,467.5 L712.5,465.3 L714.1,463.2 L715.7,461.3 L717.4,459.5 L719.2,457.9 L721.0,456.4 L722.8,455.2 L724.6,454.1 L726.4,453.2 L728.2,452.5 L730.0,452.0 L731.7,451.8 L733.3,451.7 L734.9,451.9 L736.4,452.2 L737.9,452.8 L741.2,454.4 L742.5,455.2 L743.7,456.2 L744.8,457.4 L745.7,458.8 L746.5,460.3 L747.2,462.0 L747.7,463.9 L748.0,465.9 L748.2,468.0 L748.2,470.2 L748.1,472.5 L747.8,474.9 L747.4,477.3 L746.8,479.8 L746.0,482.2 L745.2,484.7 L744.1,487.1 L743.0,489.5 L741.7,491.9 L740.4,494.1 L738.9,496.3 L737.3,498.4 L735.7,500.3 L734.0,502.1 L732.2,503.7 L730.4,505.1 L728.6,506.4 L726.8,507.5 L725.0,508.4 L723.2,509.1 L721.4,509.6 L719.7,509.9 L718.1,509.9 L716.5,509.7 L715.0,509.4 L713.5,508.8 L710.1,507.2 L708.9,506.4 L707.7,505.4 L706.6,504.2 L705.7,502.8 L704.9,501.3 L704.2,499.6 L703.7,497.7 L703.4,495.7 L703.2,493.6Z" fill="#fff"/><g clip-path="url(#h3aa76)"></g><path class="l" d="M703.1,491.4 L703.3,489.1 L703.6,486.7 L704.0,484.3 L704.6,481.8 L705.4,479.4 L706.2,476.9 L707.3,474.4 L708.4,472.1 L709.7,469.7 L711.0,467.5 L712.5,465.3 L714.1,463.2 L715.7,461.3 L717.4,459.5 L719.2,457.9 L721.0,456.4 L722.8,455.2 L724.6,454.1 L726.4,453.2 L728.2,452.5 L730.0,452.0 L731.7,451.8 L733.3,451.7 L734.9,451.9 L736.4,452.2 L737.9,452.8 L741.2,454.4 L742.5,455.2 L743.7,456.2 L744.8,457.4 L745.7,458.8 L746.5,460.3 L747.2,462.0 L747.7,463.9 L748.0,465.9 L748.2,468.0 L748.2,470.2 L748.1,472.5 L747.8,474.9 L747.4,477.3 L746.8,479.8 L746.0,482.2 L745.2,484.7 L744.1,487.1 L743.0,489.5 L741.7,491.9 L740.4,494.1 L738.9,496.3 L737.3,498.4 L735.7,500.3 L734.0,502.1 L732.2,503.7 L730.4,505.1 L728.6,506.4 L726.8,507.5 L725.0,508.4 L723.2,509.1 L721.4,509.6 L719.7,509.9 L718.1,509.9 L716.5,509.7 L715.0,509.4 L713.5,508.8 L710.1,507.2 L708.9,506.4 L707.7,505.4 L706.6,504.2 L705.7,502.8 L704.9,501.3 L704.2,499.6 L703.7,497.7 L703.4,495.7 L703.2,493.6Z"/><ellipse class="o" cx="727.4" cy="481.6" rx="17.5" ry="30.5" transform="rotate(27 727.4 481.6)" /><ellipse class="k" cx="728.6" cy="482.4" rx="14" ry="26" transform="rotate(27 728.6 482.4)" /><ellipse class="l" cx="724.5" cy="480.5" rx="9.5" ry="21.5" transform="rotate(27 724.5 480.5)" style="stroke:#fff;stroke-width:.8"/><path class="o" d="M689,437.5 L731,456 L733.5,459.5 L729,462.5 L693,446 L688,441Z"/><path class="k" d="M693,442 L729,458.5 L729,462 L693,446Z"/></g>
<g id="lw63" stroke-linejoin="round"><path class="k" d="M807.4,476.0 L825.7,479.6 L827.4,492.5 L826.8,519.0 L825.0,539.4 L815.8,553.0 L802.7,562.9 L791.8,567.0 L781.6,567.6 L769.8,555.9 L767.8,539.0 L767.5,520.6 L770.8,509.0 L776.8,499.5 L782.8,490.0 L791.0,483.0 L798.8,478.0Z" stroke="#000" stroke-width="1.2"/><path class="o" d="M809.6,477.0 L827.9,480.6 L829.6,493.5 L829.0,520.0 L827.2,540.4 L818.0,554.0 L804.9,563.9 L794.0,568.0 L783.8,568.6 L772.0,556.9 L770.0,540.0 L769.7,521.6 L773.0,510.0 L779.0,500.5 L785.0,491.0 L793.2,484.0 L801.0,479.0Z"/><clipPath id="cc8c11"><path clip-rule="evenodd" d="M-100,-100 H1200 V900 H-100Z M785.25,552.86 A19.5,33.5 22 1 0 810.35,490.74 A19.5,33.5 22 1 0 785.25,552.86Z"/></clipPath><path d="M787.65,553.86 A19.5,33.5 22 1 0 812.75,491.74 A19.5,33.5 22 1 0 787.65,553.86Z" fill="#000" clip-path="url(#cc8c11)"/><ellipse class="l" cx="800.2" cy="522.8" rx="19.5" ry="33.5" transform="rotate(22 800.2 522.8)" /><path class="o" d="M794.5,496 L796,503 L803,502 L802.5,494.5" style="stroke-width:1.2"/></g><g id="nut58b"><path class="k" d="M842.5,520.5 L877.2,510.0 L881.9,512.0 L893.0,545.0 L871.8,587.4 L835.4,598.0 L821.3,560.4Z" stroke="#000" stroke-width="1.2"/><path class="o" d="M847.2,524.5 L880.0,513.4 L893.0,545.0 L871.8,587.4 L839.0,593.2 L826.5,561.0Z"/><ellipse class="l" cx="860.0" cy="555.7" rx="23.5" ry="37.0" transform="rotate(22 860.0 555.7)" /><clipPath id="cc8c12"><path clip-rule="evenodd" d="M-100,-100 H1200 V900 H-100Z M845.93,584.43 A19.0,32.5 22 1 0 870.27,524.17 A19.0,32.5 22 1 0 845.93,584.43Z"/></clipPath><path d="M848.13,585.43 A19.0,32.5 22 1 0 872.47,525.17 A19.0,32.5 22 1 0 848.13,585.43Z" fill="#000" clip-path="url(#cc8c12)"/><ellipse class="l" cx="860.3" cy="555.3" rx="19.0" ry="32.5" transform="rotate(22 860.3 555.3)" /><path class="t" d="M873.9,529.9 L875.5,532.8 L876.6,536.2 L877.2,540.0 L877.2,544.3 L876.8,548.8 L875.9,553.5 L874.5,558.2 L872.7,562.8 L870.4,567.1 L867.9,571.2 L865.1,574.7 L862.1,577.8 L858.9,580.2 L855.8,582.0"/><path class="t" d="M872.4,532.9 L873.2,535.6 L873.7,538.7 L873.8,542.0 L873.6,545.5 L873.1,549.2 L872.2,553.0 L871.1,556.7 L869.6,560.4 L867.9,564.0 L866.0,567.4 L863.8,570.5 L861.6,573.2 L859.2,575.6 L856.7,577.6"/></g><g id="nut58t"><path class="k" d="M419.5,27.7 L460.6,22.1 L472.7,50.3 L449.4,97.9 L412.3,107.6 L396.1,64.8Z" stroke="#000" stroke-width="1"/><path class="o" d="M423.5,29.6 L460.6,23.0 L472.7,50.3 L449.4,97.9 L414.9,105.2 L401.8,65.6Z" style="stroke-width:.8"/><ellipse class="l" cx="435.6" cy="64.4" rx="23.5" ry="39" transform="rotate(24 435.6 64.4)" style="stroke-width:.8"/><clipPath id="cc8c13"><path clip-rule="evenodd" d="M-100,-100 H1200 V900 H-100Z M420.47,92.60 A20,33.5 24 1 0 447.73,31.40 A20,33.5 24 1 0 420.47,92.60Z"/></clipPath><path d="M422.67,93.60 A20,33.5 24 1 0 449.93,32.40 A20,33.5 24 1 0 422.67,93.60Z" fill="#000" clip-path="url(#cc8c13)"/><ellipse class="l" cx="436.3" cy="63" rx="20" ry="33.5" transform="rotate(24 436.3 63)" style="stroke-width:.8"/><path class="t" d="M453.3,40.7 L454.3,44.4 L454.8,48.4 L454.7,52.9 L454.1,57.6 L453.0,62.4 L451.4,67.2 L449.3,71.8 L446.8,76.2 L443.9,80.2 L440.9,83.8 L437.6,86.7 L434.2,89.1 L430.9,90.7 L427.6,91.5"/><path class="t" d="M451.0,44.3 L451.4,47.6 L451.3,51.1 L450.9,54.8 L450.2,58.6 L449.1,62.5 L447.7,66.3 L446.0,70.1 L444.0,73.6 L441.8,77.0 L439.4,80.0 L436.9,82.7 L434.3,84.9 L431.6,86.8 L429.0,88.1"/></g><g id="tab57" stroke-linejoin="round"><path class="k" d="M957.2,600.6 L963.6,604.2 L963.2,605.1 L962.8,606.0 L962.5,606.9 L962.1,607.7 L961.7,608.6 L961.2,609.4 L960.8,610.3 L960.4,611.1 L959.9,611.9 L959.5,612.8 L959.0,613.6 L958.6,614.4 L958.1,615.2 L957.6,616.0 L957.1,616.8 L956.7,617.6 L956.1,618.3 L955.6,619.1 L955.1,619.9 L954.6,620.6 L954.1,621.4 L953.5,622.1 L953.0,622.8 L952.5,623.5 L951.9,624.2 L951.3,624.9 L950.8,625.6 L950.2,626.3 L946.0,619.0 L945.6,619.5 L945.1,620.0 L944.6,620.5 L944.2,621.0 L943.7,621.5 L943.2,621.9 L942.8,622.4 L942.3,622.8 L941.8,623.3 L941.3,623.7 L940.8,624.1 L940.4,624.5 L939.9,624.9 L939.4,625.3 L938.9,625.7 L938.4,626.0 L937.9,626.4 L937.4,626.7 L936.9,627.0 L936.4,627.3 L935.9,627.7 L935.4,627.9 L934.9,628.2 L934.4,628.5 L933.9,628.8 L933.4,629.0 L932.9,629.3 L932.4,629.5 L931.9,629.7 L931.4,629.9 L930.9,630.1 L930.4,630.3 L929.9,630.4 L929.4,630.6 L928.9,630.7 L928.4,630.9 L927.9,631.0 L927.4,631.1 L925.1,642.5 L924.5,642.6 L923.9,642.6 L923.3,642.7 L922.6,642.8 L922.0,642.8 L921.4,642.8 L920.8,642.9 L920.2,642.9 L919.6,642.8 L919.0,642.8 L918.4,642.7 L917.8,642.7 L917.2,642.6 L916.6,642.5 L916.1,642.4 L915.5,642.2 L914.9,642.1 L914.4,641.9 L913.8,641.7 L913.3,641.5 L912.7,641.3 L912.2,641.1 L911.7,640.9 L911.1,640.6 L910.6,640.3 L910.1,640.1 L909.6,639.8 L909.1,639.4 L914.0,628.6 L913.6,628.3 L913.2,628.0 L912.9,627.7 L912.5,627.4 L912.2,627.1 L911.8,626.8 L911.5,626.4 L911.2,626.1 L910.8,625.7 L910.5,625.4 L910.2,625.0 L909.9,624.6 L909.6,624.2 L909.3,623.8 L909.0,623.4 L908.8,622.9 L908.5,622.5 L908.2,622.0 L908.0,621.6 L907.7,621.1 L907.5,620.6 L907.3,620.2 L899.7,627.7 L899.5,627.1 L899.2,626.4 L899.0,625.7 L898.7,625.1 L898.5,624.4 L898.3,623.7 L898.0,623.0 L897.8,622.3 L897.7,621.5 L897.5,620.8 L897.3,620.0 L897.2,619.3 L897.0,618.5 L896.9,617.8 L896.7,617.0 L896.6,616.2 L896.5,615.4 L896.4,614.6 L896.4,613.8 L896.3,613.0 L896.2,612.1 L896.2,611.3 L896.2,610.5 L896.1,609.6 L896.1,608.8 L896.1,607.9 L896.1,607.1 L896.2,606.2 L904.3,602.2 L904.3,601.5 L904.3,600.8 L904.4,600.1 L904.5,599.4 L904.5,598.7 L904.6,598.0 L904.7,597.3 L904.8,596.6 L904.9,595.9 L905.0,595.2 L905.1,594.5 L905.3,593.8 L905.4,593.1 L905.5,592.4 L905.7,591.7 L905.9,591.0 L906.0,590.3 L906.2,589.6 L906.4,588.9 L906.6,588.2 L906.8,587.4 L907.0,586.7 L907.2,586.0 L907.5,585.3 L907.7,584.6 L907.9,583.9 L908.2,583.2 L908.5,582.5 L908.7,581.8 L909.0,581.2 L909.3,580.5 L909.6,579.8 L903.4,575.8 L903.7,574.9 L904.1,574.1 L904.5,573.2 L905.0,572.4 L905.4,571.5 L905.8,570.7 L906.3,569.9 L906.7,569.0 L907.2,568.2 L907.6,567.4 L908.1,566.6 L908.6,565.8 L909.1,565.0 L909.5,564.2 L910.1,563.5 L910.6,562.7 L911.1,561.9 L911.6,561.2 L912.1,560.4 L912.7,559.7 L913.2,559.0 L913.7,558.3 L914.3,557.6 L914.9,556.9 L915.4,556.2 L916.0,555.5 L916.6,554.9 L917.1,554.2 L921.1,561.8 L921.6,561.3 L922.0,560.8 L922.5,560.3 L923.0,559.9 L923.4,559.4 L923.9,559.0 L924.4,558.5 L924.9,558.1 L925.4,557.7 L925.8,557.3 L926.3,556.9 L926.8,556.5 L927.3,556.1 L927.8,555.8 L928.3,555.4 L928.8,555.1 L929.3,554.8 L929.8,554.5 L930.3,554.1 L930.8,553.9 L931.3,553.6 L931.8,553.3 L932.3,553.0 L932.8,552.8 L933.3,552.5 L933.8,552.3 L934.3,552.1 L934.8,551.9 L935.3,551.7 L935.8,551.5 L936.3,551.4 L936.8,551.2 L937.3,551.1 L937.8,550.9 L938.3,550.8 L938.8,550.7 L941.1,539.3 L941.7,539.2 L942.3,539.2 L942.9,539.1 L943.6,539.0 L944.2,539.0 L944.8,539.0 L945.4,538.9 L946.0,538.9 L946.6,539.0 L947.2,539.0 L947.8,539.1 L948.4,539.1 L949.0,539.2 L949.6,539.3 L950.1,539.4 L950.7,539.6 L951.3,539.7 L951.8,539.9 L952.4,540.1 L952.9,540.3 L953.5,540.5 L954.0,540.7 L954.5,540.9 L955.1,541.2 L955.6,541.5 L956.1,541.7 L956.6,542.0 L957.1,542.4 L952.2,553.2 L952.6,553.5 L953.0,553.8 L953.3,554.1 L953.7,554.4 L954.0,554.7 L954.4,555.0 L954.7,555.4 L955.0,555.7 L955.4,556.1 L955.7,556.4 L956.0,556.8 L956.3,557.2 L956.6,557.6 L956.9,558.0 L957.2,558.4 L957.4,558.9 L957.7,559.3 L958.0,559.8 L958.2,560.2 L958.5,560.7 L965.9,552.8 L966.2,553.5 L966.5,554.1 L966.7,554.7 L967.0,555.4 L967.2,556.1 L967.5,556.7 L967.7,557.4 L967.9,558.1 L968.2,558.8 L968.4,559.5 L968.5,560.3 L968.7,561.0 L968.9,561.8 L969.0,562.5 L969.2,563.3 L969.3,564.0 L969.5,564.8 L969.6,565.6 L969.7,566.4 L969.8,567.2 L969.8,568.0 L969.9,568.8 L970.0,569.7 L970.0,570.5 L970.0,571.3 L970.1,572.2 L970.1,573.0 L970.1,573.9 L962.0,578.3 L962.0,579.0 L961.9,579.6 L961.9,580.3 L961.9,581.0 L961.8,581.7 L961.7,582.4 L961.7,583.1 L961.6,583.8 L961.5,584.5 L961.4,585.2 L961.3,585.9 L961.2,586.6 L961.1,587.3 L960.9,588.0 L960.8,588.7 L960.7,589.4 L960.5,590.1 L960.3,590.8 L960.2,591.5 L960.0,592.2 L959.8,592.9 L959.6,593.6 L959.4,594.4 L959.2,595.1 L959.0,595.8 L958.7,596.5 L958.5,597.2 L958.3,597.9 L958.0,598.6 L957.7,599.3 L957.5,600.0Z" stroke="#000" stroke-width="1.2"/><path class="o" d="M959.4,601.6 L965.8,605.2 L965.4,606.1 L965.0,607.0 L964.7,607.9 L964.3,608.7 L963.9,609.6 L963.4,610.4 L963.0,611.3 L962.6,612.1 L962.1,612.9 L961.7,613.8 L961.2,614.6 L960.8,615.4 L960.3,616.2 L959.8,617.0 L959.3,617.8 L958.9,618.6 L958.3,619.3 L957.8,620.1 L957.3,620.9 L956.8,621.6 L956.3,622.4 L955.7,623.1 L955.2,623.8 L954.7,624.5 L954.1,625.2 L953.5,625.9 L953.0,626.6 L952.4,627.3 L948.2,620.0 L947.8,620.5 L947.3,621.0 L946.8,621.5 L946.4,622.0 L945.9,622.5 L945.4,622.9 L945.0,623.4 L944.5,623.8 L944.0,624.3 L943.5,624.7 L943.0,625.1 L942.6,625.5 L942.1,625.9 L941.6,626.3 L941.1,626.7 L940.6,627.0 L940.1,627.4 L939.6,627.7 L939.1,628.0 L938.6,628.3 L938.1,628.7 L937.6,628.9 L937.1,629.2 L936.6,629.5 L936.1,629.8 L935.6,630.0 L935.1,630.3 L934.6,630.5 L934.1,630.7 L933.6,630.9 L933.1,631.1 L932.6,631.3 L932.1,631.4 L931.6,631.6 L931.1,631.7 L930.6,631.9 L930.1,632.0 L929.6,632.1 L927.3,643.5 L926.7,643.6 L926.1,643.6 L925.5,643.7 L924.8,643.8 L924.2,643.8 L923.6,643.8 L923.0,643.9 L922.4,643.9 L921.8,643.8 L921.2,643.8 L920.6,643.7 L920.0,643.7 L919.4,643.6 L918.8,643.5 L918.3,643.4 L917.7,643.2 L917.1,643.1 L916.6,642.9 L916.0,642.7 L915.5,642.5 L914.9,642.3 L914.4,642.1 L913.9,641.9 L913.3,641.6 L912.8,641.3 L912.3,641.1 L911.8,640.8 L911.3,640.4 L916.2,629.6 L915.8,629.3 L915.4,629.0 L915.1,628.7 L914.7,628.4 L914.4,628.1 L914.0,627.8 L913.7,627.4 L913.4,627.1 L913.0,626.7 L912.7,626.4 L912.4,626.0 L912.1,625.6 L911.8,625.2 L911.5,624.8 L911.2,624.4 L911.0,623.9 L910.7,623.5 L910.4,623.0 L910.2,622.6 L909.9,622.1 L909.7,621.6 L909.5,621.2 L901.9,628.7 L901.7,628.1 L901.4,627.4 L901.2,626.7 L900.9,626.1 L900.7,625.4 L900.5,624.7 L900.2,624.0 L900.0,623.3 L899.9,622.5 L899.7,621.8 L899.5,621.0 L899.4,620.3 L899.2,619.5 L899.1,618.8 L898.9,618.0 L898.8,617.2 L898.7,616.4 L898.6,615.6 L898.6,614.8 L898.5,614.0 L898.4,613.1 L898.4,612.3 L898.4,611.5 L898.3,610.6 L898.3,609.8 L898.3,608.9 L898.3,608.1 L898.4,607.2 L906.5,603.2 L906.5,602.5 L906.5,601.8 L906.6,601.1 L906.7,600.4 L906.7,599.7 L906.8,599.0 L906.9,598.3 L907.0,597.6 L907.1,596.9 L907.2,596.2 L907.3,595.5 L907.5,594.8 L907.6,594.1 L907.7,593.4 L907.9,592.7 L908.1,592.0 L908.2,591.3 L908.4,590.6 L908.6,589.9 L908.8,589.2 L909.0,588.4 L909.2,587.7 L909.4,587.0 L909.7,586.3 L909.9,585.6 L910.1,584.9 L910.4,584.2 L910.7,583.5 L910.9,582.8 L911.2,582.2 L911.5,581.5 L911.8,580.8 L905.6,576.8 L905.9,575.9 L906.3,575.1 L906.7,574.2 L907.2,573.4 L907.6,572.5 L908.0,571.7 L908.5,570.9 L908.9,570.0 L909.4,569.2 L909.8,568.4 L910.3,567.6 L910.8,566.8 L911.3,566.0 L911.7,565.2 L912.3,564.5 L912.8,563.7 L913.3,562.9 L913.8,562.2 L914.3,561.4 L914.9,560.7 L915.4,560.0 L915.9,559.3 L916.5,558.6 L917.1,557.9 L917.6,557.2 L918.2,556.5 L918.8,555.9 L919.3,555.2 L923.3,562.8 L923.8,562.3 L924.2,561.8 L924.7,561.3 L925.2,560.9 L925.6,560.4 L926.1,560.0 L926.6,559.5 L927.1,559.1 L927.6,558.7 L928.0,558.3 L928.5,557.9 L929.0,557.5 L929.5,557.1 L930.0,556.8 L930.5,556.4 L931.0,556.1 L931.5,555.8 L932.0,555.5 L932.5,555.1 L933.0,554.9 L933.5,554.6 L934.0,554.3 L934.5,554.0 L935.0,553.8 L935.5,553.5 L936.0,553.3 L936.5,553.1 L937.0,552.9 L937.5,552.7 L938.0,552.5 L938.5,552.4 L939.0,552.2 L939.5,552.1 L940.0,551.9 L940.5,551.8 L941.0,551.7 L943.3,540.3 L943.9,540.2 L944.5,540.2 L945.1,540.1 L945.8,540.0 L946.4,540.0 L947.0,540.0 L947.6,539.9 L948.2,539.9 L948.8,540.0 L949.4,540.0 L950.0,540.1 L950.6,540.1 L951.2,540.2 L951.8,540.3 L952.3,540.4 L952.9,540.6 L953.5,540.7 L954.0,540.9 L954.6,541.1 L955.1,541.3 L955.7,541.5 L956.2,541.7 L956.7,541.9 L957.3,542.2 L957.8,542.5 L958.3,542.7 L958.8,543.0 L959.3,543.4 L954.4,554.2 L954.8,554.5 L955.2,554.8 L955.5,555.1 L955.9,555.4 L956.2,555.7 L956.6,556.0 L956.9,556.4 L957.2,556.7 L957.6,557.1 L957.9,557.4 L958.2,557.8 L958.5,558.2 L958.8,558.6 L959.1,559.0 L959.4,559.4 L959.6,559.9 L959.9,560.3 L960.2,560.8 L960.4,561.2 L960.7,561.7 L968.1,553.8 L968.4,554.5 L968.7,555.1 L968.9,555.7 L969.2,556.4 L969.4,557.1 L969.7,557.7 L969.9,558.4 L970.1,559.1 L970.4,559.8 L970.6,560.5 L970.7,561.3 L970.9,562.0 L971.1,562.8 L971.2,563.5 L971.4,564.3 L971.5,565.0 L971.7,565.8 L971.8,566.6 L971.9,567.4 L972.0,568.2 L972.0,569.0 L972.1,569.8 L972.2,570.7 L972.2,571.5 L972.2,572.3 L972.3,573.2 L972.3,574.0 L972.3,574.9 L964.2,579.3 L964.2,580.0 L964.1,580.6 L964.1,581.3 L964.1,582.0 L964.0,582.7 L963.9,583.4 L963.9,584.1 L963.8,584.8 L963.7,585.5 L963.6,586.2 L963.5,586.9 L963.4,587.6 L963.3,588.3 L963.1,589.0 L963.0,589.7 L962.9,590.4 L962.7,591.1 L962.5,591.8 L962.4,592.5 L962.2,593.2 L962.0,593.9 L961.8,594.6 L961.6,595.4 L961.4,596.1 L961.2,596.8 L960.9,597.5 L960.7,598.2 L960.5,598.9 L960.2,599.6 L959.9,600.3 L959.7,601.0Z"/><clipPath id="cc8c14"><path clip-rule="evenodd" d="M-100,-100 H1200 V900 H-100Z M920.18,622.89 A19.5,34.5 22 1 0 946.02,558.91 A19.5,34.5 22 1 0 920.18,622.89Z"/></clipPath><path d="M922.38,623.89 A19.5,34.5 22 1 0 948.22,559.91 A19.5,34.5 22 1 0 922.38,623.89Z" fill="#000" clip-path="url(#cc8c14)"/><ellipse class="l" cx="935.3" cy="591.9" rx="19.5" ry="34.5" transform="rotate(22 935.3 591.9)" /><path class="o" d="M925.5,566 L927.5,572 L933,569.5 L931,563.5" style="stroke-width:1.2"/></g>
<g class="lb"><text x="627.5" y="33.5">58</text><text x="651" y="33.5">69-2401052</text><text x="627.5" y="57.5">59</text><text x="651" y="57.5">3151-2407048</text><text x="627.5" y="85.5">60</text><text x="651" y="85.5">452-2304091</text><text x="893" y="41.5">50</text><text x="916.5" y="41.5">263003</text><text x="893" y="59.5">51</text><text x="916.5" y="59.5">11-405662</text><text x="894" y="205">52</text><text x="917.5" y="205">452-2304116-Б</text><text x="894" y="229.5">53</text><text x="917.5" y="229.5">3741-2304118</text><text x="894" y="248.8">54</text><text x="917.5" y="248.8">452-2304112-01</text><text x="895.5" y="386.5">55</text><text x="919.5" y="386.5">452-3103065</text><text x="895.5" y="403.5">56</text><text x="919.5" y="403.5">350007</text><text x="895.5" y="420.5">24</text><text x="919.5" y="420.5">252136-П2</text><text x="895.5" y="435.5">57</text><text x="919.5" y="435.5">69-2401055</text><text x="500.5" y="522">61</text><text x="525" y="522">69-2304080</text><text x="500.5" y="535">62</text><text x="525" y="535">69-2304084</text><text x="500.5" y="548">63</text><text x="525" y="548">61-121168</text><text x="500.5" y="561">58</text><text x="525" y="561">69-2401052</text><text x="500.5" y="574">24</text><text x="525" y="574">252136-П2</text><text x="500.5" y="587">64</text><text x="525" y="587">290776-П8</text><text x="500.5" y="600">65</text><text x="525" y="600">69-2304083</text><text x="500.5" y="613">38</text><text x="525" y="613">3741-2304024</text><text x="500.5" y="626">66</text><text x="525" y="626">69-2304081</text><text x="500.5" y="639">67</text><text x="525" y="639">69-2401025</text><text x="500.5" y="652">68</text><text x="525" y="652">31512-2304210</text><g transform="translate(0,24) scale(1,0.72)"><text x="893" y="0">49</text><text x="916.5" y="0">452-2304114-10</text></g></g>
<g id="wm" style="mix-blend-mode:multiply"><clipPath id="wmc"><circle cx="506" cy="303" r="131"/></clipPath><circle cx="506" cy="303" r="131" fill="#dddddd"/><path fill="#fff" clip-path="url(#wmc)" d="M487.7,160 H517.6 V450 H487.7Z M487.7,228.6 L458.9,228.6 A58.2,58.2 0 0 0 458.9,345 L458.9,314 A27.2,27.2 0 0 1 458.9,259.6 L487.7,259.6Z M517.6,376.3 L546.4,376.3 A58.2,58.2 0 0 0 546.4,260 L546.4,291 A27.2,27.2 0 0 1 546.4,345.4 L517.6,345.4Z"/><text x="347" y="494" font-size="64" fill="#dddddd" font-family="Liberation Sans, sans-serif">data-parts</text></g>
</svg>
</body></html>
